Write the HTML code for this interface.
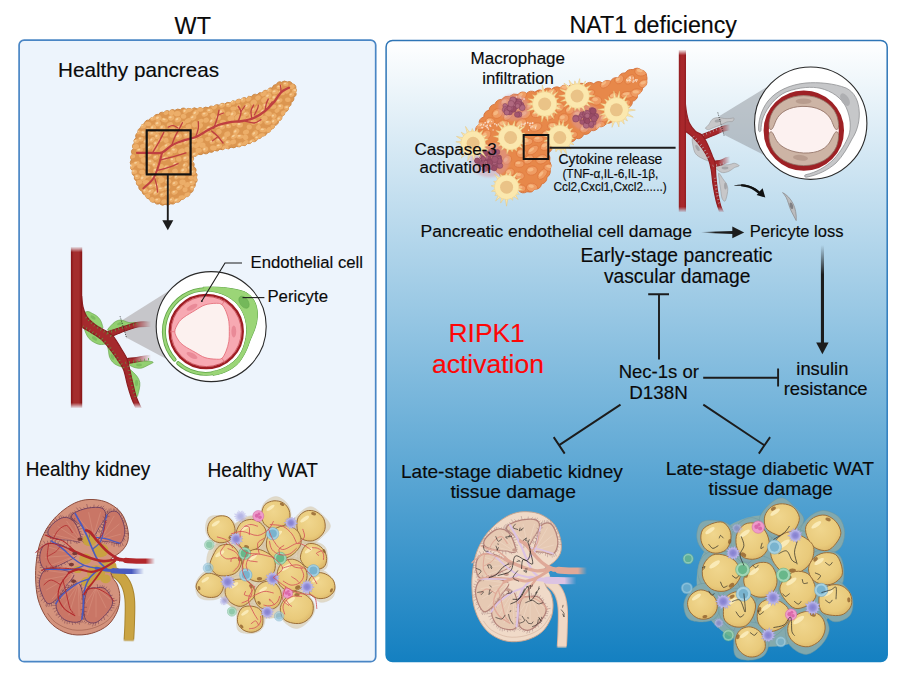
<!DOCTYPE html>
<html><head><meta charset="utf-8"><title>Graphical abstract</title>
<style>
html,body{margin:0;padding:0;background:#fff;}
svg{display:block}
text{font-family:"Liberation Sans",sans-serif;}
</style></head><body>
<svg width="909" height="675" viewBox="0 0 909 675">
<defs>
<linearGradient id="gAh" x1="0" y1="0" x2="1" y2="0"><stop offset="0" stop-color="#1c1c1c" stop-opacity="0"/><stop offset="0.45" stop-color="#1c1c1c"/></linearGradient>
<linearGradient id="gAv" x1="0" y1="0" x2="0" y2="1"><stop offset="0" stop-color="#1c1c1c" stop-opacity="0"/><stop offset="0.3" stop-color="#1c1c1c"/></linearGradient>
<linearGradient id="gR" x1="0" y1="0" x2="0" y2="1"><stop offset="0" stop-color="#ffffff"/><stop offset="1" stop-color="#1480c1"/></linearGradient>
<linearGradient id="gRs" x1="0" y1="0" x2="0" y2="1"><stop offset="0" stop-color="#2e75b6"/><stop offset="0.8" stop-color="#2e7fc0"/><stop offset="1" stop-color="#1480c1"/></linearGradient>
<linearGradient id="vT" x1="0" y1="0" x2="1" y2="0"><stop offset="0" stop-color="#851214"/><stop offset="0.25" stop-color="#a42d2d"/><stop offset="0.7" stop-color="#a42d2d"/><stop offset="1" stop-color="#851214"/></linearGradient>
<linearGradient id="fadeV" x1="0" y1="0" x2="0" y2="1"><stop offset="0" stop-color="#fff" stop-opacity="0"/><stop offset="0.035" stop-color="#fff" stop-opacity="1"/><stop offset="0.965" stop-color="#fff" stop-opacity="1"/><stop offset="1" stop-color="#fff" stop-opacity="0"/></linearGradient>
<mask id="mVL" maskUnits="userSpaceOnUse" x="60" y="240" width="120" height="180"><rect x="60" y="246.5" width="120" height="162" fill="url(#fadeV)"/></mask>
<linearGradient id="fadeH" x1="0" y1="0" x2="1" y2="0"><stop offset="0" stop-color="#fff"/><stop offset="0.8" stop-color="#fff"/><stop offset="1" stop-color="#fff" stop-opacity="0"/></linearGradient>
<mask id="mVLb" maskUnits="userSpaceOnUse" x="60" y="240" width="120" height="180"><rect x="60" y="240" width="91" height="180" fill="url(#fadeH)"/></mask>
<filter id="bl05" x="-5%" y="-5%" width="110%" height="110%"><feGaussianBlur stdDeviation="0.5"/></filter>
<filter id="bl1" x="-5%" y="-5%" width="110%" height="110%"><feGaussianBlur stdDeviation="0.9"/></filter>
<linearGradient id="vT2" x1="0" y1="0" x2="1" y2="0"><stop offset="0" stop-color="#8f1c20"/><stop offset="0.3" stop-color="#a8272b"/><stop offset="0.7" stop-color="#a8272b"/><stop offset="1" stop-color="#8f1c20"/></linearGradient>
<mask id="mVR" maskUnits="userSpaceOnUse" x="670" y="40" width="80" height="180"><rect x="670" y="49.5" width="80" height="163" fill="url(#fadeV)"/></mask>
<mask id="mVRb" maskUnits="userSpaceOnUse" x="670" y="40" width="80" height="180"><rect x="670" y="40" width="60" height="180" fill="url(#fadeH)"/></mask>

<linearGradient id="fadeKU" x1="0" y1="0" x2="0" y2="1"><stop offset="0" stop-color="#fff"/><stop offset="0.96" stop-color="#fff"/><stop offset="1" stop-color="#fff" stop-opacity="0"/></linearGradient>
<mask id="mKU" maskUnits="userSpaceOnUse" x="90" y="560" width="60" height="90"><rect x="90" y="560" width="60" height="82" fill="url(#fadeKU)"/></mask>
<linearGradient id="fadeKV" x1="0" y1="0" x2="1" y2="0"><stop offset="0" stop-color="#fff"/><stop offset="0.93" stop-color="#fff"/><stop offset="1" stop-color="#fff" stop-opacity="0"/></linearGradient>
<linearGradient id="fadeKV2" x1="0" y1="0" x2="1" y2="0"><stop offset="0" stop-color="#fff"/><stop offset="0.9" stop-color="#fff"/><stop offset="1" stop-color="#fff" stop-opacity="0"/></linearGradient>
<mask id="mKV2" maskUnits="userSpaceOnUse" x="20" y="490" width="140" height="160"><rect x="20" y="490" width="124" height="160" fill="url(#fadeKV2)"/></mask>
<mask id="mKV" maskUnits="userSpaceOnUse" x="20" y="490" width="140" height="160"><rect x="20" y="490" width="135" height="160" fill="url(#fadeKV)"/></mask>

<radialGradient id="adi" cx="0.42" cy="0.38" r="0.75"><stop offset="0" stop-color="#f0d68e"/><stop offset="0.65" stop-color="#e9ca7b"/><stop offset="1" stop-color="#d6ae62"/></radialGradient>
<radialGradient id="cPu" cx="0.5" cy="0.5" r="0.5"><stop offset="0" stop-color="#8480cf"/><stop offset="0.5" stop-color="#918cd6"/><stop offset="0.8" stop-color="#aaa6e2"/><stop offset="1" stop-color="#bcb8ea"/></radialGradient>
<radialGradient id="cTe" cx="0.5" cy="0.5" r="0.5"><stop offset="0" stop-color="#a8d6e2"/><stop offset="0.6" stop-color="#7fbdd2"/><stop offset="1" stop-color="#5fa3c0"/></radialGradient>
<radialGradient id="cGr" cx="0.5" cy="0.5" r="0.5"><stop offset="0" stop-color="#a6dcb8"/><stop offset="0.6" stop-color="#73c395"/><stop offset="1" stop-color="#55a87b"/></radialGradient>
<radialGradient id="cPk" cx="0.5" cy="0.5" r="0.5"><stop offset="0" stop-color="#f0a6d2"/><stop offset="0.7" stop-color="#e683bf"/><stop offset="1" stop-color="#d66aae"/></radialGradient>

</defs>
<rect width="909" height="675" fill="#fff"/>

<rect x="19.1" y="40.1" width="356.6" height="621.6" rx="5" fill="#edf4fc" stroke="#4a86c5" stroke-width="1.7"/>
<rect x="386.1" y="40.4" width="501.1" height="621.1" rx="6.5" fill="url(#gR)" stroke="url(#gRs)" stroke-width="1.5"/>

<g id="pancL">
<clipPath id="cpL"><path d="M295.8 88.3A3.9 3.9 0 0 0 292.4 83.9A3.6 3.6 0 0 0 287.2 82.0A4.4 4.4 0 0 0 281.6 82.3A3.4 3.4 0 0 0 276.5 84.4A4.2 4.2 0 0 0 272.3 88.1A3.9 3.9 0 0 0 267.5 90.8A3.4 3.4 0 0 0 262.3 93.0A4.2 4.2 0 0 0 257.0 94.9A3.4 3.4 0 0 0 251.7 96.7A4.0 4.0 0 0 0 246.4 98.4A3.4 3.4 0 0 0 241.0 99.9A3.5 3.5 0 0 0 235.6 101.4A4.0 4.0 0 0 0 230.2 102.8A4.7 4.7 0 0 0 224.7 104.1A3.5 3.5 0 0 0 219.3 105.4A3.7 3.7 0 0 0 213.8 106.6A4.4 4.4 0 0 0 208.3 107.7A4.9 4.9 0 0 0 202.8 108.5A4.3 4.3 0 0 0 197.2 109.0A4.0 4.0 0 0 0 191.6 109.2A5.0 5.0 0 0 0 186.0 109.4A3.4 3.4 0 0 0 180.4 109.7A4.8 4.8 0 0 0 174.9 110.4A3.8 3.8 0 0 0 169.3 111.4A3.5 3.5 0 0 0 163.9 112.7A3.5 3.5 0 0 0 158.7 114.6A3.8 3.8 0 0 0 153.7 117.2A4.7 4.7 0 0 0 149.0 120.2A3.6 3.6 0 0 0 144.5 123.6A4.3 4.3 0 0 0 140.7 127.7A4.4 4.4 0 0 0 138.0 132.6A3.9 3.9 0 0 0 136.0 137.8A4.2 4.2 0 0 0 134.4 143.2A3.4 3.4 0 0 0 133.4 148.7A3.4 3.4 0 0 0 132.4 154.2A3.7 3.7 0 0 0 131.4 159.7A4.5 4.5 0 0 0 131.3 165.3A4.0 4.0 0 0 0 132.5 170.7A3.8 3.8 0 0 0 134.4 176.0A4.3 4.3 0 0 0 136.6 181.2A4.1 4.1 0 0 0 138.9 186.2A3.8 3.8 0 0 0 141.9 191.0A4.7 4.7 0 0 0 145.4 195.3A4.5 4.5 0 0 0 149.5 199.2A3.7 3.7 0 0 0 154.2 202.1A4.3 4.3 0 0 0 159.6 203.7A4.2 4.2 0 0 0 165.1 204.4A4.8 4.8 0 0 0 170.7 203.8A4.5 4.5 0 0 0 176.0 202.0A3.8 3.8 0 0 0 181.1 199.6A5.0 5.0 0 0 0 185.8 196.7A3.5 3.5 0 0 0 190.0 193.0A4.0 4.0 0 0 0 193.2 188.4A4.6 4.6 0 0 0 195.2 183.2A3.6 3.6 0 0 0 196.3 177.7A4.1 4.1 0 0 0 195.4 172.2A3.4 3.4 0 0 0 193.7 166.9A4.4 4.4 0 0 0 192.4 161.4A4.6 4.6 0 0 0 193.0 156.1A4.3 4.3 0 0 0 198.1 154.2A4.8 4.8 0 0 0 203.6 153.2A3.8 3.8 0 0 0 209.1 151.9A4.5 4.5 0 0 0 214.5 150.5A4.3 4.3 0 0 0 219.9 149.2A4.3 4.3 0 0 0 225.4 148.0A4.1 4.1 0 0 0 231.0 147.2A4.7 4.7 0 0 0 236.5 146.5A4.9 4.9 0 0 0 242.0 145.3A4.1 4.1 0 0 0 247.3 143.6A4.4 4.4 0 0 0 252.5 141.4A3.4 3.4 0 0 0 257.4 138.8A4.5 4.5 0 0 0 262.3 136.1A4.4 4.4 0 0 0 267.0 133.0A5.0 5.0 0 0 0 271.3 129.4A4.7 4.7 0 0 0 275.0 125.3A3.8 3.8 0 0 0 278.5 120.9A4.0 4.0 0 0 0 281.9 116.4A4.4 4.4 0 0 0 285.1 111.8A3.3 3.3 0 0 0 288.1 107.1A4.1 4.1 0 0 0 291.0 102.3A3.6 3.6 0 0 0 293.6 97.3A3.5 3.5 0 0 0 295.7 92.2A3.4 3.4 0 0 0 295.8 88.3z"/></clipPath>
<path d="M295.8 88.3A3.9 3.9 0 0 0 292.4 83.9A3.6 3.6 0 0 0 287.2 82.0A4.4 4.4 0 0 0 281.6 82.3A3.4 3.4 0 0 0 276.5 84.4A4.2 4.2 0 0 0 272.3 88.1A3.9 3.9 0 0 0 267.5 90.8A3.4 3.4 0 0 0 262.3 93.0A4.2 4.2 0 0 0 257.0 94.9A3.4 3.4 0 0 0 251.7 96.7A4.0 4.0 0 0 0 246.4 98.4A3.4 3.4 0 0 0 241.0 99.9A3.5 3.5 0 0 0 235.6 101.4A4.0 4.0 0 0 0 230.2 102.8A4.7 4.7 0 0 0 224.7 104.1A3.5 3.5 0 0 0 219.3 105.4A3.7 3.7 0 0 0 213.8 106.6A4.4 4.4 0 0 0 208.3 107.7A4.9 4.9 0 0 0 202.8 108.5A4.3 4.3 0 0 0 197.2 109.0A4.0 4.0 0 0 0 191.6 109.2A5.0 5.0 0 0 0 186.0 109.4A3.4 3.4 0 0 0 180.4 109.7A4.8 4.8 0 0 0 174.9 110.4A3.8 3.8 0 0 0 169.3 111.4A3.5 3.5 0 0 0 163.9 112.7A3.5 3.5 0 0 0 158.7 114.6A3.8 3.8 0 0 0 153.7 117.2A4.7 4.7 0 0 0 149.0 120.2A3.6 3.6 0 0 0 144.5 123.6A4.3 4.3 0 0 0 140.7 127.7A4.4 4.4 0 0 0 138.0 132.6A3.9 3.9 0 0 0 136.0 137.8A4.2 4.2 0 0 0 134.4 143.2A3.4 3.4 0 0 0 133.4 148.7A3.4 3.4 0 0 0 132.4 154.2A3.7 3.7 0 0 0 131.4 159.7A4.5 4.5 0 0 0 131.3 165.3A4.0 4.0 0 0 0 132.5 170.7A3.8 3.8 0 0 0 134.4 176.0A4.3 4.3 0 0 0 136.6 181.2A4.1 4.1 0 0 0 138.9 186.2A3.8 3.8 0 0 0 141.9 191.0A4.7 4.7 0 0 0 145.4 195.3A4.5 4.5 0 0 0 149.5 199.2A3.7 3.7 0 0 0 154.2 202.1A4.3 4.3 0 0 0 159.6 203.7A4.2 4.2 0 0 0 165.1 204.4A4.8 4.8 0 0 0 170.7 203.8A4.5 4.5 0 0 0 176.0 202.0A3.8 3.8 0 0 0 181.1 199.6A5.0 5.0 0 0 0 185.8 196.7A3.5 3.5 0 0 0 190.0 193.0A4.0 4.0 0 0 0 193.2 188.4A4.6 4.6 0 0 0 195.2 183.2A3.6 3.6 0 0 0 196.3 177.7A4.1 4.1 0 0 0 195.4 172.2A3.4 3.4 0 0 0 193.7 166.9A4.4 4.4 0 0 0 192.4 161.4A4.6 4.6 0 0 0 193.0 156.1A4.3 4.3 0 0 0 198.1 154.2A4.8 4.8 0 0 0 203.6 153.2A3.8 3.8 0 0 0 209.1 151.9A4.5 4.5 0 0 0 214.5 150.5A4.3 4.3 0 0 0 219.9 149.2A4.3 4.3 0 0 0 225.4 148.0A4.1 4.1 0 0 0 231.0 147.2A4.7 4.7 0 0 0 236.5 146.5A4.9 4.9 0 0 0 242.0 145.3A4.1 4.1 0 0 0 247.3 143.6A4.4 4.4 0 0 0 252.5 141.4A3.4 3.4 0 0 0 257.4 138.8A4.5 4.5 0 0 0 262.3 136.1A4.4 4.4 0 0 0 267.0 133.0A5.0 5.0 0 0 0 271.3 129.4A4.7 4.7 0 0 0 275.0 125.3A3.8 3.8 0 0 0 278.5 120.9A4.0 4.0 0 0 0 281.9 116.4A4.4 4.4 0 0 0 285.1 111.8A3.3 3.3 0 0 0 288.1 107.1A4.1 4.1 0 0 0 291.0 102.3A3.6 3.6 0 0 0 293.6 97.3A3.5 3.5 0 0 0 295.7 92.2A3.4 3.4 0 0 0 295.8 88.3z" fill="#dc9650" stroke="#c98643" stroke-width="0.9"/>
<g clip-path="url(#cpL)">
<g fill="#ecae69" filter="url(#bl05)"><ellipse cx="258.0" cy="97.8" rx="2.8" ry="2.3" transform="rotate(-32 258.0 97.8)"/><ellipse cx="172.0" cy="129.8" rx="3.4" ry="2.6" transform="rotate(-25 172.0 129.8)"/><ellipse cx="275.0" cy="91.8" rx="3.3" ry="2.5" transform="rotate(-16 275.0 91.8)"/><ellipse cx="205.3" cy="149.2" rx="2.9" ry="2.7" transform="rotate(-46 205.3 149.2)"/><ellipse cx="273.8" cy="116.0" rx="2.7" ry="2.5" transform="rotate(-27 273.8 116.0)"/><ellipse cx="199.7" cy="125.9" rx="3.4" ry="2.6" transform="rotate(-27 199.7 125.9)"/><ellipse cx="262.9" cy="130.0" rx="3.5" ry="2.3" transform="rotate(-1 262.9 130.0)"/><ellipse cx="157.9" cy="123.6" rx="3.1" ry="2.8" transform="rotate(-22 157.9 123.6)"/><ellipse cx="188.5" cy="126.5" rx="3.0" ry="2.4" transform="rotate(-14 188.5 126.5)"/><ellipse cx="151.4" cy="185.9" rx="3.3" ry="2.1" transform="rotate(-24 151.4 185.9)"/><ellipse cx="148.0" cy="123.9" rx="3.4" ry="2.1" transform="rotate(9 148.0 123.9)"/><ellipse cx="174.9" cy="183.4" rx="3.0" ry="2.3" transform="rotate(-26 174.9 183.4)"/><ellipse cx="155.3" cy="148.4" rx="3.5" ry="2.4" transform="rotate(-49 155.3 148.4)"/><ellipse cx="135.6" cy="146.6" rx="3.5" ry="2.4" transform="rotate(-11 135.6 146.6)"/><ellipse cx="246.1" cy="113.9" rx="3.0" ry="2.2" transform="rotate(-21 246.1 113.9)"/><ellipse cx="259.8" cy="122.3" rx="2.9" ry="2.2" transform="rotate(-35 259.8 122.3)"/><ellipse cx="168.0" cy="181.3" rx="3.3" ry="2.6" transform="rotate(0 168.0 181.3)"/><ellipse cx="253.3" cy="109.7" rx="2.8" ry="2.2" transform="rotate(3 253.3 109.7)"/><ellipse cx="216.6" cy="125.5" rx="2.8" ry="2.7" transform="rotate(-20 216.6 125.5)"/><ellipse cx="177.3" cy="113.7" rx="3.5" ry="2.7" transform="rotate(-12 177.3 113.7)"/><ellipse cx="164.9" cy="158.3" rx="3.4" ry="2.3" transform="rotate(-36 164.9 158.3)"/><ellipse cx="196.5" cy="131.1" rx="3.5" ry="2.2" transform="rotate(-18 196.5 131.1)"/><ellipse cx="156.1" cy="192.7" rx="3.3" ry="2.2" transform="rotate(-38 156.1 192.7)"/><ellipse cx="264.3" cy="99.8" rx="3.4" ry="2.5" transform="rotate(-40 264.3 99.8)"/><ellipse cx="239.7" cy="124.8" rx="3.3" ry="2.8" transform="rotate(-4 239.7 124.8)"/><ellipse cx="166.0" cy="112.8" rx="2.6" ry="2.1" transform="rotate(-16 166.0 112.8)"/><ellipse cx="228.0" cy="113.7" rx="2.6" ry="2.1" transform="rotate(-26 228.0 113.7)"/><ellipse cx="219.0" cy="146.0" rx="3.1" ry="2.4" transform="rotate(-10 219.0 146.0)"/><ellipse cx="223.0" cy="121.8" rx="2.9" ry="2.0" transform="rotate(-0 223.0 121.8)"/><ellipse cx="176.9" cy="176.5" rx="3.2" ry="2.3" transform="rotate(-47 176.9 176.5)"/><ellipse cx="245.5" cy="137.3" rx="2.7" ry="2.8" transform="rotate(-26 245.5 137.3)"/><ellipse cx="219.2" cy="140.5" rx="3.5" ry="2.2" transform="rotate(4 219.2 140.5)"/><ellipse cx="174.0" cy="150.4" rx="3.4" ry="2.7" transform="rotate(8 174.0 150.4)"/><ellipse cx="279.3" cy="100.8" rx="3.4" ry="2.1" transform="rotate(-31 279.3 100.8)"/><ellipse cx="202.4" cy="145.1" rx="3.2" ry="2.7" transform="rotate(-1 202.4 145.1)"/><ellipse cx="183.7" cy="170.4" rx="3.6" ry="2.7" transform="rotate(-32 183.7 170.4)"/><ellipse cx="185.9" cy="158.3" rx="3.4" ry="2.5" transform="rotate(-29 185.9 158.3)"/><ellipse cx="291.6" cy="94.7" rx="2.6" ry="2.1" transform="rotate(-27 291.6 94.7)"/><ellipse cx="259.8" cy="115.0" rx="3.5" ry="2.3" transform="rotate(-17 259.8 115.0)"/><ellipse cx="152.5" cy="133.6" rx="3.5" ry="2.0" transform="rotate(-3 152.5 133.6)"/><ellipse cx="140.6" cy="166.2" rx="3.5" ry="2.4" transform="rotate(9 140.6 166.2)"/><ellipse cx="187.1" cy="149.6" rx="2.7" ry="2.7" transform="rotate(-33 187.1 149.6)"/><ellipse cx="164.5" cy="120.1" rx="3.5" ry="2.2" transform="rotate(9 164.5 120.1)"/><ellipse cx="179.0" cy="143.2" rx="3.5" ry="2.1" transform="rotate(-8 179.0 143.2)"/><ellipse cx="133.7" cy="171.7" rx="3.3" ry="2.2" transform="rotate(-1 133.7 171.7)"/><ellipse cx="222.1" cy="105.1" rx="3.1" ry="2.5" transform="rotate(-26 222.1 105.1)"/><ellipse cx="269.0" cy="130.1" rx="3.0" ry="2.6" transform="rotate(-47 269.0 130.1)"/><ellipse cx="236.2" cy="131.5" rx="3.4" ry="2.6" transform="rotate(-41 236.2 131.5)"/><ellipse cx="171.1" cy="117.8" rx="3.2" ry="2.7" transform="rotate(-13 171.1 117.8)"/><ellipse cx="204.8" cy="114.2" rx="3.3" ry="2.3" transform="rotate(-13 204.8 114.2)"/><ellipse cx="221.5" cy="111.9" rx="3.3" ry="2.8" transform="rotate(-37 221.5 111.9)"/><ellipse cx="194.2" cy="140.0" rx="3.6" ry="2.3" transform="rotate(-6 194.2 140.0)"/><ellipse cx="214.2" cy="106.5" rx="3.0" ry="2.6" transform="rotate(-42 214.2 106.5)"/><ellipse cx="169.6" cy="153.6" rx="3.2" ry="2.2" transform="rotate(-12 169.6 153.6)"/><ellipse cx="155.8" cy="170.6" rx="2.9" ry="2.7" transform="rotate(3 155.8 170.6)"/><ellipse cx="142.0" cy="172.1" rx="2.9" ry="2.3" transform="rotate(6 142.0 172.1)"/><ellipse cx="175.0" cy="171.2" rx="2.9" ry="2.6" transform="rotate(-10 175.0 171.2)"/><ellipse cx="165.0" cy="172.5" rx="3.3" ry="2.5" transform="rotate(-39 165.0 172.5)"/><ellipse cx="181.4" cy="151.4" rx="3.5" ry="2.7" transform="rotate(-38 181.4 151.4)"/><ellipse cx="175.5" cy="164.2" rx="2.7" ry="2.1" transform="rotate(-11 175.5 164.2)"/><ellipse cx="207.9" cy="139.0" rx="2.9" ry="2.1" transform="rotate(-16 207.9 139.0)"/><ellipse cx="150.7" cy="191.4" rx="3.4" ry="2.0" transform="rotate(-28 150.7 191.4)"/><ellipse cx="164.0" cy="201.7" rx="2.8" ry="2.2" transform="rotate(-19 164.0 201.7)"/><ellipse cx="285.7" cy="84.1" rx="2.7" ry="2.0" transform="rotate(-4 285.7 84.1)"/><ellipse cx="287.3" cy="107.7" rx="3.4" ry="2.4" transform="rotate(-5 287.3 107.7)"/><ellipse cx="187.9" cy="120.6" rx="3.2" ry="2.2" transform="rotate(-27 187.9 120.6)"/><ellipse cx="179.0" cy="127.5" rx="2.7" ry="2.0" transform="rotate(-33 179.0 127.5)"/><ellipse cx="228.4" cy="126.1" rx="2.7" ry="2.2" transform="rotate(-1 228.4 126.1)"/><ellipse cx="162.5" cy="127.6" rx="2.9" ry="2.7" transform="rotate(-19 162.5 127.6)"/><ellipse cx="237.6" cy="117.0" rx="3.5" ry="2.3" transform="rotate(-36 237.6 117.0)"/><ellipse cx="152.2" cy="139.7" rx="3.1" ry="2.1" transform="rotate(-45 152.2 139.7)"/><ellipse cx="167.5" cy="192.9" rx="2.8" ry="2.1" transform="rotate(-28 167.5 192.9)"/><ellipse cx="177.0" cy="200.4" rx="3.6" ry="2.3" transform="rotate(-27 177.0 200.4)"/><ellipse cx="257.4" cy="137.9" rx="2.9" ry="2.5" transform="rotate(-12 257.4 137.9)"/><ellipse cx="172.7" cy="159.8" rx="2.6" ry="2.6" transform="rotate(-16 172.7 159.8)"/><ellipse cx="142.8" cy="146.1" rx="2.8" ry="2.2" transform="rotate(-14 142.8 146.1)"/><ellipse cx="209.6" cy="110.7" rx="3.1" ry="2.3" transform="rotate(-4 209.6 110.7)"/><ellipse cx="171.9" cy="199.6" rx="2.7" ry="2.1" transform="rotate(-39 171.9 199.6)"/><ellipse cx="247.5" cy="119.6" rx="3.0" ry="2.0" transform="rotate(-23 247.5 119.6)"/><ellipse cx="182.6" cy="182.3" rx="3.2" ry="2.8" transform="rotate(-6 182.6 182.3)"/><ellipse cx="287.8" cy="99.8" rx="2.8" ry="2.2" transform="rotate(-6 287.8 99.8)"/><ellipse cx="136.4" cy="163.3" rx="3.3" ry="2.1" transform="rotate(-20 136.4 163.3)"/><ellipse cx="151.6" cy="200.0" rx="3.0" ry="2.7" transform="rotate(-40 151.6 200.0)"/><ellipse cx="209.3" cy="127.6" rx="3.2" ry="2.1" transform="rotate(-20 209.3 127.6)"/><ellipse cx="233.0" cy="114.0" rx="3.3" ry="2.7" transform="rotate(-44 233.0 114.0)"/><ellipse cx="161.3" cy="180.2" rx="3.4" ry="2.8" transform="rotate(-41 161.3 180.2)"/><ellipse cx="190.9" cy="177.7" rx="2.7" ry="2.0" transform="rotate(10 190.9 177.7)"/><ellipse cx="192.7" cy="172.3" rx="3.0" ry="2.7" transform="rotate(-11 192.7 172.3)"/><ellipse cx="185.0" cy="130.4" rx="2.9" ry="2.4" transform="rotate(10 185.0 130.4)"/><ellipse cx="192.6" cy="188.0" rx="2.8" ry="2.5" transform="rotate(3 192.6 188.0)"/><ellipse cx="148.6" cy="154.9" rx="3.0" ry="2.1" transform="rotate(-15 148.6 154.9)"/><ellipse cx="233.5" cy="108.6" rx="3.2" ry="2.0" transform="rotate(-7 233.5 108.6)"/><ellipse cx="185.2" cy="165.0" rx="2.9" ry="2.1" transform="rotate(-43 185.2 165.0)"/><ellipse cx="147.9" cy="130.3" rx="2.9" ry="2.3" transform="rotate(-11 147.9 130.3)"/><ellipse cx="246.0" cy="132.1" rx="3.1" ry="2.3" transform="rotate(-21 246.0 132.1)"/><ellipse cx="177.9" cy="119.6" rx="3.3" ry="2.6" transform="rotate(-24 177.9 119.6)"/><ellipse cx="281.4" cy="92.8" rx="3.6" ry="2.4" transform="rotate(10 281.4 92.8)"/><ellipse cx="197.1" cy="145.3" rx="3.6" ry="2.1" transform="rotate(-41 197.1 145.3)"/><ellipse cx="279.3" cy="86.9" rx="2.9" ry="2.0" transform="rotate(-20 279.3 86.9)"/><ellipse cx="227.3" cy="134.1" rx="3.1" ry="2.7" transform="rotate(-28 227.3 134.1)"/><ellipse cx="239.9" cy="136.6" rx="3.5" ry="2.1" transform="rotate(-2 239.9 136.6)"/><ellipse cx="233.3" cy="141.9" rx="2.9" ry="2.4" transform="rotate(-25 233.3 141.9)"/><ellipse cx="170.0" cy="175.4" rx="3.3" ry="2.2" transform="rotate(-32 170.0 175.4)"/><ellipse cx="160.8" cy="139.9" rx="3.3" ry="2.0" transform="rotate(-26 160.8 139.9)"/><ellipse cx="265.7" cy="105.6" rx="3.3" ry="2.7" transform="rotate(-3 265.7 105.6)"/><ellipse cx="139.1" cy="182.3" rx="3.3" ry="2.3" transform="rotate(-14 139.1 182.3)"/><ellipse cx="155.8" cy="157.4" rx="2.9" ry="2.2" transform="rotate(-19 155.8 157.4)"/><ellipse cx="190.1" cy="109.4" rx="3.5" ry="2.1" transform="rotate(-32 190.1 109.4)"/><ellipse cx="218.9" cy="131.6" rx="2.6" ry="2.8" transform="rotate(-35 218.9 131.6)"/><ellipse cx="185.1" cy="189.7" rx="2.6" ry="2.5" transform="rotate(2 185.1 189.7)"/><ellipse cx="185.4" cy="111.2" rx="2.7" ry="2.6" transform="rotate(-24 185.4 111.2)"/><ellipse cx="147.3" cy="174.7" rx="3.6" ry="2.7" transform="rotate(-35 147.3 174.7)"/><ellipse cx="249.3" cy="127.0" rx="2.6" ry="2.5" transform="rotate(-16 249.3 127.0)"/><ellipse cx="199.3" cy="135.4" rx="2.7" ry="2.2" transform="rotate(-12 199.3 135.4)"/><ellipse cx="166.9" cy="187.5" rx="3.5" ry="2.5" transform="rotate(-26 166.9 187.5)"/><ellipse cx="146.1" cy="182.3" rx="3.3" ry="2.3" transform="rotate(0 146.1 182.3)"/><ellipse cx="212.2" cy="142.1" rx="2.7" ry="2.0" transform="rotate(-9 212.2 142.1)"/><ellipse cx="268.5" cy="113.8" rx="3.4" ry="2.6" transform="rotate(3 268.5 113.8)"/><ellipse cx="166.6" cy="167.6" rx="2.9" ry="2.7" transform="rotate(-37 166.6 167.6)"/><ellipse cx="145.4" cy="190.7" rx="2.7" ry="2.4" transform="rotate(-28 145.4 190.7)"/><ellipse cx="174.6" cy="192.3" rx="3.2" ry="2.2" transform="rotate(-18 174.6 192.3)"/><ellipse cx="277.1" cy="110.5" rx="2.7" ry="2.1" transform="rotate(-29 277.1 110.5)"/><ellipse cx="253.7" cy="102.7" rx="3.3" ry="2.8" transform="rotate(-41 253.7 102.7)"/><ellipse cx="270.5" cy="100.8" rx="2.9" ry="2.1" transform="rotate(-8 270.5 100.8)"/><ellipse cx="254.8" cy="133.5" rx="3.5" ry="2.5" transform="rotate(-41 254.8 133.5)"/><ellipse cx="206.1" cy="120.2" rx="2.9" ry="2.5" transform="rotate(-22 206.1 120.2)"/><ellipse cx="292.1" cy="86.6" rx="2.8" ry="2.3" transform="rotate(-35 292.1 86.6)"/><ellipse cx="210.3" cy="134.4" rx="2.7" ry="2.1" transform="rotate(-6 210.3 134.4)"/><ellipse cx="140.8" cy="139.1" rx="2.7" ry="2.4" transform="rotate(-3 140.8 139.1)"/><ellipse cx="213.4" cy="148.0" rx="3.4" ry="2.4" transform="rotate(8 213.4 148.0)"/><ellipse cx="143.6" cy="159.9" rx="2.8" ry="2.8" transform="rotate(-27 143.6 159.9)"/><ellipse cx="234.4" cy="123.4" rx="2.9" ry="2.2" transform="rotate(-44 234.4 123.4)"/><ellipse cx="273.4" cy="126.8" rx="2.9" ry="2.2" transform="rotate(-1 273.4 126.8)"/><ellipse cx="258.4" cy="107.7" rx="3.6" ry="2.7" transform="rotate(-35 258.4 107.7)"/><ellipse cx="162.5" cy="194.8" rx="3.0" ry="2.2" transform="rotate(-25 162.5 194.8)"/><ellipse cx="137.2" cy="176.8" rx="2.8" ry="2.5" transform="rotate(1 137.2 176.8)"/><ellipse cx="192.0" cy="182.7" rx="3.0" ry="2.3" transform="rotate(-14 192.0 182.7)"/><ellipse cx="200.8" cy="120.9" rx="2.8" ry="2.0" transform="rotate(-12 200.8 120.9)"/><ellipse cx="195.1" cy="154.4" rx="3.2" ry="2.3" transform="rotate(-21 195.1 154.4)"/><ellipse cx="274.7" cy="97.7" rx="2.9" ry="2.6" transform="rotate(-23 274.7 97.7)"/><ellipse cx="242.9" cy="99.7" rx="2.7" ry="2.6" transform="rotate(-33 242.9 99.7)"/><ellipse cx="267.8" cy="122.6" rx="3.5" ry="2.2" transform="rotate(-4 267.8 122.6)"/><ellipse cx="228.5" cy="105.1" rx="2.8" ry="2.1" transform="rotate(-7 228.5 105.1)"/><ellipse cx="139.6" cy="150.2" rx="3.3" ry="2.3" transform="rotate(-13 139.6 150.2)"/><ellipse cx="141.7" cy="155.2" rx="3.0" ry="2.2" transform="rotate(-26 141.7 155.2)"/><ellipse cx="157.5" cy="200.2" rx="3.1" ry="2.3" transform="rotate(-10 157.5 200.2)"/><ellipse cx="154.8" cy="164.9" rx="2.7" ry="2.7" transform="rotate(-21 154.8 164.9)"/><ellipse cx="212.2" cy="120.9" rx="3.2" ry="2.0" transform="rotate(-46 212.2 120.9)"/><ellipse cx="166.0" cy="140.4" rx="2.6" ry="2.5" transform="rotate(-17 166.0 140.4)"/><ellipse cx="213.0" cy="115.5" rx="2.7" ry="2.6" transform="rotate(-25 213.0 115.5)"/><ellipse cx="274.1" cy="121.2" rx="2.8" ry="2.7" transform="rotate(-46 274.1 121.2)"/><ellipse cx="147.1" cy="167.5" rx="3.2" ry="2.1" transform="rotate(7 147.1 167.5)"/><ellipse cx="186.5" cy="135.3" rx="3.2" ry="2.5" transform="rotate(-3 186.5 135.3)"/><ellipse cx="172.5" cy="145.6" rx="2.7" ry="2.3" transform="rotate(-49 172.5 145.6)"/><ellipse cx="152.8" cy="117.9" rx="2.9" ry="2.7" transform="rotate(-26 152.8 117.9)"/><ellipse cx="238.5" cy="106.6" rx="2.7" ry="2.1" transform="rotate(-44 238.5 106.6)"/><ellipse cx="227.9" cy="142.9" rx="3.1" ry="2.8" transform="rotate(-4 227.9 142.9)"/><ellipse cx="164.9" cy="134.1" rx="3.1" ry="2.3" transform="rotate(2 164.9 134.1)"/><ellipse cx="138.1" cy="132.3" rx="3.4" ry="2.0" transform="rotate(-1 138.1 132.3)"/><ellipse cx="150.1" cy="147.3" rx="3.4" ry="2.0" transform="rotate(-39 150.1 147.3)"/><ellipse cx="173.2" cy="135.2" rx="3.5" ry="2.3" transform="rotate(-22 173.2 135.2)"/><ellipse cx="241.8" cy="111.0" rx="3.3" ry="2.1" transform="rotate(-19 241.8 111.0)"/><ellipse cx="268.4" cy="95.9" rx="3.3" ry="2.7" transform="rotate(-36 268.4 95.9)"/><ellipse cx="162.5" cy="148.4" rx="3.4" ry="2.0" transform="rotate(-42 162.5 148.4)"/><ellipse cx="253.7" cy="121.9" rx="3.3" ry="2.8" transform="rotate(-22 253.7 121.9)"/><ellipse cx="222.1" cy="127.1" rx="2.9" ry="2.3" transform="rotate(-6 222.1 127.1)"/><ellipse cx="240.4" cy="144.9" rx="3.1" ry="2.7" transform="rotate(-23 240.4 144.9)"/><ellipse cx="158.3" cy="118.1" rx="3.3" ry="2.8" transform="rotate(-23 158.3 118.1)"/><ellipse cx="153.7" cy="177.0" rx="2.7" ry="2.3" transform="rotate(-13 153.7 177.0)"/><ellipse cx="156.1" cy="143.4" rx="2.8" ry="2.8" transform="rotate(-28 156.1 143.4)"/><ellipse cx="157.3" cy="185.4" rx="3.3" ry="2.8" transform="rotate(-26 157.3 185.4)"/><ellipse cx="169.9" cy="124.7" rx="3.2" ry="2.3" transform="rotate(-25 169.9 124.7)"/><ellipse cx="187.4" cy="194.7" rx="3.0" ry="2.2" transform="rotate(-22 187.4 194.7)"/><ellipse cx="182.2" cy="176.5" rx="3.4" ry="2.1" transform="rotate(-1 182.2 176.5)"/><ellipse cx="185.9" cy="141.4" rx="3.1" ry="2.7" transform="rotate(-46 185.9 141.4)"/><ellipse cx="251.9" cy="115.3" rx="3.4" ry="2.3" transform="rotate(-26 251.9 115.3)"/><ellipse cx="132.0" cy="156.4" rx="3.2" ry="2.1" transform="rotate(-5 132.0 156.4)"/><ellipse cx="284.1" cy="113.1" rx="3.3" ry="2.7" transform="rotate(-16 284.1 113.1)"/><ellipse cx="191.7" cy="145.7" rx="3.2" ry="2.2" transform="rotate(-11 191.7 145.7)"/><ellipse cx="273.0" cy="106.6" rx="3.5" ry="2.2" transform="rotate(-2 273.0 106.6)"/><ellipse cx="242.6" cy="118.0" rx="3.5" ry="2.2" transform="rotate(-29 242.6 118.0)"/><ellipse cx="218.1" cy="117.5" rx="2.8" ry="2.7" transform="rotate(-29 218.1 117.5)"/><ellipse cx="146.5" cy="141.3" rx="3.4" ry="2.8" transform="rotate(-45 146.5 141.3)"/><ellipse cx="234.2" cy="136.3" rx="3.6" ry="2.1" transform="rotate(-29 234.2 136.3)"/><ellipse cx="182.2" cy="197.5" rx="3.6" ry="2.3" transform="rotate(-1 182.2 197.5)"/><ellipse cx="178.8" cy="159.1" rx="2.8" ry="2.7" transform="rotate(-9 178.8 159.1)"/><ellipse cx="190.5" cy="167.6" rx="2.7" ry="2.7" transform="rotate(-44 190.5 167.6)"/><ellipse cx="247.3" cy="106.0" rx="3.2" ry="2.7" transform="rotate(-42 247.3 106.0)"/><ellipse cx="195.9" cy="178.4" rx="2.7" ry="2.7" transform="rotate(-43 195.9 178.4)"/><ellipse cx="146.8" cy="196.1" rx="3.4" ry="2.7" transform="rotate(-24 146.8 196.1)"/><ellipse cx="191.5" cy="160.5" rx="2.7" ry="2.7" transform="rotate(1 191.5 160.5)"/><ellipse cx="142.3" cy="126.1" rx="3.6" ry="2.4" transform="rotate(3 142.3 126.1)"/><ellipse cx="248.7" cy="98.8" rx="3.0" ry="2.2" transform="rotate(-46 248.7 98.8)"/><ellipse cx="205.8" cy="132.0" rx="2.8" ry="2.8" transform="rotate(-33 205.8 132.0)"/><ellipse cx="161.1" cy="166.7" rx="2.8" ry="2.5" transform="rotate(-23 161.1 166.7)"/><ellipse cx="200.1" cy="140.6" rx="3.4" ry="2.5" transform="rotate(-26 200.1 140.6)"/><ellipse cx="263.6" cy="93.5" rx="3.4" ry="2.4" transform="rotate(-33 263.6 93.5)"/><ellipse cx="258.3" cy="127.4" rx="2.7" ry="2.3" transform="rotate(-45 258.3 127.4)"/><ellipse cx="280.4" cy="106.7" rx="3.1" ry="2.7" transform="rotate(6 280.4 106.7)"/><ellipse cx="195.7" cy="112.9" rx="3.3" ry="2.6" transform="rotate(-42 195.7 112.9)"/><ellipse cx="231.0" cy="118.7" rx="3.5" ry="2.6" transform="rotate(7 231.0 118.7)"/><ellipse cx="193.1" cy="117.5" rx="3.4" ry="2.5" transform="rotate(-31 193.1 117.5)"/><ellipse cx="190.7" cy="131.1" rx="2.7" ry="2.2" transform="rotate(-5 190.7 131.1)"/><ellipse cx="179.4" cy="187.6" rx="3.5" ry="2.2" transform="rotate(-30 179.4 187.6)"/><ellipse cx="225.3" cy="147.8" rx="3.4" ry="2.5" transform="rotate(-18 225.3 147.8)"/><ellipse cx="263.3" cy="111.1" rx="3.4" ry="2.2" transform="rotate(-38 263.3 111.1)"/><ellipse cx="194.8" cy="124.3" rx="3.3" ry="2.8" transform="rotate(-42 194.8 124.3)"/><ellipse cx="178.7" cy="136.5" rx="3.3" ry="2.6" transform="rotate(-28 178.7 136.5)"/><ellipse cx="150.5" cy="161.9" rx="3.3" ry="2.6" transform="rotate(0 150.5 161.9)"/><ellipse cx="160.8" cy="189.0" rx="3.5" ry="2.4" transform="rotate(-1 160.8 189.0)"/><ellipse cx="158.3" cy="131.2" rx="3.0" ry="2.1" transform="rotate(-30 158.3 131.2)"/><ellipse cx="252.0" cy="141.5" rx="3.1" ry="2.1" transform="rotate(-30 252.0 141.5)"/><ellipse cx="198.7" cy="150.4" rx="3.2" ry="2.6" transform="rotate(-5 198.7 150.4)"/><ellipse cx="200.4" cy="109.3" rx="3.1" ry="2.5" transform="rotate(5 200.4 109.3)"/><ellipse cx="143.4" cy="133.2" rx="3.1" ry="2.8" transform="rotate(6 143.4 133.2)"/><ellipse cx="166.9" cy="145.7" rx="3.5" ry="2.3" transform="rotate(-34 166.9 145.7)"/><ellipse cx="224.4" cy="138.2" rx="2.7" ry="2.5" transform="rotate(-44 224.4 138.2)"/><ellipse cx="183.5" cy="116.3" rx="2.8" ry="2.4" transform="rotate(-7 183.5 116.3)"/><ellipse cx="245.6" cy="142.8" rx="3.2" ry="2.1" transform="rotate(-38 245.6 142.8)"/><ellipse cx="183.1" cy="123.5" rx="3.0" ry="2.3" transform="rotate(-29 183.1 123.5)"/><ellipse cx="153.1" cy="127.6" rx="3.0" ry="2.7" transform="rotate(-37 153.1 127.6)"/><ellipse cx="279.6" cy="118.7" rx="3.1" ry="2.6" transform="rotate(-39 279.6 118.7)"/><ellipse cx="171.5" cy="112.6" rx="2.8" ry="2.6" transform="rotate(-1 171.5 112.6)"/><ellipse cx="264.4" cy="118.5" rx="3.3" ry="2.8" transform="rotate(-31 264.4 118.5)"/><ellipse cx="161.8" cy="154.0" rx="2.9" ry="2.0" transform="rotate(-39 161.8 154.0)"/><ellipse cx="268.8" cy="90.5" rx="3.0" ry="2.1" transform="rotate(-7 268.8 90.5)"/><ellipse cx="136.2" cy="141.3" rx="2.9" ry="2.2" transform="rotate(-20 136.2 141.3)"/><ellipse cx="287.4" cy="91.1" rx="3.0" ry="2.1" transform="rotate(-45 287.4 91.1)"/><ellipse cx="261.9" cy="135.5" rx="3.5" ry="2.2" transform="rotate(-12 261.9 135.5)"/><ellipse cx="237.7" cy="100.8" rx="2.6" ry="2.7" transform="rotate(-30 237.7 100.8)"/><ellipse cx="187.1" cy="184.9" rx="2.9" ry="2.6" transform="rotate(-34 187.1 184.9)"/><ellipse cx="215.2" cy="136.0" rx="2.8" ry="2.2" transform="rotate(-31 215.2 136.0)"/><ellipse cx="143.1" cy="177.8" rx="3.2" ry="2.8" transform="rotate(-49 143.1 177.8)"/><ellipse cx="131.8" cy="166.2" rx="3.3" ry="2.3" transform="rotate(-43 131.8 166.2)"/><ellipse cx="159.8" cy="175.4" rx="2.9" ry="2.5" transform="rotate(3 159.8 175.4)"/><ellipse cx="295.5" cy="90.9" rx="3.5" ry="2.4" transform="rotate(5 295.5 90.9)"/><ellipse cx="232.6" cy="102.2" rx="2.9" ry="2.6" transform="rotate(-10 232.6 102.2)"/><ellipse cx="157.2" cy="136.3" rx="2.7" ry="2.7" transform="rotate(-20 157.2 136.3)"/></g>
<g fill="#f8d5a2" opacity="0.85" filter="url(#bl05)"><ellipse cx="274.4" cy="91.1" rx="1.5" ry="0.9" transform="rotate(-16 275.0 91.8)"/><ellipse cx="204.7" cy="148.5" rx="1.3" ry="1.0" transform="rotate(-46 205.3 149.2)"/><ellipse cx="273.2" cy="115.3" rx="1.2" ry="0.9" transform="rotate(-27 273.8 116.0)"/><ellipse cx="262.3" cy="129.3" rx="1.6" ry="0.9" transform="rotate(-1 262.9 130.0)"/><ellipse cx="157.3" cy="122.9" rx="1.4" ry="1.1" transform="rotate(-22 157.9 123.6)"/><ellipse cx="150.8" cy="185.2" rx="1.5" ry="0.8" transform="rotate(-24 151.4 185.9)"/><ellipse cx="174.3" cy="182.7" rx="1.3" ry="0.9" transform="rotate(-26 174.9 183.4)"/><ellipse cx="245.5" cy="113.2" rx="1.4" ry="0.8" transform="rotate(-21 246.1 113.9)"/><ellipse cx="259.2" cy="121.6" rx="1.3" ry="0.8" transform="rotate(-35 259.8 122.3)"/><ellipse cx="167.4" cy="180.6" rx="1.5" ry="1.0" transform="rotate(0 168.0 181.3)"/><ellipse cx="252.7" cy="109.0" rx="1.3" ry="0.8" transform="rotate(3 253.3 109.7)"/><ellipse cx="216.0" cy="124.8" rx="1.2" ry="1.0" transform="rotate(-20 216.6 125.5)"/><ellipse cx="164.3" cy="157.6" rx="1.5" ry="0.9" transform="rotate(-36 164.9 158.3)"/><ellipse cx="155.5" cy="192.0" rx="1.5" ry="0.8" transform="rotate(-38 156.1 192.7)"/><ellipse cx="239.1" cy="124.1" rx="1.5" ry="1.1" transform="rotate(-4 239.7 124.8)"/><ellipse cx="218.4" cy="145.3" rx="1.4" ry="0.9" transform="rotate(-10 219.0 146.0)"/><ellipse cx="176.3" cy="175.8" rx="1.4" ry="0.9" transform="rotate(-47 176.9 176.5)"/><ellipse cx="218.6" cy="139.8" rx="1.6" ry="0.8" transform="rotate(4 219.2 140.5)"/><ellipse cx="173.4" cy="149.7" rx="1.5" ry="1.0" transform="rotate(8 174.0 150.4)"/><ellipse cx="278.7" cy="100.1" rx="1.5" ry="0.8" transform="rotate(-31 279.3 100.8)"/><ellipse cx="183.1" cy="169.7" rx="1.6" ry="1.0" transform="rotate(-32 183.7 170.4)"/><ellipse cx="185.3" cy="157.6" rx="1.5" ry="1.0" transform="rotate(-29 185.9 158.3)"/><ellipse cx="291.0" cy="94.0" rx="1.2" ry="0.8" transform="rotate(-27 291.6 94.7)"/><ellipse cx="151.9" cy="132.9" rx="1.6" ry="0.8" transform="rotate(-3 152.5 133.6)"/><ellipse cx="163.9" cy="119.4" rx="1.6" ry="0.9" transform="rotate(9 164.5 120.1)"/><ellipse cx="178.4" cy="142.5" rx="1.6" ry="0.8" transform="rotate(-8 179.0 143.2)"/><ellipse cx="133.1" cy="171.0" rx="1.5" ry="0.8" transform="rotate(-1 133.7 171.7)"/><ellipse cx="221.5" cy="104.4" rx="1.4" ry="0.9" transform="rotate(-26 222.1 105.1)"/><ellipse cx="235.6" cy="130.8" rx="1.5" ry="1.0" transform="rotate(-41 236.2 131.5)"/><ellipse cx="170.5" cy="117.1" rx="1.4" ry="1.0" transform="rotate(-13 171.1 117.8)"/><ellipse cx="204.2" cy="113.5" rx="1.5" ry="0.9" transform="rotate(-13 204.8 114.2)"/><ellipse cx="220.9" cy="111.2" rx="1.5" ry="1.1" transform="rotate(-37 221.5 111.9)"/><ellipse cx="193.6" cy="139.3" rx="1.6" ry="0.9" transform="rotate(-6 194.2 140.0)"/><ellipse cx="169.0" cy="152.9" rx="1.4" ry="0.8" transform="rotate(-12 169.6 153.6)"/><ellipse cx="155.2" cy="169.9" rx="1.3" ry="1.0" transform="rotate(3 155.8 170.6)"/><ellipse cx="174.9" cy="163.5" rx="1.2" ry="0.8" transform="rotate(-11 175.5 164.2)"/><ellipse cx="150.1" cy="190.7" rx="1.5" ry="0.8" transform="rotate(-28 150.7 191.4)"/><ellipse cx="285.1" cy="83.4" rx="1.2" ry="0.8" transform="rotate(-4 285.7 84.1)"/><ellipse cx="286.7" cy="107.0" rx="1.5" ry="0.9" transform="rotate(-5 287.3 107.7)"/><ellipse cx="178.4" cy="126.8" rx="1.2" ry="0.8" transform="rotate(-33 179.0 127.5)"/><ellipse cx="227.8" cy="125.4" rx="1.2" ry="0.8" transform="rotate(-1 228.4 126.1)"/><ellipse cx="161.9" cy="126.9" rx="1.3" ry="1.0" transform="rotate(-19 162.5 127.6)"/><ellipse cx="151.6" cy="139.0" rx="1.4" ry="0.8" transform="rotate(-45 152.2 139.7)"/><ellipse cx="176.4" cy="199.7" rx="1.6" ry="0.9" transform="rotate(-27 177.0 200.4)"/><ellipse cx="256.8" cy="137.2" rx="1.3" ry="0.9" transform="rotate(-12 257.4 137.9)"/><ellipse cx="172.1" cy="159.1" rx="1.2" ry="1.0" transform="rotate(-16 172.7 159.8)"/><ellipse cx="209.0" cy="110.0" rx="1.4" ry="0.9" transform="rotate(-4 209.6 110.7)"/><ellipse cx="171.3" cy="198.9" rx="1.2" ry="0.8" transform="rotate(-39 171.9 199.6)"/><ellipse cx="135.8" cy="162.6" rx="1.5" ry="0.8" transform="rotate(-20 136.4 163.3)"/><ellipse cx="208.7" cy="126.9" rx="1.4" ry="0.8" transform="rotate(-20 209.3 127.6)"/><ellipse cx="232.4" cy="113.3" rx="1.5" ry="1.0" transform="rotate(-44 233.0 114.0)"/><ellipse cx="192.1" cy="171.6" rx="1.4" ry="1.0" transform="rotate(-11 192.7 172.3)"/><ellipse cx="192.0" cy="187.3" rx="1.3" ry="1.0" transform="rotate(3 192.6 188.0)"/><ellipse cx="184.6" cy="164.3" rx="1.3" ry="0.8" transform="rotate(-43 185.2 165.0)"/><ellipse cx="147.3" cy="129.6" rx="1.3" ry="0.9" transform="rotate(-11 147.9 130.3)"/><ellipse cx="177.3" cy="118.9" rx="1.5" ry="1.0" transform="rotate(-24 177.9 119.6)"/><ellipse cx="280.8" cy="92.1" rx="1.6" ry="0.9" transform="rotate(10 281.4 92.8)"/><ellipse cx="278.7" cy="86.2" rx="1.3" ry="0.8" transform="rotate(-20 279.3 86.9)"/><ellipse cx="239.3" cy="135.9" rx="1.6" ry="0.8" transform="rotate(-2 239.9 136.6)"/><ellipse cx="160.2" cy="139.2" rx="1.5" ry="0.8" transform="rotate(-26 160.8 139.9)"/><ellipse cx="265.1" cy="104.9" rx="1.5" ry="1.0" transform="rotate(-3 265.7 105.6)"/><ellipse cx="155.2" cy="156.7" rx="1.3" ry="0.8" transform="rotate(-19 155.8 157.4)"/><ellipse cx="184.8" cy="110.5" rx="1.2" ry="1.0" transform="rotate(-24 185.4 111.2)"/><ellipse cx="146.7" cy="174.0" rx="1.6" ry="1.0" transform="rotate(-35 147.3 174.7)"/><ellipse cx="198.7" cy="134.7" rx="1.2" ry="0.8" transform="rotate(-12 199.3 135.4)"/><ellipse cx="166.3" cy="186.8" rx="1.6" ry="0.9" transform="rotate(-26 166.9 187.5)"/><ellipse cx="211.6" cy="141.4" rx="1.2" ry="0.8" transform="rotate(-9 212.2 142.1)"/><ellipse cx="166.0" cy="166.9" rx="1.3" ry="1.0" transform="rotate(-37 166.6 167.6)"/><ellipse cx="144.8" cy="190.0" rx="1.2" ry="0.9" transform="rotate(-28 145.4 190.7)"/><ellipse cx="174.0" cy="191.6" rx="1.4" ry="0.8" transform="rotate(-18 174.6 192.3)"/><ellipse cx="254.2" cy="132.8" rx="1.6" ry="1.0" transform="rotate(-41 254.8 133.5)"/><ellipse cx="209.7" cy="133.7" rx="1.2" ry="0.8" transform="rotate(-6 210.3 134.4)"/><ellipse cx="140.2" cy="138.4" rx="1.2" ry="0.9" transform="rotate(-3 140.8 139.1)"/><ellipse cx="161.9" cy="194.1" rx="1.3" ry="0.8" transform="rotate(-25 162.5 194.8)"/><ellipse cx="136.6" cy="176.1" rx="1.3" ry="0.9" transform="rotate(1 137.2 176.8)"/><ellipse cx="191.4" cy="182.0" rx="1.3" ry="0.9" transform="rotate(-14 192.0 182.7)"/><ellipse cx="194.5" cy="153.7" rx="1.4" ry="0.9" transform="rotate(-21 195.1 154.4)"/><ellipse cx="274.1" cy="97.0" rx="1.3" ry="1.0" transform="rotate(-23 274.7 97.7)"/><ellipse cx="242.3" cy="99.0" rx="1.2" ry="1.0" transform="rotate(-33 242.9 99.7)"/><ellipse cx="267.2" cy="121.9" rx="1.6" ry="0.9" transform="rotate(-4 267.8 122.6)"/><ellipse cx="227.9" cy="104.4" rx="1.3" ry="0.8" transform="rotate(-7 228.5 105.1)"/><ellipse cx="139.0" cy="149.5" rx="1.5" ry="0.9" transform="rotate(-13 139.6 150.2)"/><ellipse cx="156.9" cy="199.5" rx="1.4" ry="0.9" transform="rotate(-10 157.5 200.2)"/><ellipse cx="154.2" cy="164.2" rx="1.2" ry="1.0" transform="rotate(-21 154.8 164.9)"/><ellipse cx="211.6" cy="120.2" rx="1.5" ry="0.8" transform="rotate(-46 212.2 120.9)"/><ellipse cx="273.5" cy="120.5" rx="1.3" ry="1.0" transform="rotate(-46 274.1 121.2)"/><ellipse cx="185.9" cy="134.6" rx="1.4" ry="1.0" transform="rotate(-3 186.5 135.3)"/><ellipse cx="152.2" cy="117.2" rx="1.3" ry="1.0" transform="rotate(-26 152.8 117.9)"/><ellipse cx="227.3" cy="142.2" rx="1.4" ry="1.1" transform="rotate(-4 227.9 142.9)"/><ellipse cx="137.5" cy="131.6" rx="1.5" ry="0.8" transform="rotate(-1 138.1 132.3)"/><ellipse cx="149.5" cy="146.6" rx="1.5" ry="0.8" transform="rotate(-39 150.1 147.3)"/><ellipse cx="241.2" cy="110.3" rx="1.5" ry="0.8" transform="rotate(-19 241.8 111.0)"/><ellipse cx="267.8" cy="95.2" rx="1.5" ry="1.0" transform="rotate(-36 268.4 95.9)"/><ellipse cx="221.5" cy="126.4" rx="1.3" ry="0.9" transform="rotate(-6 222.1 127.1)"/><ellipse cx="239.8" cy="144.2" rx="1.4" ry="1.0" transform="rotate(-23 240.4 144.9)"/><ellipse cx="157.7" cy="117.4" rx="1.5" ry="1.1" transform="rotate(-23 158.3 118.1)"/><ellipse cx="153.1" cy="176.3" rx="1.2" ry="0.9" transform="rotate(-13 153.7 177.0)"/><ellipse cx="155.5" cy="142.7" rx="1.2" ry="1.0" transform="rotate(-28 156.1 143.4)"/><ellipse cx="156.7" cy="184.7" rx="1.5" ry="1.1" transform="rotate(-26 157.3 185.4)"/><ellipse cx="185.3" cy="140.7" rx="1.4" ry="1.0" transform="rotate(-46 185.9 141.4)"/><ellipse cx="191.1" cy="145.0" rx="1.4" ry="0.8" transform="rotate(-11 191.7 145.7)"/><ellipse cx="217.5" cy="116.8" rx="1.3" ry="1.0" transform="rotate(-29 218.1 117.5)"/><ellipse cx="145.9" cy="140.6" rx="1.5" ry="1.1" transform="rotate(-45 146.5 141.3)"/><ellipse cx="233.6" cy="135.6" rx="1.6" ry="0.8" transform="rotate(-29 234.2 136.3)"/><ellipse cx="189.9" cy="166.9" rx="1.2" ry="1.0" transform="rotate(-44 190.5 167.6)"/><ellipse cx="246.7" cy="105.3" rx="1.4" ry="1.0" transform="rotate(-42 247.3 106.0)"/><ellipse cx="141.7" cy="125.4" rx="1.6" ry="0.9" transform="rotate(3 142.3 126.1)"/><ellipse cx="205.2" cy="131.3" rx="1.3" ry="1.1" transform="rotate(-33 205.8 132.0)"/><ellipse cx="279.8" cy="106.0" rx="1.4" ry="1.0" transform="rotate(6 280.4 106.7)"/><ellipse cx="195.1" cy="112.2" rx="1.5" ry="1.0" transform="rotate(-42 195.7 112.9)"/><ellipse cx="192.5" cy="116.8" rx="1.5" ry="0.9" transform="rotate(-31 193.1 117.5)"/><ellipse cx="178.8" cy="186.9" rx="1.6" ry="0.8" transform="rotate(-30 179.4 187.6)"/><ellipse cx="262.7" cy="110.4" rx="1.5" ry="0.8" transform="rotate(-38 263.3 111.1)"/><ellipse cx="178.1" cy="135.8" rx="1.5" ry="1.0" transform="rotate(-28 178.7 136.5)"/><ellipse cx="149.9" cy="161.2" rx="1.5" ry="1.0" transform="rotate(0 150.5 161.9)"/><ellipse cx="160.2" cy="188.3" rx="1.6" ry="0.9" transform="rotate(-1 160.8 189.0)"/><ellipse cx="157.7" cy="130.5" rx="1.4" ry="0.8" transform="rotate(-30 158.3 131.2)"/><ellipse cx="251.4" cy="140.8" rx="1.4" ry="0.8" transform="rotate(-30 252.0 141.5)"/><ellipse cx="142.8" cy="132.5" rx="1.4" ry="1.1" transform="rotate(6 143.4 133.2)"/><ellipse cx="166.3" cy="145.0" rx="1.6" ry="0.9" transform="rotate(-34 166.9 145.7)"/><ellipse cx="223.8" cy="137.5" rx="1.2" ry="1.0" transform="rotate(-44 224.4 138.2)"/><ellipse cx="182.5" cy="122.8" rx="1.3" ry="0.9" transform="rotate(-29 183.1 123.5)"/><ellipse cx="152.5" cy="126.9" rx="1.3" ry="1.0" transform="rotate(-37 153.1 127.6)"/><ellipse cx="279.0" cy="118.0" rx="1.4" ry="1.0" transform="rotate(-39 279.6 118.7)"/><ellipse cx="268.2" cy="89.8" rx="1.4" ry="0.8" transform="rotate(-7 268.8 90.5)"/><ellipse cx="135.6" cy="140.6" rx="1.3" ry="0.8" transform="rotate(-20 136.2 141.3)"/><ellipse cx="142.5" cy="177.1" rx="1.5" ry="1.1" transform="rotate(-49 143.1 177.8)"/><ellipse cx="131.2" cy="165.5" rx="1.5" ry="0.9" transform="rotate(-43 131.8 166.2)"/><ellipse cx="159.2" cy="174.7" rx="1.3" ry="0.9" transform="rotate(3 159.8 175.4)"/><ellipse cx="294.9" cy="90.2" rx="1.6" ry="0.9" transform="rotate(5 295.5 90.9)"/><ellipse cx="232.0" cy="101.5" rx="1.3" ry="1.0" transform="rotate(-10 232.6 102.2)"/><ellipse cx="156.6" cy="135.6" rx="1.2" ry="1.0" transform="rotate(-20 157.2 136.3)"/></g>
</g>
<g fill="none" stroke="#bf3f41" stroke-linecap="round" stroke-linejoin="round"><path d="M137.1 152.9C139.2 152.9 145.4 153.0 149.6 152.9C153.8 152.8 158.3 153.9 162.0 152.6C165.7 151.3 168.2 147.2 171.8 145.2C175.4 143.2 179.3 142.0 183.3 140.6C187.3 139.2 191.6 138.7 195.7 137.0C199.8 135.3 203.9 132.3 207.7 130.3C211.5 128.3 214.8 126.3 218.3 125.0C221.9 123.7 225.0 123.0 229.0 122.3C233.0 121.6 238.1 121.8 242.3 121.0C246.5 120.2 250.5 119.4 254.3 117.7C258.1 116.0 261.7 113.7 265.0 111.0C268.3 108.3 271.6 104.8 274.3 101.7C277.0 98.6 278.6 94.6 281.0 92.3C283.4 90.0 287.7 88.5 289.0 87.7" stroke-width="2.3"/><path d="M162.0 152.9C161.4 155.1 159.9 161.9 158.4 166.2C156.9 170.5 155.6 175.0 153.1 178.7C150.6 182.4 144.9 186.8 143.3 188.4" stroke-width="2.0"/><path d="M160.4 159.8C162.7 159.2 170.1 157.6 174.4 156.4C178.7 155.2 184.1 153.5 186.0 152.9" stroke-width="1.4"/><path d="M157.4 170.4C159.7 169.8 167.5 167.7 170.9 166.6C174.3 165.5 176.8 164.1 178.0 163.6" stroke-width="1.4"/><path d="M154.9 178.7C155.2 179.9 156.4 183.8 156.8 186.0C157.2 188.2 157.5 191.0 157.6 192.0" stroke-width="1.3"/><path d="M153.1 152.0C154.1 150.2 157.5 144.6 159.3 141.3C161.1 138.0 163.1 133.9 163.8 132.4" stroke-width="1.4"/><path d="M171.8 144.9C172.4 143.4 174.0 138.7 175.3 136.0C176.6 133.3 178.3 130.7 179.5 128.5C180.7 126.3 181.9 123.7 182.4 122.7" stroke-width="1.4"/><path d="M168.2 127.1C169.0 126.8 171.4 125.3 173.0 125.5C174.6 125.7 177.2 127.6 178.0 128.0" stroke-width="1.2"/><path d="M195.7 137.0C196.1 135.6 197.9 130.9 198.3 128.3C198.7 125.8 198.3 122.8 198.3 121.7" stroke-width="1.3"/><path d="M213.7 128.3C214.2 126.8 216.1 122.0 217.0 119.0C217.9 116.0 218.7 111.8 219.0 110.3" stroke-width="1.4"/><path d="M218.2 115.0C219.1 114.7 222.8 113.3 223.7 113.0" stroke-width="1.1"/><path d="M211.7 131.0C212.7 131.9 215.8 134.3 217.7 136.3C219.6 138.3 222.1 141.9 223.0 143.0" stroke-width="1.4"/><path d="M217.7 136.8C216.8 137.5 213.2 140.3 212.3 141.0" stroke-width="1.1"/><path d="M238.3 121.0C238.8 119.5 241.0 114.8 241.0 112.3C241.0 109.8 238.8 107.3 238.3 106.3" stroke-width="1.4"/><path d="M241.0 111.5C241.7 110.5 244.3 106.7 245.0 105.7" stroke-width="1.1"/><path d="M251.7 118.3C251.6 117.1 250.7 113.2 251.0 111.0C251.3 108.8 253.2 106.0 253.7 105.0" stroke-width="1.3"/><path d="M254.3 115.0C254.9 113.9 257.0 110.0 257.7 108.3C258.4 106.6 258.2 105.5 258.3 105.0" stroke-width="1.2"/><path d="M265.0 111.0C265.2 109.8 265.8 105.7 266.3 103.7C266.9 101.7 268.0 99.8 268.3 99.0" stroke-width="1.3"/><path d="M268.3 107.0C269.0 106.1 271.6 102.6 272.3 101.7" stroke-width="1.1"/><path d="M245.0 121.0C246.6 121.3 251.6 123.2 254.3 123.0C257.0 122.8 259.9 120.2 261.0 119.7" stroke-width="1.3"/><path d="M281.0 92.3C281.0 91.6 280.9 89.2 280.8 88.0C280.7 86.8 280.4 85.5 280.3 85.0" stroke-width="1.2"/></g>
</g>
<g id="pancR">
<clipPath id="cpR"><path d="M646.7 76.2A6.6 6.6 0 0 0 641.3 69.9A6.9 6.9 0 0 0 633.0 69.6A7.8 7.8 0 0 0 625.2 72.9A6.7 6.7 0 0 0 618.4 78.0A6.8 6.8 0 0 0 610.6 81.2A7.0 7.0 0 0 0 602.3 83.0A6.0 6.0 0 0 0 593.8 83.8A6.8 6.8 0 0 0 585.3 84.4A7.1 7.1 0 0 0 576.9 85.3A7.5 7.5 0 0 0 568.4 86.4A5.7 5.7 0 0 0 560.0 87.8A6.3 6.3 0 0 0 551.7 89.3A5.7 5.7 0 0 0 543.3 90.7A7.5 7.5 0 0 0 534.9 92.1A7.2 7.2 0 0 0 526.5 93.4A5.6 5.6 0 0 0 518.1 94.5A8.0 8.0 0 0 0 509.8 96.3A7.9 7.9 0 0 0 501.9 99.4A7.1 7.1 0 0 0 494.9 104.2A7.0 7.0 0 0 0 489.0 110.3A5.9 5.9 0 0 0 483.9 117.1A5.5 5.5 0 0 0 479.4 124.3A6.8 6.8 0 0 0 475.9 132.0A5.6 5.6 0 0 0 475.1 140.2A6.0 6.0 0 0 0 481.1 146.1A6.1 6.1 0 0 0 487.6 151.5A5.6 5.6 0 0 0 491.8 158.9A6.7 6.7 0 0 0 495.2 166.6A6.6 6.6 0 0 0 499.7 173.8A7.6 7.6 0 0 0 505.1 180.4A6.8 6.8 0 0 0 511.4 186.1A7.1 7.1 0 0 0 518.6 190.5A6.7 6.7 0 0 0 526.9 191.8A7.2 7.2 0 0 0 534.9 189.2A6.6 6.6 0 0 0 541.6 184.0A6.2 6.2 0 0 0 546.9 177.4A8.0 8.0 0 0 0 550.2 169.6A8.0 8.0 0 0 0 549.7 161.3A7.6 7.6 0 0 0 547.5 153.3A7.3 7.3 0 0 0 552.2 146.6A6.3 6.3 0 0 0 560.2 143.8A6.1 6.1 0 0 0 568.4 141.6A6.2 6.2 0 0 0 576.2 138.3A5.7 5.7 0 0 0 583.7 134.3A7.4 7.4 0 0 0 591.3 130.5A6.5 6.5 0 0 0 598.9 126.7A7.6 7.6 0 0 0 606.6 123.1A6.5 6.5 0 0 0 613.9 118.8A7.9 7.9 0 0 0 620.6 113.5A7.6 7.6 0 0 0 626.8 107.7A5.5 5.5 0 0 0 632.3 101.3A6.0 6.0 0 0 0 637.6 94.6A7.8 7.8 0 0 0 642.7 87.8A6.7 6.7 0 0 0 646.8 80.4A8.0 8.0 0 0 0 646.7 76.2z"/></clipPath>
<path d="M646.7 76.2A6.6 6.6 0 0 0 641.3 69.9A6.9 6.9 0 0 0 633.0 69.6A7.8 7.8 0 0 0 625.2 72.9A6.7 6.7 0 0 0 618.4 78.0A6.8 6.8 0 0 0 610.6 81.2A7.0 7.0 0 0 0 602.3 83.0A6.0 6.0 0 0 0 593.8 83.8A6.8 6.8 0 0 0 585.3 84.4A7.1 7.1 0 0 0 576.9 85.3A7.5 7.5 0 0 0 568.4 86.4A5.7 5.7 0 0 0 560.0 87.8A6.3 6.3 0 0 0 551.7 89.3A5.7 5.7 0 0 0 543.3 90.7A7.5 7.5 0 0 0 534.9 92.1A7.2 7.2 0 0 0 526.5 93.4A5.6 5.6 0 0 0 518.1 94.5A8.0 8.0 0 0 0 509.8 96.3A7.9 7.9 0 0 0 501.9 99.4A7.1 7.1 0 0 0 494.9 104.2A7.0 7.0 0 0 0 489.0 110.3A5.9 5.9 0 0 0 483.9 117.1A5.5 5.5 0 0 0 479.4 124.3A6.8 6.8 0 0 0 475.9 132.0A5.6 5.6 0 0 0 475.1 140.2A6.0 6.0 0 0 0 481.1 146.1A6.1 6.1 0 0 0 487.6 151.5A5.6 5.6 0 0 0 491.8 158.9A6.7 6.7 0 0 0 495.2 166.6A6.6 6.6 0 0 0 499.7 173.8A7.6 7.6 0 0 0 505.1 180.4A6.8 6.8 0 0 0 511.4 186.1A7.1 7.1 0 0 0 518.6 190.5A6.7 6.7 0 0 0 526.9 191.8A7.2 7.2 0 0 0 534.9 189.2A6.6 6.6 0 0 0 541.6 184.0A6.2 6.2 0 0 0 546.9 177.4A8.0 8.0 0 0 0 550.2 169.6A8.0 8.0 0 0 0 549.7 161.3A7.6 7.6 0 0 0 547.5 153.3A7.3 7.3 0 0 0 552.2 146.6A6.3 6.3 0 0 0 560.2 143.8A6.1 6.1 0 0 0 568.4 141.6A6.2 6.2 0 0 0 576.2 138.3A5.7 5.7 0 0 0 583.7 134.3A7.4 7.4 0 0 0 591.3 130.5A6.5 6.5 0 0 0 598.9 126.7A7.6 7.6 0 0 0 606.6 123.1A6.5 6.5 0 0 0 613.9 118.8A7.9 7.9 0 0 0 620.6 113.5A7.6 7.6 0 0 0 626.8 107.7A5.5 5.5 0 0 0 632.3 101.3A6.0 6.0 0 0 0 637.6 94.6A7.8 7.8 0 0 0 642.7 87.8A6.7 6.7 0 0 0 646.8 80.4A8.0 8.0 0 0 0 646.7 76.2z" fill="#e7884a" stroke="#d4703a" stroke-width="0.9"/>
<g clip-path="url(#cpR)">
<g fill="#f0a067" stroke="#dc733a" stroke-width="0.7" opacity="0.85" filter="url(#bl05)"><ellipse cx="532.0" cy="187.5" rx="5.6" ry="4.2" transform="rotate(7 532.0 187.5)"/><ellipse cx="605.4" cy="83.5" rx="5.9" ry="3.5" transform="rotate(-38 605.4 83.5)"/><ellipse cx="505.2" cy="137.7" rx="5.5" ry="3.6" transform="rotate(-17 505.2 137.7)"/><ellipse cx="551.8" cy="92.4" rx="4.7" ry="4.2" transform="rotate(-25 551.8 92.4)"/><ellipse cx="521.1" cy="188.3" rx="4.6" ry="3.4" transform="rotate(6 521.1 188.3)"/><ellipse cx="613.3" cy="106.4" rx="6.2" ry="4.4" transform="rotate(-27 613.3 106.4)"/><ellipse cx="627.3" cy="94.9" rx="6.5" ry="3.4" transform="rotate(-6 627.3 94.9)"/><ellipse cx="542.6" cy="174.0" rx="6.4" ry="3.5" transform="rotate(-50 542.6 174.0)"/><ellipse cx="519.2" cy="164.0" rx="4.8" ry="3.3" transform="rotate(-2 519.2 164.0)"/><ellipse cx="531.4" cy="105.4" rx="5.7" ry="3.9" transform="rotate(-43 531.4 105.4)"/><ellipse cx="575.2" cy="98.8" rx="5.8" ry="3.4" transform="rotate(-42 575.2 98.8)"/><ellipse cx="578.4" cy="114.7" rx="5.7" ry="4.1" transform="rotate(-2 578.4 114.7)"/><ellipse cx="558.1" cy="139.6" rx="6.2" ry="3.4" transform="rotate(-32 558.1 139.6)"/><ellipse cx="507.3" cy="159.9" rx="4.8" ry="3.9" transform="rotate(-48 507.3 159.9)"/><ellipse cx="636.9" cy="93.1" rx="6.2" ry="4.2" transform="rotate(-1 636.9 93.1)"/><ellipse cx="596.2" cy="100.6" rx="5.5" ry="4.5" transform="rotate(0 596.2 100.6)"/><ellipse cx="521.0" cy="123.8" rx="6.2" ry="4.3" transform="rotate(-37 521.0 123.8)"/><ellipse cx="538.2" cy="139.3" rx="5.2" ry="3.3" transform="rotate(-4 538.2 139.3)"/><ellipse cx="497.3" cy="113.5" rx="5.4" ry="4.6" transform="rotate(-33 497.3 113.5)"/><ellipse cx="575.5" cy="86.2" rx="5.4" ry="4.4" transform="rotate(8 575.5 86.2)"/><ellipse cx="640.8" cy="71.6" rx="6.0" ry="4.4" transform="rotate(5 640.8 71.6)"/><ellipse cx="584.4" cy="128.3" rx="5.0" ry="4.1" transform="rotate(-46 584.4 128.3)"/><ellipse cx="541.6" cy="159.3" rx="5.9" ry="4.5" transform="rotate(-20 541.6 159.3)"/><ellipse cx="619.3" cy="79.3" rx="4.8" ry="4.0" transform="rotate(-46 619.3 79.3)"/><ellipse cx="589.5" cy="93.4" rx="5.4" ry="3.3" transform="rotate(-25 589.5 93.4)"/><ellipse cx="503.8" cy="124.4" rx="6.1" ry="4.2" transform="rotate(1 503.8 124.4)"/><ellipse cx="522.1" cy="95.3" rx="5.4" ry="3.8" transform="rotate(-47 522.1 95.3)"/><ellipse cx="546.0" cy="145.9" rx="6.1" ry="4.0" transform="rotate(-26 546.0 145.9)"/><ellipse cx="559.8" cy="107.7" rx="4.8" ry="3.8" transform="rotate(-46 559.8 107.7)"/><ellipse cx="482.7" cy="146.3" rx="4.7" ry="3.3" transform="rotate(-25 482.7 146.3)"/><ellipse cx="505.5" cy="102.5" rx="4.8" ry="4.4" transform="rotate(-13 505.5 102.5)"/><ellipse cx="605.1" cy="117.3" rx="6.2" ry="4.0" transform="rotate(-40 605.1 117.3)"/><ellipse cx="563.7" cy="118.2" rx="5.1" ry="4.4" transform="rotate(-15 563.7 118.2)"/><ellipse cx="485.9" cy="135.2" rx="5.8" ry="4.1" transform="rotate(-47 485.9 135.2)"/><ellipse cx="496.9" cy="164.8" rx="4.9" ry="3.8" transform="rotate(1 496.9 164.8)"/><ellipse cx="550.0" cy="115.2" rx="6.4" ry="4.0" transform="rotate(-34 550.0 115.2)"/><ellipse cx="509.8" cy="172.3" rx="4.6" ry="4.0" transform="rotate(-25 509.8 172.3)"/><ellipse cx="532.9" cy="150.1" rx="6.4" ry="3.5" transform="rotate(-38 532.9 150.1)"/><ellipse cx="572.9" cy="134.5" rx="4.5" ry="3.2" transform="rotate(-2 572.9 134.5)"/><ellipse cx="508.3" cy="115.2" rx="6.2" ry="3.4" transform="rotate(-49 508.3 115.2)"/><ellipse cx="547.2" cy="133.7" rx="5.7" ry="3.5" transform="rotate(-13 547.2 133.7)"/><ellipse cx="516.6" cy="133.3" rx="6.3" ry="4.2" transform="rotate(-33 516.6 133.3)"/><ellipse cx="494.4" cy="145.7" rx="5.7" ry="3.6" transform="rotate(-4 494.4 145.7)"/><ellipse cx="521.4" cy="153.2" rx="5.0" ry="4.4" transform="rotate(-9 521.4 153.2)"/><ellipse cx="550.2" cy="167.7" rx="6.3" ry="3.7" transform="rotate(7 550.2 167.7)"/><ellipse cx="537.0" cy="113.9" rx="5.7" ry="3.6" transform="rotate(-11 537.0 113.9)"/><ellipse cx="541.5" cy="92.9" rx="5.1" ry="3.4" transform="rotate(-48 541.5 92.9)"/><ellipse cx="629.8" cy="79.4" rx="5.7" ry="3.5" transform="rotate(-44 629.8 79.4)"/><ellipse cx="547.9" cy="104.9" rx="6.1" ry="3.4" transform="rotate(-5 547.9 104.9)"/><ellipse cx="519.4" cy="175.8" rx="5.0" ry="3.7" transform="rotate(6 519.4 175.8)"/><ellipse cx="565.3" cy="88.3" rx="6.2" ry="4.4" transform="rotate(9 565.3 88.3)"/><ellipse cx="531.8" cy="170.6" rx="5.7" ry="4.5" transform="rotate(-13 531.8 170.6)"/><ellipse cx="616.3" cy="116.4" rx="5.7" ry="3.7" transform="rotate(-27 616.3 116.4)"/><ellipse cx="527.2" cy="141.9" rx="5.6" ry="3.5" transform="rotate(-11 527.2 141.9)"/><ellipse cx="515.9" cy="106.6" rx="6.2" ry="4.2" transform="rotate(-36 515.9 106.6)"/><ellipse cx="613.6" cy="96.2" rx="4.6" ry="3.7" transform="rotate(-24 613.6 96.2)"/><ellipse cx="535.7" cy="127.1" rx="6.2" ry="4.0" transform="rotate(-19 535.7 127.1)"/><ellipse cx="480.4" cy="125.7" rx="5.7" ry="4.0" transform="rotate(-9 480.4 125.7)"/><ellipse cx="563.8" cy="131.1" rx="5.6" ry="4.0" transform="rotate(-36 563.8 131.1)"/><ellipse cx="490.1" cy="121.5" rx="4.7" ry="3.8" transform="rotate(3 490.1 121.5)"/><ellipse cx="514.3" cy="142.8" rx="6.4" ry="3.6" transform="rotate(-16 514.3 142.8)"/><ellipse cx="528.6" cy="159.5" rx="5.5" ry="3.8" transform="rotate(-39 528.6 159.5)"/><ellipse cx="625.2" cy="104.2" rx="6.1" ry="3.3" transform="rotate(-36 625.2 104.2)"/><ellipse cx="593.6" cy="116.7" rx="5.1" ry="3.5" transform="rotate(-38 593.6 116.7)"/><ellipse cx="569.8" cy="109.9" rx="4.7" ry="3.9" transform="rotate(-40 569.8 109.9)"/><ellipse cx="644.4" cy="83.7" rx="5.8" ry="4.0" transform="rotate(-13 644.4 83.7)"/><ellipse cx="525.5" cy="114.2" rx="5.5" ry="4.1" transform="rotate(-32 525.5 114.2)"/><ellipse cx="600.2" cy="126.0" rx="5.4" ry="4.2" transform="rotate(-37 600.2 126.0)"/><ellipse cx="553.4" cy="126.5" rx="6.0" ry="4.0" transform="rotate(8 553.4 126.5)"/><ellipse cx="475.2" cy="137.1" rx="5.7" ry="4.0" transform="rotate(-4 475.2 137.1)"/></g>
<g fill="#f8c08a" opacity="0.8" filter="url(#bl05)"><ellipse cx="531.0" cy="186.3" rx="2.8" ry="1.7" transform="rotate(7 532.0 187.5)"/><ellipse cx="604.4" cy="82.3" rx="2.9" ry="1.4" transform="rotate(-38 605.4 83.5)"/><ellipse cx="504.2" cy="136.5" rx="2.7" ry="1.4" transform="rotate(-17 505.2 137.7)"/><ellipse cx="550.8" cy="91.2" rx="2.3" ry="1.7" transform="rotate(-25 551.8 92.4)"/><ellipse cx="520.1" cy="187.1" rx="2.3" ry="1.3" transform="rotate(6 521.1 188.3)"/><ellipse cx="612.3" cy="105.2" rx="3.1" ry="1.8" transform="rotate(-27 613.3 106.4)"/><ellipse cx="626.3" cy="93.7" rx="3.2" ry="1.4" transform="rotate(-6 627.3 94.9)"/><ellipse cx="541.6" cy="172.8" rx="3.2" ry="1.4" transform="rotate(-50 542.6 174.0)"/><ellipse cx="518.2" cy="162.8" rx="2.4" ry="1.3" transform="rotate(-2 519.2 164.0)"/><ellipse cx="530.4" cy="104.2" rx="2.9" ry="1.5" transform="rotate(-43 531.4 105.4)"/><ellipse cx="574.2" cy="97.6" rx="2.9" ry="1.4" transform="rotate(-42 575.2 98.8)"/><ellipse cx="577.4" cy="113.5" rx="2.8" ry="1.6" transform="rotate(-2 578.4 114.7)"/><ellipse cx="557.1" cy="138.4" rx="3.1" ry="1.4" transform="rotate(-32 558.1 139.6)"/><ellipse cx="506.3" cy="158.7" rx="2.4" ry="1.6" transform="rotate(-48 507.3 159.9)"/><ellipse cx="635.9" cy="91.9" rx="3.1" ry="1.7" transform="rotate(-1 636.9 93.1)"/><ellipse cx="595.2" cy="99.4" rx="2.7" ry="1.8" transform="rotate(0 596.2 100.6)"/><ellipse cx="520.0" cy="122.6" rx="3.1" ry="1.7" transform="rotate(-37 521.0 123.8)"/><ellipse cx="537.2" cy="138.1" rx="2.6" ry="1.3" transform="rotate(-4 538.2 139.3)"/><ellipse cx="496.3" cy="112.3" rx="2.7" ry="1.8" transform="rotate(-33 497.3 113.5)"/><ellipse cx="574.5" cy="85.0" rx="2.7" ry="1.8" transform="rotate(8 575.5 86.2)"/><ellipse cx="639.8" cy="70.4" rx="3.0" ry="1.8" transform="rotate(5 640.8 71.6)"/><ellipse cx="583.4" cy="127.1" rx="2.5" ry="1.6" transform="rotate(-46 584.4 128.3)"/><ellipse cx="540.6" cy="158.1" rx="2.9" ry="1.8" transform="rotate(-20 541.6 159.3)"/><ellipse cx="618.3" cy="78.1" rx="2.4" ry="1.6" transform="rotate(-46 619.3 79.3)"/><ellipse cx="588.5" cy="92.2" rx="2.7" ry="1.3" transform="rotate(-25 589.5 93.4)"/><ellipse cx="502.8" cy="123.2" rx="3.1" ry="1.7" transform="rotate(1 503.8 124.4)"/><ellipse cx="521.1" cy="94.1" rx="2.7" ry="1.5" transform="rotate(-47 522.1 95.3)"/><ellipse cx="545.0" cy="144.7" rx="3.0" ry="1.6" transform="rotate(-26 546.0 145.9)"/><ellipse cx="558.8" cy="106.5" rx="2.4" ry="1.5" transform="rotate(-46 559.8 107.7)"/><ellipse cx="481.7" cy="145.1" rx="2.4" ry="1.3" transform="rotate(-25 482.7 146.3)"/><ellipse cx="504.5" cy="101.3" rx="2.4" ry="1.7" transform="rotate(-13 505.5 102.5)"/><ellipse cx="604.1" cy="116.1" rx="3.1" ry="1.6" transform="rotate(-40 605.1 117.3)"/><ellipse cx="562.7" cy="117.0" rx="2.5" ry="1.8" transform="rotate(-15 563.7 118.2)"/><ellipse cx="484.9" cy="134.0" rx="2.9" ry="1.6" transform="rotate(-47 485.9 135.2)"/><ellipse cx="495.9" cy="163.6" rx="2.4" ry="1.5" transform="rotate(1 496.9 164.8)"/><ellipse cx="549.0" cy="114.0" rx="3.2" ry="1.6" transform="rotate(-34 550.0 115.2)"/><ellipse cx="508.8" cy="171.1" rx="2.3" ry="1.6" transform="rotate(-25 509.8 172.3)"/><ellipse cx="531.9" cy="148.9" rx="3.2" ry="1.4" transform="rotate(-38 532.9 150.1)"/><ellipse cx="571.9" cy="133.3" rx="2.3" ry="1.3" transform="rotate(-2 572.9 134.5)"/><ellipse cx="507.3" cy="114.0" rx="3.1" ry="1.4" transform="rotate(-49 508.3 115.2)"/><ellipse cx="546.2" cy="132.5" rx="2.8" ry="1.4" transform="rotate(-13 547.2 133.7)"/><ellipse cx="515.6" cy="132.1" rx="3.2" ry="1.7" transform="rotate(-33 516.6 133.3)"/><ellipse cx="493.4" cy="144.5" rx="2.9" ry="1.4" transform="rotate(-4 494.4 145.7)"/><ellipse cx="520.4" cy="152.0" rx="2.5" ry="1.8" transform="rotate(-9 521.4 153.2)"/><ellipse cx="549.2" cy="166.5" rx="3.1" ry="1.5" transform="rotate(7 550.2 167.7)"/><ellipse cx="536.0" cy="112.7" rx="2.8" ry="1.4" transform="rotate(-11 537.0 113.9)"/><ellipse cx="540.5" cy="91.7" rx="2.6" ry="1.3" transform="rotate(-48 541.5 92.9)"/><ellipse cx="628.8" cy="78.2" rx="2.9" ry="1.4" transform="rotate(-44 629.8 79.4)"/><ellipse cx="546.9" cy="103.7" rx="3.0" ry="1.4" transform="rotate(-5 547.9 104.9)"/><ellipse cx="518.4" cy="174.6" rx="2.5" ry="1.5" transform="rotate(6 519.4 175.8)"/><ellipse cx="564.3" cy="87.1" rx="3.1" ry="1.7" transform="rotate(9 565.3 88.3)"/><ellipse cx="530.8" cy="169.4" rx="2.9" ry="1.8" transform="rotate(-13 531.8 170.6)"/><ellipse cx="615.3" cy="115.2" rx="2.8" ry="1.5" transform="rotate(-27 616.3 116.4)"/><ellipse cx="526.2" cy="140.7" rx="2.8" ry="1.4" transform="rotate(-11 527.2 141.9)"/><ellipse cx="514.9" cy="105.4" rx="3.1" ry="1.7" transform="rotate(-36 515.9 106.6)"/><ellipse cx="612.6" cy="95.0" rx="2.3" ry="1.5" transform="rotate(-24 613.6 96.2)"/><ellipse cx="534.7" cy="125.9" rx="3.1" ry="1.6" transform="rotate(-19 535.7 127.1)"/><ellipse cx="479.4" cy="124.5" rx="2.9" ry="1.6" transform="rotate(-9 480.4 125.7)"/><ellipse cx="562.8" cy="129.9" rx="2.8" ry="1.6" transform="rotate(-36 563.8 131.1)"/><ellipse cx="489.1" cy="120.3" rx="2.4" ry="1.5" transform="rotate(3 490.1 121.5)"/><ellipse cx="513.3" cy="141.6" rx="3.2" ry="1.4" transform="rotate(-16 514.3 142.8)"/><ellipse cx="527.6" cy="158.3" rx="2.8" ry="1.5" transform="rotate(-39 528.6 159.5)"/><ellipse cx="624.2" cy="103.0" rx="3.0" ry="1.3" transform="rotate(-36 625.2 104.2)"/><ellipse cx="592.6" cy="115.5" rx="2.5" ry="1.4" transform="rotate(-38 593.6 116.7)"/><ellipse cx="568.8" cy="108.7" rx="2.3" ry="1.6" transform="rotate(-40 569.8 109.9)"/><ellipse cx="643.4" cy="82.5" rx="2.9" ry="1.6" transform="rotate(-13 644.4 83.7)"/><ellipse cx="524.5" cy="113.0" rx="2.7" ry="1.6" transform="rotate(-32 525.5 114.2)"/><ellipse cx="599.2" cy="124.8" rx="2.7" ry="1.7" transform="rotate(-37 600.2 126.0)"/><ellipse cx="552.4" cy="125.3" rx="3.0" ry="1.6" transform="rotate(8 553.4 126.5)"/><ellipse cx="474.2" cy="135.9" rx="2.9" ry="1.6" transform="rotate(-4 475.2 137.1)"/></g>
<g fill="#fbe6d8" opacity="0.85"><circle cx="488.4" cy="129.1" r="0.8"/><circle cx="489.0" cy="121.1" r="0.7"/><circle cx="498.3" cy="124.2" r="0.8"/><circle cx="496.9" cy="125.7" r="0.8"/><circle cx="490.7" cy="126.2" r="0.8"/><circle cx="488.3" cy="121.5" r="0.9"/><circle cx="482.5" cy="127.7" r="0.8"/><circle cx="485.2" cy="122.7" r="0.9"/><circle cx="487.2" cy="125.2" r="0.9"/><circle cx="488.0" cy="122.3" r="1.0"/><circle cx="486.0" cy="126.1" r="0.8"/><circle cx="487.4" cy="127.6" r="1.0"/><circle cx="493.1" cy="130.0" r="0.7"/><circle cx="480.7" cy="125.2" r="0.6"/><circle cx="490.1" cy="125.5" r="1.0"/><circle cx="494.8" cy="123.8" r="0.9"/><circle cx="486.1" cy="126.4" r="0.7"/><circle cx="481.8" cy="127.7" r="0.6"/><circle cx="483.6" cy="124.9" r="0.8"/><circle cx="491.6" cy="121.6" r="0.7"/><circle cx="496.5" cy="124.6" r="0.7"/><circle cx="481.6" cy="124.3" r="0.6"/><circle cx="525.6" cy="123.1" r="0.7"/><circle cx="530.9" cy="127.7" r="0.8"/><circle cx="523.6" cy="127.6" r="0.7"/><circle cx="525.0" cy="123.5" r="0.9"/><circle cx="530.2" cy="123.6" r="1.0"/><circle cx="524.6" cy="125.0" r="0.7"/><circle cx="527.7" cy="122.7" r="0.9"/><circle cx="528.6" cy="130.2" r="0.7"/><circle cx="532.4" cy="123.5" r="0.8"/><circle cx="523.9" cy="124.2" r="0.8"/><circle cx="521.8" cy="124.1" r="0.9"/><circle cx="535.4" cy="128.4" r="0.6"/><circle cx="535.6" cy="127.2" r="0.7"/><circle cx="532.1" cy="126.2" r="0.8"/><circle cx="529.5" cy="125.2" r="0.7"/><circle cx="530.7" cy="125.9" r="0.7"/><circle cx="521.2" cy="126.1" r="0.9"/><circle cx="532.6" cy="122.9" r="1.0"/><circle cx="630.5" cy="78.3" r="0.7"/><circle cx="629.9" cy="80.2" r="1.0"/><circle cx="629.1" cy="80.2" r="0.8"/><circle cx="633.2" cy="78.0" r="0.8"/><circle cx="634.7" cy="81.1" r="0.7"/><circle cx="626.6" cy="79.9" r="0.7"/><circle cx="630.1" cy="77.2" r="0.9"/><circle cx="635.8" cy="79.9" r="1.0"/><circle cx="627.5" cy="80.8" r="0.7"/><circle cx="636.5" cy="81.6" r="0.6"/><circle cx="633.8" cy="80.3" r="0.8"/><circle cx="633.1" cy="81.9" r="0.9"/><circle cx="629.6" cy="80.5" r="0.9"/><circle cx="637.1" cy="79.9" r="0.8"/><circle cx="514.7" cy="99.2" r="0.9"/><circle cx="520.7" cy="98.1" r="0.9"/><circle cx="521.9" cy="100.9" r="0.8"/><circle cx="521.9" cy="102.7" r="0.7"/><circle cx="524.0" cy="99.1" r="0.9"/><circle cx="524.1" cy="99.1" r="0.9"/><circle cx="515.9" cy="100.1" r="0.6"/><circle cx="516.6" cy="96.8" r="0.9"/><circle cx="518.1" cy="102.6" r="0.7"/><circle cx="515.6" cy="102.2" r="0.6"/></g>
</g>
<ellipse cx="513.9" cy="107.4" rx="15.6" ry="13.1" fill="#d99aa6" opacity="0.45" filter="url(#bl1)"/><circle cx="513.0" cy="100.8" r="2.7" fill="#aa5f78" stroke="#803c55" stroke-width="0.45"/><circle cx="520.8" cy="105.2" r="3.2" fill="#a2556f" stroke="#803c55" stroke-width="0.45"/><circle cx="522.2" cy="107.7" r="3.0" fill="#b0687f" stroke="#803c55" stroke-width="0.45"/><circle cx="508.1" cy="108.0" r="3.0" fill="#994b65" stroke="#803c55" stroke-width="0.45"/><circle cx="509.9" cy="112.3" r="2.6" fill="#a2556f" stroke="#803c55" stroke-width="0.45"/><circle cx="506.6" cy="112.3" r="2.5" fill="#a2556f" stroke="#803c55" stroke-width="0.45"/><circle cx="505.1" cy="105.7" r="2.3" fill="#b0687f" stroke="#803c55" stroke-width="0.45"/><circle cx="516.4" cy="100.9" r="2.3" fill="#994b65" stroke="#803c55" stroke-width="0.45"/><circle cx="505.3" cy="109.6" r="3.0" fill="#b0687f" stroke="#803c55" stroke-width="0.45"/><circle cx="506.7" cy="110.1" r="2.3" fill="#aa5f78" stroke="#803c55" stroke-width="0.45"/><circle cx="513.4" cy="100.7" r="3.2" fill="#994b65" stroke="#803c55" stroke-width="0.45"/><circle cx="512.9" cy="100.0" r="3.2" fill="#b0687f" stroke="#803c55" stroke-width="0.45"/><circle cx="506.9" cy="112.4" r="2.7" fill="#b0687f" stroke="#803c55" stroke-width="0.45"/><circle cx="519.0" cy="114.4" r="2.9" fill="#aa5f78" stroke="#803c55" stroke-width="0.45"/><circle cx="518.9" cy="102.8" r="2.9" fill="#a2556f" stroke="#803c55" stroke-width="0.45"/><circle cx="515.6" cy="106.2" r="3.0" fill="#b0687f" stroke="#803c55" stroke-width="0.45"/><circle cx="513.3" cy="109.2" r="3.1" fill="#994b65" stroke="#803c55" stroke-width="0.45"/><circle cx="517.1" cy="114.6" r="2.7" fill="#a2556f" stroke="#803c55" stroke-width="0.45"/><circle cx="519.1" cy="101.4" r="2.6" fill="#aa5f78" stroke="#803c55" stroke-width="0.45"/><circle cx="510.3" cy="107.9" r="3.1" fill="#aa5f78" stroke="#803c55" stroke-width="0.45"/><circle cx="509.6" cy="108.3" r="2.5" fill="#aa5f78" stroke="#803c55" stroke-width="0.45"/><circle cx="518.2" cy="103.9" r="3.1" fill="#a2556f" stroke="#803c55" stroke-width="0.45"/><circle cx="511.1" cy="103.7" r="3.2" fill="#b0687f" stroke="#803c55" stroke-width="0.45"/><circle cx="517.6" cy="106.0" r="2.3" fill="#b0687f" stroke="#803c55" stroke-width="0.45"/><ellipse cx="586.7" cy="117.8" rx="15.6" ry="13.1" fill="#d99aa6" opacity="0.45" filter="url(#bl1)"/><circle cx="595.7" cy="116.2" r="3.0" fill="#a2556f" stroke="#803c55" stroke-width="0.45"/><circle cx="586.0" cy="120.2" r="2.9" fill="#a2556f" stroke="#803c55" stroke-width="0.45"/><circle cx="593.7" cy="122.7" r="2.4" fill="#aa5f78" stroke="#803c55" stroke-width="0.45"/><circle cx="584.7" cy="116.0" r="2.6" fill="#a2556f" stroke="#803c55" stroke-width="0.45"/><circle cx="582.0" cy="114.0" r="2.3" fill="#aa5f78" stroke="#803c55" stroke-width="0.45"/><circle cx="586.2" cy="125.2" r="3.1" fill="#b0687f" stroke="#803c55" stroke-width="0.45"/><circle cx="585.2" cy="114.1" r="3.0" fill="#a2556f" stroke="#803c55" stroke-width="0.45"/><circle cx="592.0" cy="110.7" r="3.2" fill="#a2556f" stroke="#803c55" stroke-width="0.45"/><circle cx="586.2" cy="112.6" r="2.4" fill="#b0687f" stroke="#803c55" stroke-width="0.45"/><circle cx="586.4" cy="120.1" r="3.1" fill="#994b65" stroke="#803c55" stroke-width="0.45"/><circle cx="593.6" cy="114.3" r="2.3" fill="#b0687f" stroke="#803c55" stroke-width="0.45"/><circle cx="575.8" cy="117.7" r="2.7" fill="#b0687f" stroke="#803c55" stroke-width="0.45"/><circle cx="591.4" cy="125.4" r="2.5" fill="#b0687f" stroke="#803c55" stroke-width="0.45"/><circle cx="592.0" cy="116.2" r="3.1" fill="#994b65" stroke="#803c55" stroke-width="0.45"/><circle cx="587.5" cy="113.2" r="2.7" fill="#aa5f78" stroke="#803c55" stroke-width="0.45"/><circle cx="591.1" cy="123.9" r="2.6" fill="#aa5f78" stroke="#803c55" stroke-width="0.45"/><circle cx="593.2" cy="111.1" r="3.1" fill="#994b65" stroke="#803c55" stroke-width="0.45"/><circle cx="580.8" cy="116.3" r="2.3" fill="#aa5f78" stroke="#803c55" stroke-width="0.45"/><circle cx="587.3" cy="115.7" r="2.5" fill="#b0687f" stroke="#803c55" stroke-width="0.45"/><circle cx="594.2" cy="118.7" r="3.1" fill="#a2556f" stroke="#803c55" stroke-width="0.45"/><circle cx="582.1" cy="122.1" r="2.4" fill="#a2556f" stroke="#803c55" stroke-width="0.45"/><circle cx="579.4" cy="118.2" r="2.3" fill="#aa5f78" stroke="#803c55" stroke-width="0.45"/><circle cx="587.4" cy="121.1" r="2.7" fill="#994b65" stroke="#803c55" stroke-width="0.45"/><circle cx="575.8" cy="118.9" r="3.2" fill="#aa5f78" stroke="#803c55" stroke-width="0.45"/><ellipse cx="489.7" cy="160.5" rx="20.0" ry="16.8" fill="#d99aa6" opacity="0.45" filter="url(#bl1)"/><circle cx="484.1" cy="157.1" r="2.9" fill="#aa5f78" stroke="#803c55" stroke-width="0.45"/><circle cx="499.0" cy="157.6" r="2.6" fill="#994b65" stroke="#803c55" stroke-width="0.45"/><circle cx="491.9" cy="154.2" r="2.5" fill="#aa5f78" stroke="#803c55" stroke-width="0.45"/><circle cx="493.8" cy="163.8" r="2.3" fill="#b0687f" stroke="#803c55" stroke-width="0.45"/><circle cx="490.4" cy="152.6" r="3.0" fill="#b0687f" stroke="#803c55" stroke-width="0.45"/><circle cx="485.4" cy="165.7" r="2.3" fill="#a2556f" stroke="#803c55" stroke-width="0.45"/><circle cx="483.8" cy="164.7" r="2.8" fill="#b0687f" stroke="#803c55" stroke-width="0.45"/><circle cx="498.3" cy="159.7" r="3.0" fill="#b0687f" stroke="#803c55" stroke-width="0.45"/><circle cx="497.4" cy="152.0" r="2.5" fill="#a2556f" stroke="#803c55" stroke-width="0.45"/><circle cx="488.4" cy="159.1" r="3.1" fill="#994b65" stroke="#803c55" stroke-width="0.45"/><circle cx="498.8" cy="165.3" r="2.8" fill="#a2556f" stroke="#803c55" stroke-width="0.45"/><circle cx="484.0" cy="161.5" r="2.8" fill="#994b65" stroke="#803c55" stroke-width="0.45"/><circle cx="500.1" cy="165.7" r="2.7" fill="#aa5f78" stroke="#803c55" stroke-width="0.45"/><circle cx="482.7" cy="154.4" r="2.4" fill="#aa5f78" stroke="#803c55" stroke-width="0.45"/><circle cx="482.1" cy="157.0" r="2.6" fill="#a2556f" stroke="#803c55" stroke-width="0.45"/><circle cx="485.8" cy="162.7" r="2.3" fill="#b0687f" stroke="#803c55" stroke-width="0.45"/><circle cx="495.5" cy="158.1" r="2.8" fill="#aa5f78" stroke="#803c55" stroke-width="0.45"/><circle cx="483.0" cy="164.3" r="2.3" fill="#994b65" stroke="#803c55" stroke-width="0.45"/><circle cx="499.4" cy="161.1" r="2.9" fill="#a2556f" stroke="#803c55" stroke-width="0.45"/><circle cx="482.3" cy="163.5" r="3.1" fill="#b0687f" stroke="#803c55" stroke-width="0.45"/><circle cx="492.8" cy="167.5" r="2.2" fill="#994b65" stroke="#803c55" stroke-width="0.45"/><circle cx="494.4" cy="162.2" r="2.7" fill="#aa5f78" stroke="#803c55" stroke-width="0.45"/><circle cx="477.3" cy="160.9" r="2.6" fill="#a2556f" stroke="#803c55" stroke-width="0.45"/><circle cx="478.9" cy="161.5" r="2.3" fill="#b0687f" stroke="#803c55" stroke-width="0.45"/><circle cx="486.9" cy="168.8" r="2.3" fill="#b0687f" stroke="#803c55" stroke-width="0.45"/><circle cx="491.3" cy="167.4" r="2.3" fill="#b0687f" stroke="#803c55" stroke-width="0.45"/><circle cx="494.3" cy="168.2" r="2.7" fill="#994b65" stroke="#803c55" stroke-width="0.45"/><circle cx="486.3" cy="157.3" r="2.4" fill="#aa5f78" stroke="#803c55" stroke-width="0.45"/><circle cx="489.9" cy="162.3" r="2.9" fill="#994b65" stroke="#803c55" stroke-width="0.45"/><circle cx="494.2" cy="151.1" r="2.4" fill="#994b65" stroke="#803c55" stroke-width="0.45"/><circle cx="485.3" cy="153.1" r="2.7" fill="#994b65" stroke="#803c55" stroke-width="0.45"/><circle cx="483.3" cy="158.8" r="2.4" fill="#a2556f" stroke="#803c55" stroke-width="0.45"/><circle cx="489.5" cy="166.3" r="2.7" fill="#aa5f78" stroke="#803c55" stroke-width="0.45"/><circle cx="494.9" cy="159.4" r="3.2" fill="#a2556f" stroke="#803c55" stroke-width="0.45"/><circle cx="481.5" cy="163.8" r="2.4" fill="#a2556f" stroke="#803c55" stroke-width="0.45"/><circle cx="494.8" cy="154.1" r="2.2" fill="#b0687f" stroke="#803c55" stroke-width="0.45"/><circle cx="484.6" cy="169.0" r="2.7" fill="#aa5f78" stroke="#803c55" stroke-width="0.45"/><circle cx="477.1" cy="160.5" r="2.6" fill="#994b65" stroke="#803c55" stroke-width="0.45"/>
<path d="M556.2 102.7L561.5 104.0L556.2 105.2zM556.1 106.3L561.8 109.4L555.3 108.7zM554.5 110.2L557.4 114.0L553.0 112.1zM551.8 113.1L553.8 118.7L549.7 114.5zM548.0 115.1L547.9 121.4L545.6 115.6zM544.0 115.6L541.7 122.0L541.6 115.2zM540.0 114.6L537.3 116.6L537.8 113.3zM536.7 112.4L532.9 113.9L535.1 110.5zM534.4 109.4L526.9 111.0L533.5 107.0zM533.2 105.3L526.7 104.0L533.2 102.8zM533.3 101.7L528.1 98.7L534.1 99.3zM534.8 98.0L532.6 94.7L536.3 96.0zM537.4 95.0L537.1 92.0L539.5 93.6zM542.0 92.7L542.3 85.0L544.5 92.4zM545.3 92.4L546.9 90.0L547.8 92.8zM549.7 93.5L553.9 89.0L551.8 94.8zM552.3 95.2L557.9 91.6L554.0 97.0zM554.8 98.3L558.8 98.0L555.8 100.7z" fill="#fbe8ae" stroke="#e6c57c" stroke-width="0.5" stroke-linejoin="round"/><circle cx="544.7" cy="104.0" r="12.2" fill="#fbe8ae" stroke="#ecd08e" stroke-width="0.5"/><circle cx="544.7" cy="104.0" r="6.5" fill="#eac387"/><path d="M588.2 99.4L593.8 103.1L587.2 101.7zM586.8 102.3L590.1 106.6L585.2 104.3zM583.4 105.7L584.9 111.4L581.2 106.9zM580.1 107.2L579.4 110.9L577.6 107.6zM576.7 107.6L574.9 110.9L574.2 107.2zM572.2 106.5L568.1 110.7L570.0 105.2zM568.9 104.2L563.6 107.0L567.4 102.3zM566.5 100.8L560.5 101.5L565.8 98.4zM565.6 97.1L558.6 95.8L565.6 94.6zM565.9 93.0L559.7 89.2L566.8 90.6zM568.0 88.8L563.9 83.1L569.8 87.0zM570.8 86.3L569.1 80.2L573.0 85.2zM574.2 84.8L574.8 80.8L576.6 84.4zM577.6 84.4L579.7 78.6L580.0 84.8zM581.7 85.3L585.6 80.9L583.9 86.6zM585.4 87.8L590.6 85.2L586.9 89.8zM587.6 91.0L591.6 90.9L588.4 93.4zM588.6 94.7L594.9 96.0L588.6 97.2z" fill="#fbe8ae" stroke="#e6c57c" stroke-width="0.5" stroke-linejoin="round"/><circle cx="577.1" cy="96.0" r="12.2" fill="#fbe8ae" stroke="#ecd08e" stroke-width="0.5"/><circle cx="577.1" cy="96.0" r="6.5" fill="#eac387"/><path d="M625.4 117.1L627.5 121.0L623.7 118.8zM623.1 119.3L624.3 124.2L620.9 120.5zM619.3 121.0L618.9 127.0L616.8 121.4zM614.8 121.3L612.0 127.4L612.4 120.7zM610.9 120.0L606.2 124.6L608.8 118.6zM607.6 117.3L602.8 119.1L606.2 115.3zM605.8 114.5L599.7 115.2L605.0 112.2zM604.8 110.8L597.9 109.4L604.9 108.3zM605.2 106.7L600.6 103.5L606.2 104.3zM607.1 102.9L604.6 99.0L608.7 101.1zM609.4 100.6L608.4 96.5L611.5 99.3zM613.6 98.5L613.8 90.9L616.1 98.2zM617.1 98.2L619.6 91.2L619.6 98.7zM622.1 99.7L627.0 95.0L624.1 101.2zM624.6 101.6L627.4 100.9L626.1 103.5zM627.2 105.6L630.4 106.1L627.9 108.0zM628.0 108.8L635.4 110.1L627.9 111.3zM627.5 113.3L633.3 117.2L626.5 115.6z" fill="#fbe8ae" stroke="#e6c57c" stroke-width="0.5" stroke-linejoin="round"/><circle cx="616.4" cy="109.8" r="12.2" fill="#fbe8ae" stroke="#ecd08e" stroke-width="0.5"/><circle cx="616.4" cy="109.8" r="6.5" fill="#eac387"/><path d="M516.5 147.5L516.7 151.2L514.2 148.5zM513.1 148.8L512.2 152.0L510.6 149.1zM509.3 149.0L506.9 153.8L506.8 148.5zM504.9 147.6L501.5 150.2L502.8 146.1zM501.9 145.2L498.5 146.1L500.5 143.1zM500.0 142.3L496.9 142.0L499.2 139.9zM499.0 137.9L493.5 136.3L499.2 135.4zM499.6 133.7L495.8 130.6L500.7 131.5zM501.8 130.0L498.3 124.5L503.6 128.3zM504.4 127.7L502.4 120.7L506.7 126.6zM507.6 126.3L508.3 122.1L510.1 125.9zM512.2 126.0L514.8 120.8L514.6 126.6zM516.5 127.5L521.2 123.3L518.5 129.0zM518.7 129.2L525.3 125.4L520.3 131.1zM521.3 133.0L525.1 133.2L522.0 135.4zM522.2 137.3L527.9 139.1L522.0 139.8zM521.5 141.4L525.9 145.0L520.4 143.7zM520.0 144.3L522.9 148.6L518.3 146.1z" fill="#fbe8ae" stroke="#e6c57c" stroke-width="0.5" stroke-linejoin="round"/><circle cx="510.6" cy="137.5" r="12.2" fill="#fbe8ae" stroke="#ecd08e" stroke-width="0.5"/><circle cx="510.6" cy="137.5" r="6.5" fill="#eac387"/><path d="M562.1 148.9L561.3 153.4L559.6 149.1zM558.0 149.0L555.9 151.8L555.5 148.3zM554.6 147.8L551.8 149.8L552.5 146.5zM551.5 145.7L546.6 148.0L550.0 143.7zM548.9 141.4L544.0 141.3L548.3 139.0zM548.2 137.2L542.7 135.2L548.5 134.7zM548.9 133.6L545.8 130.7L550.0 131.3zM551.1 129.8L549.1 125.8L552.9 128.1zM554.2 127.4L553.8 123.3L556.5 126.4zM558.1 126.0L559.2 119.8L560.6 125.9zM561.1 126.0L563.7 120.0L563.5 126.5zM564.9 127.1L568.4 123.9L567.0 128.4zM568.4 129.7L572.6 128.2L569.9 131.7zM570.5 133.1L574.1 133.3L571.2 135.5zM571.4 137.1L574.3 138.5L571.2 139.6zM570.7 141.6L574.0 144.7L569.5 143.8zM568.7 145.0L571.1 149.3L566.9 146.7zM565.3 147.7L566.8 154.9L562.9 148.7z" fill="#fbe8ae" stroke="#e6c57c" stroke-width="0.5" stroke-linejoin="round"/><circle cx="559.8" cy="137.5" r="12.2" fill="#fbe8ae" stroke="#ecd08e" stroke-width="0.5"/><circle cx="559.8" cy="137.5" r="6.5" fill="#eac387"/><path d="M470.8 154.7L467.6 161.0L468.5 153.9zM466.8 153.1L461.2 158.1L464.9 151.5zM464.3 150.9L458.9 153.1L462.9 148.8zM462.4 147.9L457.8 148.0L461.7 145.5zM461.5 143.6L455.8 141.8L461.7 141.1zM462.0 140.0L456.4 136.4L462.9 137.7zM463.8 136.3L461.2 132.2L465.5 134.5zM467.2 133.3L465.5 126.4L469.5 132.3zM471.2 131.9L472.3 128.5L473.7 131.7zM475.3 131.9L477.6 128.7L477.7 132.6zM479.0 133.3L482.8 130.3L481.0 134.8zM482.4 136.3L487.2 134.9L483.6 138.5zM483.9 139.0L488.2 139.1L484.5 141.4zM484.7 143.9L488.8 145.8L484.3 146.4zM484.1 146.9L488.5 150.2L483.1 149.2zM481.9 150.9L486.0 157.3L480.0 152.6zM479.4 153.0L480.3 157.4L477.2 154.2zM474.8 154.8L473.8 160.0L472.3 154.9z" fill="#fbe8ae" stroke="#e6c57c" stroke-width="0.5" stroke-linejoin="round"/><circle cx="473.1" cy="143.3" r="12.2" fill="#fbe8ae" stroke="#ecd08e" stroke-width="0.5"/><circle cx="473.1" cy="143.3" r="6.5" fill="#eac387"/><path d="M500.4 197.0L495.6 201.0L498.4 195.4zM498.0 194.9L494.9 195.6L496.5 192.9zM495.8 191.4L491.5 191.3L495.1 189.0zM495.0 187.4L491.1 185.8L495.2 184.9zM495.6 183.5L493.7 181.3L496.6 181.3zM497.9 179.6L494.4 173.9L499.7 177.9zM500.6 177.3L500.4 174.0L502.8 176.2zM505.1 175.7L506.3 172.7L507.6 175.6zM508.3 175.7L510.8 171.1L510.7 176.4zM512.3 177.1L517.3 172.4L514.4 178.6zM515.6 179.9L520.8 178.1L517.0 182.0zM517.5 183.3L520.4 183.8L518.1 185.7zM518.2 187.8L522.5 189.8L517.8 190.3zM517.3 191.8L519.3 194.4L516.0 194.0zM515.4 194.7L518.2 199.5L513.6 196.5zM512.6 197.1L512.8 200.3L510.4 198.2zM507.8 198.7L506.5 206.2L505.3 198.7zM503.7 198.4L500.6 203.1L501.4 197.6z" fill="#fbe8ae" stroke="#e6c57c" stroke-width="0.5" stroke-linejoin="round"/><circle cx="506.6" cy="187.2" r="12.2" fill="#fbe8ae" stroke="#ecd08e" stroke-width="0.5"/><circle cx="506.6" cy="187.2" r="6.5" fill="#eac387"/>
</g>
<g id="vesselL">
<path d="M121.3 320.8L171 289.5L173 362.5L126.2 337.6z" fill="#c6c6ca"/>
<g mask="url(#mVL)"><g fill="#93d071" stroke="#5f9f44" stroke-width="0.6" stroke-linejoin="round"><path d="M83.7 313.1C84.0 312.2 86.5 311.4 88.0 311.5C89.5 311.6 91.1 312.8 92.5 313.5C93.9 314.2 95.2 314.8 96.5 315.8C97.8 316.8 99.1 318.1 100.0 319.5C100.9 320.9 101.6 322.5 102.0 324.0C102.4 325.5 103.4 328.1 102.6 328.4C101.8 328.6 98.9 326.6 97.0 325.5C95.1 324.4 92.8 322.9 91.0 321.5C89.2 320.1 87.2 318.4 86.0 317.0C84.8 315.6 83.4 314.0 83.7 313.1z"/><path d="M84.6 328.2C85.3 327.9 87.9 330.2 90.0 331.5C92.1 332.8 94.8 334.5 97.0 336.0C99.2 337.5 101.5 339.2 103.0 340.5C104.5 341.8 106.5 342.9 106.0 343.6C105.5 344.3 102.0 344.7 100.0 344.5C98.0 344.3 95.8 343.3 94.0 342.3C92.2 341.3 90.3 340.0 89.0 338.5C87.7 337.0 86.7 335.2 86.0 333.5C85.3 331.8 83.9 328.5 84.6 328.2z"/><path d="M107.7 330.2C107.2 329.5 109.7 326.9 111.0 325.5C112.3 324.1 114.0 322.4 115.5 321.5C117.0 320.6 118.5 320.1 120.0 320.0C121.5 319.9 123.0 320.6 124.5 321.0C126.0 321.4 127.2 322.3 129.0 322.6C130.8 322.9 135.3 322.2 135.5 322.6C135.7 323.0 132.2 324.4 130.0 325.2C127.8 326.0 124.7 326.8 122.0 327.6C119.3 328.4 116.4 329.4 114.0 329.8C111.6 330.2 108.2 330.9 107.7 330.2z"/><path d="M107.7 345.1C107.1 345.4 108.2 349.0 108.5 351.0C108.8 353.0 108.8 355.2 109.5 357.0C110.2 358.8 111.2 360.6 112.5 362.0C113.8 363.4 115.6 364.7 117.5 365.5C119.4 366.3 123.1 367.6 123.7 366.8C124.3 366.1 122.2 363.1 121.0 361.0C119.8 358.9 118.0 356.5 116.5 354.5C115.0 352.5 113.5 350.6 112.0 349.0C110.5 347.4 108.3 344.8 107.7 345.1z"/><path d="M126.4 362.2C126.6 361.6 129.7 362.5 132.0 362.4C134.3 362.3 137.5 361.7 140.0 361.5C142.5 361.3 144.8 360.9 147.0 361.0C149.2 361.1 153.0 361.6 153.2 362.3C153.4 363.0 149.9 364.2 148.0 365.2C146.1 366.1 143.9 367.5 142.0 368.0C140.1 368.5 138.3 368.3 136.5 368.0C134.7 367.7 132.7 367.0 131.0 366.0C129.3 365.0 126.2 362.8 126.4 362.2z"/><path d="M129.9 370.0C130.3 369.2 132.2 371.3 133.5 372.5C134.8 373.7 136.4 375.3 137.5 377.0C138.6 378.7 139.5 380.5 139.8 382.5C140.1 384.5 139.8 386.6 139.3 389.0C138.8 391.4 137.8 396.3 137.0 396.8C136.2 397.3 135.3 394.1 134.6 392.0C133.9 389.9 133.4 386.5 132.8 384.0C132.2 381.5 131.5 379.3 131.0 377.0C130.5 374.7 129.5 370.8 129.9 370.0z"/></g><g fill="#74b55a" opacity="0.7"><ellipse cx="93" cy="317.5" rx="3" ry="1.6" transform="rotate(35 93 317.5)"/><ellipse cx="94.5" cy="338.5" rx="3" ry="1.6" transform="rotate(35 94.5 338.5)"/><ellipse cx="120" cy="323.6" rx="3" ry="1.5" transform="rotate(-15 120 323.6)"/><ellipse cx="112.5" cy="357" rx="1.6" ry="3" transform="rotate(-25 112.5 357)"/><ellipse cx="139" cy="365" rx="3" ry="1.4"/><ellipse cx="136.5" cy="383" rx="1.5" ry="3.2"/></g><g mask="url(#mVLb)"><path d="M104.0 332.5L104.3 332.5L104.7 332.4L105.2 332.4L105.8 332.3L106.6 332.1L107.7 331.8L109.1 331.4L110.8 330.8L112.6 330.2L114.6 329.5L116.5 328.8L118.4 328.2L120.2 327.6L121.9 327.0L123.7 326.4L125.5 325.8L127.2 325.2L129.0 324.7L130.8 324.2L132.5 323.6L134.3 323.1L136.1 322.7L137.9 322.3L139.7 322.0L141.7 321.8L143.8 321.8L146.0 321.8L148.0 321.9L149.8 322.0L151.0 322.0L151.0 326.5L149.8 326.5L148.0 326.5L146.0 326.5L143.8 326.5L141.7 326.6L139.7 326.8L137.9 327.1L136.1 327.5L134.3 327.9L132.5 328.4L130.8 328.9L129.0 329.5L127.2 330.1L125.4 330.8L123.5 331.5L121.7 332.2L120.0 332.9L118.4 333.6L116.9 334.2L115.4 334.9L114.0 335.5L112.7 336.1L111.5 336.6L110.4 337.1L109.4 337.5L108.5 337.8L107.7 338.0L107.0 338.2L106.4 338.4L106.0 338.5z" fill="#a52a2d"/><path d="M104.0 332.5C104.6 332.4 105.3 332.5 107.7 331.8C110.1 331.1 114.9 329.4 118.4 328.2C122.0 327.0 125.5 325.7 129.0 324.7C132.6 323.7 136.0 322.4 139.7 322.0C143.4 321.6 149.1 322.0 151.0 322.0" fill="none" stroke="#8a1d20" stroke-width="1.1"/><path d="M106.0 338.5C106.7 338.3 108.3 337.9 110.4 337.1C112.5 336.3 115.3 334.9 118.4 333.6C121.5 332.3 125.5 330.6 129.0 329.5C132.6 328.4 136.0 327.3 139.7 326.8C143.4 326.3 149.1 326.6 151.0 326.5" fill="none" stroke="#8a1d20" stroke-width="1.1"/><path d="M122.0 359.5L122.5 359.4L123.2 359.2L124.1 359.1L125.1 358.9L126.1 358.7L127.3 358.5L128.6 358.4L130.1 358.2L131.6 358.1L133.2 357.9L134.8 357.8L136.2 357.6L137.5 357.4L138.7 357.1L139.8 356.9L141.0 356.6L142.1 356.4L143.3 356.2L144.6 356.0L146.1 355.9L147.6 355.7L149.0 355.6L150.2 355.5L151.0 355.4L151.0 359.8L150.2 359.9L149.0 360.1L147.6 360.2L146.1 360.4L144.6 360.6L143.3 360.8L142.1 361.0L141.0 361.2L139.9 361.4L138.8 361.5L137.6 361.8L136.2 362.0L134.6 362.3L132.7 362.6L130.7 362.9L128.7 363.3L127.0 363.6L125.5 363.8L124.3 364.0L123.4 364.1L122.6 364.3L121.9 364.4L121.4 364.4L121.0 364.5z" fill="#a52a2d"/><path d="M122.0 359.5C122.9 359.3 124.9 358.8 127.3 358.5C129.7 358.2 133.5 358.0 136.2 357.6C138.9 357.2 140.8 356.6 143.3 356.2C145.8 355.8 149.7 355.5 151.0 355.4" fill="none" stroke="#8a1d20" stroke-width="1.1"/><path d="M121.0 364.5C121.8 364.4 123.0 364.2 125.5 363.8C128.0 363.4 133.2 362.5 136.2 362.0C139.2 361.5 140.8 361.2 143.3 360.8C145.8 360.4 149.7 360.0 151.0 359.8" fill="none" stroke="#8a1d20" stroke-width="1.1"/></g><path d="M80.5 284.0L80.6 285.3L80.8 287.1L81.0 289.3L81.2 291.6L81.4 293.9L81.6 296.0L81.8 297.9L82.0 299.8L82.1 301.7L82.4 303.5L82.6 305.3L83.0 307.0L83.4 308.7L83.9 310.3L84.3 311.9L84.9 313.4L85.7 314.9L86.6 316.4L87.7 317.9L89.1 319.3L90.5 320.8L92.1 322.2L93.6 323.5L95.2 324.7L96.8 325.8L98.4 326.9L100.1 327.8L101.8 328.7L103.5 329.7L105.0 330.6L106.4 331.5L107.8 332.3L109.2 333.1L110.5 334.0L111.7 335.0L113.0 336.2L114.2 337.7L115.5 339.4L116.7 341.2L117.8 343.1L119.0 345.1L120.1 346.9L121.2 348.7L122.4 350.5L123.5 352.4L124.6 354.2L125.6 355.9L126.4 357.6L127.0 359.1L127.5 360.4L127.9 361.7L128.2 363.1L128.6 364.6L129.0 366.5L129.5 368.8L130.1 371.4L130.7 374.2L131.4 377.0L132.0 379.9L132.6 382.5L133.2 385.0L133.7 387.4L134.3 389.8L134.9 392.2L135.5 394.5L136.2 396.7L137.0 399.0L138.0 401.4L139.1 403.7L140.1 405.9L140.9 407.7L141.5 409.0L136.4 409.0L135.9 407.9L135.2 406.4L134.3 404.6L133.4 402.7L132.5 400.6L131.7 398.5L130.9 396.3L130.2 394.0L129.4 391.6L128.7 389.2L128.0 386.7L127.3 384.3L126.7 381.9L126.1 379.3L125.6 376.8L125.0 374.4L124.4 372.1L123.7 370.0L123.0 368.2L122.2 366.8L121.4 365.4L120.5 364.1L119.5 362.7L118.4 361.1L117.1 359.2L115.7 357.1L114.2 355.0L112.6 352.8L111.0 350.7L109.5 348.7L108.0 346.9L106.6 345.1L105.2 343.5L103.7 341.9L102.2 340.3L100.6 338.9L98.9 337.5L97.1 336.2L95.2 335.0L93.3 333.9L91.5 332.8L89.9 331.8L88.4 330.9L87.1 330.1L85.8 329.4L84.5 328.7L83.4 328.0L82.3 327.4L81.2 326.7L80.2 326.1L79.2 325.4L78.3 324.8L77.5 324.4L77.0 324.0z" fill="#a52a2d"/><path d="M81.6 296.0C81.8 297.8 82.2 303.6 83.0 307.0C83.8 310.4 84.6 313.4 86.6 316.4C88.6 319.3 92.1 322.3 95.2 324.7C98.3 327.1 102.0 328.7 105.0 330.6C108.0 332.5 110.5 333.5 113.0 336.2C115.5 338.9 117.9 343.3 120.1 346.9C122.3 350.5 124.9 354.3 126.4 357.6C127.9 360.9 128.0 362.4 129.0 366.5C130.0 370.6 131.4 377.5 132.6 382.5C133.8 387.5 134.7 392.3 136.2 396.7C137.7 401.1 140.6 406.9 141.5 409.0" fill="none" stroke="#8a1d20" stroke-width="1.2"/><path d="M82.3 327.4C83.6 328.1 86.9 329.9 89.9 331.8C93.0 333.7 97.3 336.1 100.6 338.9C103.9 341.7 106.5 345.0 109.5 348.7C112.5 352.4 116.0 357.6 118.4 361.1C120.8 364.7 122.2 366.1 123.7 370.0C125.2 373.9 126.0 379.6 127.3 384.3C128.6 389.1 130.2 394.4 131.7 398.5C133.2 402.6 135.6 407.2 136.4 409.0" fill="none" stroke="#8a1d20" stroke-width="1.2"/><rect x="70.9" y="245" width="11.3" height="165" fill="url(#vT)"/><path d="M86.6 316.4C88.0 317.8 92.1 322.3 95.2 324.7C98.3 327.1 102.0 328.7 105.0 330.6C108.0 332.5 111.7 335.3 113.0 336.2" transform="translate(-0.6 0.9)" fill="none" stroke="#5f9f44" stroke-width="2.3" stroke-dasharray="0.7 3.1"/><path d="M82.3 327.4C83.6 328.1 86.9 329.9 89.9 331.8C93.0 333.7 97.3 336.1 100.6 338.9C103.9 341.7 108.0 347.1 109.5 348.7" transform="translate(0.6 -0.9)" fill="none" stroke="#5f9f44" stroke-width="2.3" stroke-dasharray="0.7 3.1"/><path d="M107.7 331.8C109.5 331.2 114.9 329.4 118.4 328.2C122.0 327.0 125.5 325.7 129.0 324.7C132.6 323.7 137.9 322.4 139.7 322.0" transform="translate(0 1.0)" fill="none" stroke="#5f9f44" stroke-width="2.3" stroke-dasharray="0.7 3.1"/><path d="M109.5 348.7C111.0 350.8 116.0 357.6 118.4 361.1C120.8 364.7 122.8 368.5 123.7 370.0" transform="translate(0.8 -0.6)" fill="none" stroke="#5f9f44" stroke-width="2.3" stroke-dasharray="0.7 3.1"/><path d="M125.5 363.8C127.3 363.5 133.2 362.5 136.2 362.0C139.2 361.5 140.8 361.2 143.3 360.8C145.8 360.4 149.7 360.0 151.0 359.8" transform="translate(0 -0.9)" fill="none" stroke="#5f9f44" stroke-width="2.3" stroke-dasharray="0.7 3.1"/><path d="M129.0 366.5C129.6 369.2 131.4 377.5 132.6 382.5C133.8 387.5 135.6 394.3 136.2 396.7" transform="translate(-1.0 0)" fill="none" stroke="#5f9f44" stroke-width="2.3" stroke-dasharray="0.7 3.1"/></g>
<path d="M120.1 316.3L126.7 338.4" stroke="#222" stroke-width="0.8" stroke-dasharray="1 1.3" fill="none"/>

<g id="vesselL">
<circle cx="211.2" cy="326.6" r="55" fill="#fff" stroke="#2a2a2a" stroke-width="1.1"/>
<g>
 <path d="M203 287.3C215 286.6 232 287.5 244 291.6C252 295 257.3 303 257.4 314C257.5 326 252.5 334 249.6 341.5C247.5 348 245.5 353 240.5 360.5C236 367 226 373.5 213 375.3L212 371.6C224 370 236.5 362 241.8 351C246 342 247 332 246.6 328C246 306 228 291.3 206.2 291z" fill="#5ea446" stroke="#5ea446" stroke-width="1.0" stroke-linejoin="round"/>
 <path d="M174.6 359.6A42.3 42.3 0 0 1 206.2 289.2" fill="none" stroke="#5ea446" stroke-width="4.0" stroke-linecap="round"/>
 <path d="M178.2 363.2A42.3 42.3 0 0 0 214 373.1" fill="none" stroke="#5ea446" stroke-width="4.0" stroke-linecap="round"/>
 <path d="M203 287.3C215 286.6 232 287.5 244 291.6C252 295 257.3 303 257.4 314C257.5 326 252.5 334 249.6 341.5C247.5 348 245.5 353 240.5 360.5C236 367 226 373.5 213 375.3L212 371.6C224 370 236.5 362 241.8 351C246 342 247 332 246.6 328C246 306 228 291.3 206.2 291z" fill="#9bd577"/>
 <path d="M174.6 359.6A42.3 42.3 0 0 1 206.2 289.2" fill="none" stroke="#9bd577" stroke-width="2.4" stroke-linecap="round"/>
 <path d="M178.2 363.2A42.3 42.3 0 0 0 214 373.1" fill="none" stroke="#9bd577" stroke-width="2.4" stroke-linecap="round"/>
 <ellipse cx="244" cy="302.2" rx="4.2" ry="6.8" transform="rotate(-35 244 302.2)" fill="#74b85a" stroke="#62a74a" stroke-width="0.5"/>
</g>
<circle cx="206.2" cy="331.5" r="36.6" fill="#f7a9b2" stroke="#9d1d23" stroke-width="2.3"/>
<circle cx="206.2" cy="331.5" r="35.1" fill="none" stroke="#c44650" stroke-width="0.8"/>
<path d="M174.8 331.7C174.8 328.9 176.8 325.4 178.3 323.0C179.8 320.6 181.1 319.4 183.9 317.3C186.7 315.2 191.7 312.4 195.2 310.3C198.7 308.2 201.5 306.1 205.0 304.9C208.5 303.7 213.5 303.3 216.3 303.3C219.1 303.3 220.4 303.4 222.0 304.8C223.6 306.2 224.9 308.9 226.1 311.7C227.2 314.5 228.4 318.3 228.9 321.6C229.4 324.9 229.3 328.1 229.3 331.4C229.3 334.7 229.4 338.0 228.9 341.3C228.4 344.6 227.2 348.3 226.1 351.1C224.9 353.9 223.6 356.9 222.0 358.2C220.4 359.5 219.1 359.3 216.3 359.2C213.5 359.1 208.5 358.8 205.0 357.6C201.5 356.5 198.7 354.3 195.2 352.3C191.7 350.3 186.7 347.8 183.9 345.7C181.1 343.6 179.8 342.3 178.3 340.0C176.8 337.7 174.8 334.5 174.8 331.7z" fill="#fcf1ef" stroke="#e5707c" stroke-width="0.9" stroke-linejoin="round"/>
<g stroke="#e5707c" stroke-width="0.8" fill="none"><path d="M174.8 331.7H170.4M222 304.8L224.6 300.4M222 358.2L224.6 362.6"/></g>
<circle cx="201.8" cy="301.2" r="0.9" fill="#222"/>
<g fill="#e98a97">
 <ellipse cx="192" cy="307.3" rx="6" ry="2.4" transform="rotate(-27 192 307.3)"/>
 <ellipse cx="233.8" cy="331.5" rx="2.4" ry="6"/>
 <ellipse cx="192" cy="355.5" rx="6" ry="2.4" transform="rotate(27 192 355.5)"/>
</g>
</g>

<g id="vesselRb">
<path d="M719.5 116L766 87.5L769 157.5L723.6 134.6z" fill="#8f9499" opacity="0.5"/>
<g mask="url(#mVR)"><g fill="#c7c7c9" stroke="#98989b" stroke-width="0.6" stroke-linejoin="round"><path d="M705.4 128.1C705.4 127.4 707.4 126.5 708.5 125.0C709.7 123.5 710.7 120.7 712.2 119.4C713.8 118.2 715.8 117.7 717.8 117.6C719.8 117.4 722.3 118.4 724.3 118.5C726.3 118.7 728.2 118.6 729.8 118.5C731.4 118.5 733.4 117.7 733.9 118.1C734.4 118.6 733.7 120.7 732.6 121.3C731.5 121.9 729.0 121.2 727.0 121.9C725.0 122.5 722.9 124.0 720.6 125.0C718.2 126.0 715.2 127.0 713.1 127.8C711.1 128.5 709.8 129.6 708.5 129.6C707.2 129.7 705.4 128.9 705.4 128.1z"/><path d="M692.4 138.5C691.7 139.3 692.6 143.8 693.1 146.3C693.7 148.8 694.1 151.7 695.6 153.7C697.0 155.7 699.8 157.2 702.0 158.3C704.3 159.5 708.2 161.4 709.1 160.7C709.9 160.1 708.2 156.7 707.2 154.6C706.2 152.5 704.6 150.3 703.0 148.1C701.3 146.0 699.2 143.3 697.4 141.7C695.6 140.1 693.1 137.7 692.4 138.5z"/><path d="M711.3 165.2C711.6 164.4 715.9 164.9 718.7 164.8C721.5 164.8 725.3 165.1 728.0 164.8C730.6 164.6 732.6 163.2 734.4 163.3C736.3 163.5 739.1 165.0 739.1 165.7C739.1 166.5 736.1 166.7 734.4 167.6C732.7 168.5 730.9 170.5 728.9 171.3C726.9 172.1 724.4 172.9 722.4 172.6C720.4 172.3 718.7 170.7 716.9 169.4C715.0 168.2 711.0 166.0 711.3 165.2z"/><path d="M718.7 173.1C719.3 172.8 721.4 176.7 722.8 178.7C724.2 180.7 726.2 183.0 727.0 185.2C727.8 187.3 727.9 189.0 727.6 191.7C727.3 194.3 726.1 199.8 725.2 200.9C724.3 202.0 722.8 200.2 722.0 198.1C721.3 196.1 721.0 191.8 720.6 188.9C720.1 186.0 719.6 183.2 719.3 180.6C719.0 177.9 718.1 173.5 718.7 173.1z"/></g><g fill="#a5a5a8"><ellipse cx="718" cy="120.8" rx="3.4" ry="1.5" transform="rotate(-12 718 120.8)"/><ellipse cx="697.5" cy="148" rx="1.5" ry="3.4" transform="rotate(-30 697.5 148)"/><ellipse cx="725" cy="168" rx="3.4" ry="1.4"/><ellipse cx="725.5" cy="186" rx="1.4" ry="3.4"/></g><g mask="url(#mVRb)"><path d="M699.0 135.5L699.4 135.4L699.8 135.3L700.4 135.2L701.1 135.0L701.9 134.7L703.0 134.3L704.3 133.8L705.9 133.1L707.7 132.4L709.6 131.6L711.4 130.9L713.1 130.2L714.7 129.5L716.3 128.9L717.9 128.2L719.4 127.6L720.9 127.0L722.4 126.5L723.9 126.1L725.5 125.7L727.0 125.4L728.4 125.2L729.6 125.0L730.5 124.8L730.5 129.4L729.6 129.6L728.4 129.9L727.0 130.2L725.5 130.6L723.9 131.0L722.4 131.5L720.9 132.1L719.4 132.7L717.8 133.5L716.2 134.2L714.6 134.9L713.1 135.6L711.6 136.2L710.1 136.8L708.6 137.4L707.2 138.0L705.9 138.5L704.8 138.9L703.9 139.3L703.1 139.6L702.4 139.8L701.8 140.0L701.4 140.2L701.0 140.3z" fill="#a8272b"/><path d="M699.0 135.5C699.7 135.3 700.6 135.2 703.0 134.3C705.4 133.4 709.9 131.5 713.1 130.2C716.3 128.9 719.5 127.4 722.4 126.5C725.3 125.6 729.1 125.1 730.5 124.8" fill="none" stroke="#8f1c20" stroke-width="1.1"/><path d="M701.0 140.3C701.6 140.1 702.8 139.7 704.8 138.9C706.8 138.1 710.2 136.8 713.1 135.6C716.0 134.4 719.5 132.5 722.4 131.5C725.3 130.5 729.1 129.8 730.5 129.4" fill="none" stroke="#8f1c20" stroke-width="1.1"/><path d="M712.5 161.3L712.5 161.3L712.5 161.3L712.6 161.3L712.7 161.2L713.0 161.2L713.5 161.1L714.3 161.0L715.5 160.9L716.8 160.8L718.1 160.6L719.4 160.4L720.6 160.2L721.6 159.9L722.6 159.5L723.5 159.0L724.4 158.6L725.3 158.1L726.1 157.8L726.9 157.5L727.8 157.3L728.6 157.1L729.4 156.9L730.0 156.8L730.5 156.7L730.5 161.7L730.0 161.8L729.4 162.0L728.6 162.2L727.8 162.5L726.9 162.7L726.1 163.0L725.3 163.3L724.4 163.7L723.6 164.1L722.6 164.5L721.7 164.9L720.6 165.2L719.3 165.5L717.9 165.8L716.4 166.1L714.9 166.3L713.7 166.5L712.8 166.7L712.3 166.8L712.1 166.9L712.2 166.9L712.3 166.9L712.4 166.9L712.5 166.9z" fill="#a8272b"/><path d="M712.5 161.3C712.7 161.3 712.1 161.3 713.5 161.1C714.9 160.9 718.5 160.8 720.6 160.2C722.7 159.6 724.5 158.4 726.1 157.8C727.8 157.2 729.8 156.9 730.5 156.7" fill="none" stroke="#8f1c20" stroke-width="1.1"/><path d="M712.5 166.9C712.5 166.9 711.4 167.0 712.8 166.7C714.1 166.4 718.4 165.8 720.6 165.2C722.8 164.6 724.5 163.6 726.1 163.0C727.8 162.4 729.8 161.9 730.5 161.7" fill="none" stroke="#8f1c20" stroke-width="1.1"/></g><path d="M684.0 90.0L684.1 91.3L684.3 93.1L684.5 95.3L684.7 97.6L685.0 99.9L685.2 102.0L685.4 103.9L685.6 105.8L685.8 107.6L686.0 109.4L686.3 111.2L686.6 113.0L687.0 114.8L687.4 116.7L687.8 118.5L688.3 120.3L688.9 122.0L689.6 123.6L690.4 125.1L691.4 126.6L692.4 128.0L693.5 129.3L694.5 130.5L695.6 131.5L696.7 132.3L697.7 132.8L698.8 133.3L699.9 133.7L701.0 134.3L702.0 135.2L703.0 136.4L704.0 137.8L704.9 139.3L705.8 141.0L706.7 142.7L707.6 144.4L708.4 146.2L709.3 148.1L710.1 150.1L710.8 152.1L711.5 153.9L712.2 155.6L712.8 157.0L713.3 158.1L713.8 159.1L714.3 160.1L714.7 161.4L715.0 163.0L715.3 165.0L715.4 167.4L715.6 169.9L715.7 172.6L715.8 175.2L716.0 177.8L716.2 180.3L716.5 182.8L716.8 185.3L717.1 187.8L717.4 190.2L717.8 192.6L718.2 194.9L718.7 197.3L719.1 199.6L719.6 201.8L720.1 203.8L720.6 205.6L721.1 207.2L721.7 208.6L722.3 209.9L722.8 210.9L723.3 211.8L723.6 212.5L719.8 212.5L719.4 211.2L718.8 209.3L718.1 207.2L717.3 204.8L716.6 202.4L716.0 200.0L715.5 197.7L714.9 195.2L714.4 192.7L714.0 190.2L713.5 187.7L713.1 185.2L712.7 182.7L712.5 180.1L712.2 177.6L711.9 175.1L711.6 172.7L711.3 170.4L710.9 168.3L710.6 166.4L710.2 164.6L709.7 162.9L709.2 161.1L708.5 159.3L707.7 157.4L706.7 155.5L705.6 153.6L704.5 151.8L703.3 149.9L702.0 148.0L700.6 146.1L699.0 144.1L697.4 142.1L695.8 140.2L694.2 138.5L692.8 137.0L691.5 135.7L690.3 134.7L689.1 133.8L688.0 133.0L686.9 132.2L685.9 131.5L684.9 130.8L683.9 130.1L683.0 129.4L682.2 128.8L681.5 128.4L681.0 128.0z" fill="#a8272b"/><path d="M685.2 102.0C685.4 103.8 685.9 109.4 686.6 113.0C687.3 116.6 688.1 120.5 689.6 123.6C691.1 126.7 693.5 129.6 695.6 131.5C697.7 133.4 700.0 133.0 702.0 135.2C704.0 137.3 705.9 141.0 707.6 144.4C709.3 147.8 711.0 152.5 712.2 155.6C713.4 158.7 714.4 159.3 715.0 163.0C715.6 166.7 715.5 172.9 716.0 177.8C716.5 182.7 717.0 188.0 717.8 192.6C718.6 197.2 719.6 202.3 720.6 205.6C721.6 208.9 723.1 211.3 723.6 212.5" fill="none" stroke="#8f1c20" stroke-width="1.2"/><path d="M685.9 131.5C687.0 132.4 690.1 134.2 692.8 137.0C695.5 139.8 699.4 144.3 702.0 148.0C704.6 151.7 707.0 155.6 708.5 159.3C710.0 163.0 710.5 166.1 711.3 170.4C712.1 174.7 712.3 180.3 713.1 185.2C713.9 190.1 714.9 195.4 716.0 200.0C717.1 204.6 719.2 210.4 719.8 212.5" fill="none" stroke="#8f1c20" stroke-width="1.2"/><rect x="678.8" y="45" width="7.2" height="172" fill="url(#vT2)"/><path d="M703.0 134.3C704.7 133.6 709.9 131.5 713.1 130.2C716.3 128.9 720.9 127.1 722.4 126.5" transform="translate(0 0.8)" fill="none" stroke="#b9b9bc" stroke-width="2.2" stroke-dasharray="0.6 3.0"/><path d="M692.8 137.0C694.3 138.8 699.4 144.3 702.0 148.0C704.6 151.7 707.4 157.4 708.5 159.3" transform="translate(0.7 -0.6)" fill="none" stroke="#b9b9bc" stroke-width="2.2" stroke-dasharray="0.6 3.0"/><path d="M712.8 166.7C714.1 166.4 718.4 165.8 720.6 165.2C722.8 164.6 725.2 163.4 726.1 163.0" transform="translate(0 -0.8)" fill="none" stroke="#b9b9bc" stroke-width="2.2" stroke-dasharray="0.6 3.0"/><path d="M716.0 177.8C716.3 180.3 717.0 188.0 717.8 192.6C718.6 197.2 720.1 203.4 720.6 205.6" transform="translate(-0.9 0)" fill="none" stroke="#b9b9bc" stroke-width="2.2" stroke-dasharray="0.6 3.0"/></g>
<path d="M717.8 112.5L724 135.5" stroke="#222" stroke-width="0.8" stroke-dasharray="1 1.3" fill="none"/>
</g>

<g id="vesselR">
<circle cx="810.7" cy="123.2" r="56.2" fill="#fff" stroke="#2a2a2a" stroke-width="1.1"/>
<path d="M758.6 130.2C758 122 761 110 768 101C776 91 790 84.5 806 83C818 82 834 83.3 846 88C854.5 92 859 101 859.3 113C859.5 124 856 133 852 139C848.5 146 843 156 836 163C828 170 818 175 806.5 177.2C804.5 177.4 803.8 175.2 805.8 174.7C816 172.5 826 167 834 159C840 152.5 846 143 849 135C851 128 851 118 846 107C841.5 98 832 91 820 88.2C812 86.6 800 86.8 786 92C776 96.5 767.5 107 763.3 117C761.5 122 761 127 761 130C760.8 132.2 758.8 132.2 758.6 130.2z" fill="#c6c7c9" stroke="#8f9093" stroke-width="0.8" stroke-linejoin="round"/>
<ellipse cx="845" cy="99.6" rx="3.8" ry="7" transform="rotate(-32 845 99.6)" fill="#aeafb2"/>
<circle cx="803.8" cy="130.6" r="37.6" fill="#fcf1f0" stroke="#9e2125" stroke-width="5.2"/>
<g fill="#cdb4a5" stroke="#8d6c5f" stroke-width="0.8" stroke-linejoin="round">
 <path d="M770.2 129.3C768.4 128 768.6 122 771 115C776 103 789 95.6 803.8 95.6C818.6 95.6 831.6 103 836.6 115C839 122 839.2 128 837.4 129.3C835 130.5 834 126.5 831.5 120.5C827 111 816 106 802 106.4C790 106.8 780 111.5 776 120.5C773.5 126.5 772.6 130.5 770.2 129.3z"/>
 <path d="M770.2 132C768.4 133.3 768.6 139.3 771 146.3C776 158.3 789 165.6 803.8 165.6C818.6 165.6 831.6 158.3 836.6 146.3C839 139.3 839.2 133.3 837.4 132C835 130.8 834 134.5 831 140C827 148.5 818 153.6 803.5 153C792 152.3 781 148 776.5 140.5C773.5 135 772.6 130.8 770.2 132z"/>
</g>
<ellipse cx="803.6" cy="101.2" rx="8" ry="2.8" fill="#b89c8e"/>
<ellipse cx="800.5" cy="157.8" rx="7.5" ry="2.8" transform="rotate(7 800.5 157.8)" fill="#b89c8e"/>
<path d="M742 185.3C747 185.6 751.5 187.2 755 189.7C757.5 191.4 759.5 193 761 194.5" fill="none" stroke="#111" stroke-width="2.3" stroke-linecap="round"/>
<path d="M734.4 185.6C742 183.2 752 184.5 759.5 191.5L762.6 188.3L765.3 197.6L756.6 195L759 192.6C752 186.8 743 185 734.4 186z" fill="#111"/>
<path d="M782.6 192.6C786.5 194.5 790.5 198.5 793 203.5C795.5 208.5 796.6 214.5 796.2 220.6C794.6 217.5 793 214.5 791.2 211C789 206.5 788.2 201.5 786.2 197.5C785.2 195.5 783.8 194 782.6 192.6z" fill="#bbbcbe" stroke="#8e8f92" stroke-width="0.8" stroke-linejoin="round"/>
<ellipse cx="791.4" cy="205.8" rx="1.6" ry="3.4" transform="rotate(-14 791.4 205.8)" fill="#808084"/>
</g>

<g id="kidH"><g transform=""><path d="M106.8 568.2C108.5 569.2 114.3 571.6 117.4 574.1C120.6 576.7 123.7 579.5 125.7 583.6C127.8 587.7 129.1 592.5 129.7 599.0C130.4 605.5 129.9 615.6 129.7 622.7C129.6 629.8 128.9 638.5 128.8 641.7" fill="none" stroke="#a98630" stroke-width="10.6" mask="url(#mKU)"/><path d="M106.8 568.2C108.5 569.2 114.3 571.6 117.4 574.1C120.6 576.7 123.7 579.5 125.7 583.6C127.8 587.7 129.1 592.5 129.7 599.0C130.4 605.5 129.9 615.6 129.7 622.7C129.6 629.8 128.9 638.5 128.8 641.7" fill="none" stroke="#caa443" stroke-width="8.6" mask="url(#mKU)"/><path d="M89.0 499.5C94.1 499.3 100.4 499.9 105.6 501.8C110.7 503.8 116.2 507.4 119.8 511.3C123.3 515.3 125.5 520.8 126.9 525.5C128.3 530.3 128.7 535.8 128.1 539.8C127.5 543.7 125.3 546.7 123.3 549.2C121.4 551.8 118.3 553.5 116.2 555.2C114.1 556.8 111.8 557.0 110.8 559.2C109.7 561.4 109.5 565.1 109.8 568.2C110.2 571.3 111.4 574.9 112.7 577.7C113.9 580.4 116.2 581.6 117.4 584.8C118.6 587.9 119.8 592.3 119.8 596.6C119.8 601.0 119.4 606.1 117.4 610.9C115.4 615.6 112.3 621.3 107.9 625.1C103.6 628.8 97.3 631.8 91.4 633.4C85.4 634.9 78.3 635.5 72.4 634.5C66.5 633.6 60.3 630.6 55.8 627.4C51.3 624.3 48.1 620.3 45.1 615.6C42.2 610.9 39.6 604.9 38.0 599.0C36.5 593.1 35.9 586.4 35.7 580.0C35.4 573.7 35.6 567.4 36.4 561.1C37.2 554.8 38.3 548.1 40.4 542.1C42.5 536.2 45.3 530.5 48.7 525.5C52.1 520.6 56.2 516.3 60.5 512.5C64.9 508.8 70.0 505.2 74.8 503.0C79.5 500.9 83.8 499.7 89.0 499.5z" fill="#d4937d" stroke="#8c4c3d" stroke-width="1"/><path d="M47.5 613.2C48.9 614.8 51.7 619.9 55.8 622.7C60.0 625.5 66.5 628.8 72.4 629.8C78.3 630.8 85.4 630.2 91.4 628.6C97.3 627.0 103.5 624.1 107.9 620.3C112.4 616.6 116.2 608.5 117.9 606.1" fill="none" stroke="#8c4c3d" stroke-width="0.7" opacity="0.7"/><ellipse cx="89.5" cy="540.2" rx="7.1" ry="6.0" fill="#c9a242"/><ellipse cx="100.4" cy="550.4" rx="8.1" ry="6.8" fill="#c9a242"/><ellipse cx="85.4" cy="558.7" rx="6.2" ry="5.2" fill="#c9a242"/><ellipse cx="96.1" cy="572.9" rx="9.0" ry="7.7" fill="#c9a242"/><ellipse cx="108.4" cy="566.3" rx="8.1" ry="6.8" fill="#c9a242"/><ellipse cx="87.1" cy="581.9" rx="6.2" ry="5.2" fill="#c9a242"/><ellipse cx="77.6" cy="569.4" rx="4.3" ry="3.6" fill="#c9a242"/><ellipse cx="105.6" cy="578.9" rx="5.2" ry="4.4" fill="#c9a242"/><path d="M74.3 512.9C77.0 511.3 83.1 508.9 87.7 508.1C92.3 507.3 98.9 506.8 101.9 508.1C104.9 509.4 106.0 513.1 105.6 516.1C105.3 519.2 101.7 523.0 99.7 526.3C97.7 529.6 95.7 535.0 93.6 535.7C91.4 536.3 89.6 532.5 86.9 530.3C84.1 528.1 79.5 524.4 77.0 522.3C74.4 520.2 72.1 519.3 71.6 517.7C71.2 516.2 71.6 514.5 74.3 512.9z" fill="#c97666" stroke="#5d3560" stroke-width="0.8"/><path d="M93.6 535.7L77.2 516.3M93.6 535.7L88.6 512.2M93.6 535.7L100.6 512.2M93.6 535.7L103.8 519.1M93.6 535.7L79.5 524.3M93.6 535.7L74.9 520.4" stroke="#e0a08c" stroke-width="0.7" opacity="0.55" fill="none"/><path d="M107.8 513.8C110.0 511.2 114.1 510.5 116.6 511.7C119.1 512.9 121.4 517.5 122.8 521.1C124.1 524.6 125.1 529.4 124.7 533.1C124.2 536.8 122.6 541.9 120.1 543.3C117.7 544.7 113.2 542.3 109.9 541.7C106.7 541.1 101.7 542.1 100.6 539.8C99.4 537.5 102.0 532.1 103.2 527.8C104.4 523.4 105.6 516.5 107.8 513.8z" fill="#c97666" stroke="#5d3560" stroke-width="0.8"/><path d="M100.6 539.8L106.7 517.7M100.6 539.8L114.2 515.9M100.6 539.8L119.4 523.9M100.6 539.8L121.0 534.1M100.6 539.8L117.2 542.8M100.6 539.8L102.8 529.6" stroke="#e0a08c" stroke-width="0.7" opacity="0.55" fill="none"/><path d="M63.9 517.4C67.3 516.9 70.8 518.5 73.3 520.8C75.8 523.2 77.9 528.1 79.2 531.6C80.4 535.0 82.2 540.0 80.8 541.5C79.4 542.9 75.0 540.9 70.6 540.4C66.2 539.9 58.3 539.5 54.6 538.3C50.8 537.0 48.1 535.4 47.9 532.9C47.6 530.4 50.5 526.1 53.2 523.5C55.9 520.9 60.6 517.8 63.9 517.4z" fill="#c97666" stroke="#5d3560" stroke-width="0.8"/><path d="M80.8 541.5L66.5 521.0M80.8 541.5L74.4 523.9M80.8 541.5L58.5 538.7M80.8 541.5L52.8 534.2M80.8 541.5L57.4 526.2" stroke="#e0a08c" stroke-width="0.7" opacity="0.55" fill="none"/><path d="M43.7 545.7C46.4 543.3 51.8 543.1 55.8 543.5C59.8 544.0 64.4 546.4 67.8 548.4C71.3 550.3 76.9 552.8 76.7 555.1C76.5 557.3 70.4 559.7 66.5 561.7C62.6 563.8 56.9 566.5 53.1 567.6C49.3 568.8 46.0 570.1 43.7 568.4C41.5 566.8 39.7 561.5 39.7 557.7C39.7 553.9 41.1 548.0 43.7 545.7z" fill="#c97666" stroke="#5d3560" stroke-width="0.8"/><path d="M76.7 555.1L48.7 547.1M76.7 555.1L58.9 545.3M76.7 555.1L68.0 560.7M76.7 555.1L56.7 565.8M76.7 555.1L48.7 566.4M76.7 555.1L45.3 557.3" stroke="#e0a08c" stroke-width="0.7" opacity="0.55" fill="none"/><path d="M44.9 570.1C47.6 568.1 51.3 568.1 56.1 568.8C60.9 569.5 71.7 571.5 73.5 574.2C75.3 576.8 69.5 580.8 66.8 584.9C64.1 588.9 60.6 595.1 57.4 598.3C54.3 601.4 50.8 604.5 48.1 603.6C45.4 602.7 42.8 596.7 41.4 592.9C40.0 589.1 38.9 584.6 39.5 580.8C40.1 577.1 42.1 572.1 44.9 570.1z" fill="#c97666" stroke="#5d3560" stroke-width="0.8"/><path d="M73.5 574.2L49.2 570.7M73.5 574.2L58.7 569.6M73.5 574.2L67.8 583.3M73.5 574.2L59.9 594.6M73.5 574.2L51.9 599.2M73.5 574.2L46.2 590.1M73.5 574.2L44.6 579.8" stroke="#e0a08c" stroke-width="0.7" opacity="0.55" fill="none"/><path d="M56.4 603.0C57.6 599.0 62.2 593.4 65.8 590.1C69.5 586.9 75.6 582.6 78.4 583.4C81.2 584.3 81.9 590.4 82.7 595.5C83.5 600.6 83.8 609.9 83.2 614.2C82.6 618.6 81.9 620.6 79.2 621.7C76.5 622.9 70.5 622.2 67.2 620.9C63.8 619.7 60.9 617.2 59.1 614.2C57.3 611.2 55.3 607.0 56.4 603.0z" fill="#c97666" stroke="#5d3560" stroke-width="0.8"/><path d="M78.4 583.4L59.7 600.1M78.4 583.4L67.7 589.1M78.4 583.4L82.0 593.7M78.4 583.4L82.5 609.6M78.4 583.4L79.1 616.0M78.4 583.4L68.8 615.3M78.4 583.4L62.0 609.6" stroke="#e0a08c" stroke-width="0.7" opacity="0.55" fill="none"/><path d="M87.4 590.4C89.4 587.3 93.0 587.9 96.0 587.7C99.0 587.5 102.6 586.8 105.4 589.0C108.1 591.3 112.1 597.3 112.6 601.1C113.0 604.9 110.8 608.2 108.0 611.8C105.3 615.4 99.7 621.2 96.0 622.5C92.3 623.8 87.8 622.5 85.8 619.8C83.8 617.2 83.7 611.4 83.9 606.4C84.2 601.5 85.4 593.5 87.4 590.4z" fill="#c97666" stroke="#5d3560" stroke-width="0.8"/><path d="M96.0 587.7L110.1 599.1M96.0 587.7L106.2 608.2M96.0 587.7L96.0 617.3M96.0 587.7L87.3 615.0M96.0 587.7L85.7 603.6" stroke="#e0a08c" stroke-width="0.7" opacity="0.55" fill="none"/><path d="M74.3 512.9L72.0 512.3M76.3 511.9L74.3 510.8M78.8 510.8L76.4 507.6M81.8 509.7L79.7 507.4M84.8 508.7L83.6 507.3M87.7 508.1L86.7 504.0M90.6 507.7L90.4 506.5M93.8 507.4L94.1 504.6M96.9 507.3L99.1 505.2M99.7 507.5L102.1 506.0M101.9 508.1L104.2 505.8M103.4 509.2L104.4 507.9M104.6 510.6L106.6 509.0M105.3 512.4L108.4 511.3M105.7 514.3L107.9 512.2M105.6 516.1L109.5 516.3M105.1 518.0L107.8 517.0M104.0 520.1L107.1 520.6M102.6 522.2L107.0 522.4M101.1 524.3L104.3 525.5M99.7 526.3L103.3 528.2M98.5 528.5L99.8 531.3M97.3 530.8L99.7 532.8M96.1 533.0L96.7 534.1M94.8 534.8L97.0 535.9M93.6 535.7L94.7 537.7M92.3 535.6L93.6 538.1M91.1 534.7L92.2 536.6M89.8 533.4L89.4 537.5M88.4 531.8L88.9 533.8M86.9 530.3L87.2 532.6M85.0 528.8L84.3 532.2M82.9 527.1L81.6 528.9M80.8 525.4L77.9 527.8M78.7 523.7L75.5 524.5M77.0 522.3L74.5 523.7M75.5 521.2L73.5 521.9M74.1 520.2L71.5 520.7M73.0 519.4L70.5 519.7M72.1 518.6L70.5 518.5M71.6 517.7L69.8 517.8M71.5 516.8L69.3 516.8M71.6 515.8L69.4 515.7M72.1 514.9L70.3 514.2M72.9 513.9L70.3 512.9M107.8 513.8L107.7 510.3M109.3 512.5L109.0 508.7M111.1 511.6L110.9 508.3M113.1 511.2L113.6 508.5M115.0 511.2L114.5 508.8M116.6 511.7L117.4 507.8M118.1 512.8L118.4 510.2M119.5 514.5L119.9 511.5M120.8 516.6L122.0 514.1M121.9 518.8L124.2 517.2M122.8 521.1L124.5 520.4M123.5 523.3L124.9 521.1M124.2 525.8L126.7 525.8M124.6 528.3L127.9 528.4M124.8 530.8L126.7 531.4M124.7 533.1L129.0 533.9M124.2 535.5L126.4 536.6M123.6 537.9L125.2 540.6M122.6 540.2L124.2 541.5M121.5 542.0L123.3 546.0M120.1 543.3L121.0 546.7M118.4 543.7L119.0 547.3M116.4 543.5L116.9 545.8M114.2 542.9L114.0 546.9M112.0 542.2L111.9 545.4M109.9 541.7L108.6 543.4M107.8 541.5L105.9 544.2M105.5 541.5L104.1 543.5M103.4 541.3L100.9 543.3M100.6 539.8L98.7 541.4M100.3 538.1L97.8 538.7M100.7 535.8L99.0 537.6M101.5 533.2L100.2 534.3M102.4 530.5L99.4 531.6M103.2 527.8L100.4 526.7M104.0 524.9L102.3 524.7M104.7 521.8L102.1 520.7M105.6 518.7L102.7 516.5M106.6 515.9L105.0 514.1M63.9 517.4L62.7 515.7M65.9 517.3L66.4 515.8M67.9 517.7L69.6 513.7M69.9 518.5L70.5 516.4M71.7 519.5L72.5 518.2M73.3 520.8L74.9 518.1M74.8 522.5L76.2 520.9M76.1 524.6L77.0 523.6M77.3 527.0L80.0 525.8M78.3 529.4L81.3 528.7M79.2 531.6L81.6 531.9M80.0 533.8L83.5 534.6M80.7 536.1L83.1 537.4M81.2 538.3L83.1 539.1M81.3 540.2L83.5 542.2M77.9 541.9L79.7 542.5M75.7 541.4L77.3 544.0M73.2 540.9L75.3 542.8M70.6 540.4L70.9 544.0M67.6 540.1L67.4 544.0M64.2 539.8L63.0 542.5M60.6 539.4L59.1 541.8M57.3 538.9L54.7 541.6M54.6 538.3L51.6 540.3M52.4 537.5L49.9 538.8M50.6 536.5L47.8 536.5M49.2 535.5L45.7 535.5M48.3 534.3L46.3 534.8M47.9 532.9L44.3 532.5M48.1 531.2L45.3 530.7M48.9 529.3L46.1 528.7M50.1 527.2L47.8 527.6M51.6 525.3L50.0 524.4M53.2 523.5L51.7 522.8M55.0 521.9L53.5 519.2M57.2 520.4L54.9 517.7M59.5 519.0L59.2 516.3M61.8 517.9L60.6 515.2M43.7 545.7L41.6 544.5M45.6 544.5L43.4 540.8M48.0 543.8L47.4 540.7M50.6 543.4L50.4 540.5M53.3 543.4L52.0 539.8M55.8 543.5L54.9 540.3M58.3 544.0L57.9 541.5M60.8 544.9L60.9 544.0M63.3 546.0L64.6 543.9M65.6 547.2L66.8 545.8M67.8 548.4L71.1 545.9M70.1 549.6L72.0 548.6M66.5 561.7L69.0 564.1M64.0 563.1L65.7 564.8M61.2 564.4L62.0 566.7M58.3 565.7L58.8 567.0M55.6 566.8L54.7 569.7M53.1 567.6L51.7 569.9M50.9 568.3L49.6 570.0M48.8 568.9L47.2 571.9M46.9 569.2L45.2 572.1M45.2 569.1L44.1 572.4M43.7 568.4L41.8 570.8M42.5 567.1L39.7 567.7M41.4 565.1L39.7 565.5M40.5 562.7L37.5 562.6M39.9 560.1L37.6 561.9M39.7 557.7L36.2 557.8M39.9 555.2L36.4 555.7M40.4 552.5L36.4 551.3M41.2 549.9L38.1 549.0M42.3 547.5L40.2 545.5M44.9 570.1L43.3 568.1M46.6 569.2L46.3 565.7M48.6 568.6L47.5 567.6M50.9 568.4L50.7 566.4M53.4 568.5L52.8 565.5M56.1 568.8L56.3 565.0M59.6 569.4L60.1 566.5M63.8 570.2L66.1 567.4M70.8 580.1L74.2 579.1M68.7 582.5L71.2 581.5M66.8 584.9L69.9 585.7M65.1 587.5L68.6 587.3M63.3 590.4L65.8 591.4M61.3 593.3L62.1 595.0M59.4 596.0L61.0 599.3M57.4 598.3L59.2 601.7M55.5 600.1L56.5 602.8M53.6 601.7L53.6 603.4M51.6 603.0L51.2 606.5M49.8 603.7L48.8 606.9M48.1 603.6L46.4 607.1M46.5 602.5L45.9 606.1M45.0 600.5L43.7 602.6M43.6 598.0L41.0 601.2M42.4 595.4L39.6 596.6M41.4 592.9L39.6 595.2M40.6 590.6L37.5 592.1M39.9 588.1L36.6 588.6M39.5 585.6L36.6 586.7M39.3 583.2L37.4 582.4M39.5 580.8L37.7 580.8M40.0 578.5L36.9 577.5M40.8 576.0L37.4 574.9M42.0 573.7L38.6 571.6M43.3 571.7L41.6 569.3M56.4 603.0L53.7 602.9M57.5 600.4L55.6 600.1M59.2 597.7L57.7 596.8M61.3 594.9L60.0 592.4M63.5 592.3L61.9 589.7M65.8 590.1L65.3 588.7M68.3 588.1L68.3 585.2M71.0 586.1L71.8 583.9M73.8 584.5L73.3 581.9M76.4 583.5L76.8 580.8M80.9 586.6L81.6 583.7M81.6 589.3L83.0 587.4M82.2 592.4L84.9 588.7M82.7 595.5L85.6 593.1M83.1 599.0L85.3 598.2M83.4 603.1L85.6 602.9M83.5 607.2L87.0 607.3M83.5 611.1L86.7 611.8M83.2 614.2L85.4 615.0M82.8 616.6L84.3 619.3M82.3 618.4L84.8 619.8M81.6 619.9L82.6 622.4M80.6 620.9L81.1 623.1M79.2 621.7L79.6 624.7M77.2 622.2L78.1 623.7M74.8 622.3L75.8 624.3M72.1 622.1L72.7 625.0M69.4 621.6L69.3 623.8M67.2 620.9L67.1 624.2M65.2 620.0L64.6 623.4M63.4 618.9L62.4 621.3M61.8 617.5L61.0 619.9M60.3 616.0L57.9 617.5M59.1 614.2L55.8 615.4M58.0 612.3L56.0 614.7M57.1 610.1L54.0 612.1M56.4 607.8L52.7 609.0M56.1 605.4L51.6 605.3M87.4 590.4L86.5 588.8M88.8 588.9L87.8 586.0M97.8 587.5L97.2 584.2M99.8 587.4L100.2 585.4M101.7 587.5L102.5 585.3M103.6 588.0L104.2 585.8M105.4 589.0L106.8 586.7M107.1 590.8L109.6 589.2M109.0 593.1L110.2 590.6M110.6 595.8L112.7 595.1M111.9 598.6L114.5 598.4M112.6 601.1L117.2 600.1M112.6 603.3L115.4 603.7M112.0 605.5L114.6 605.5M111.0 607.6L114.4 607.9M109.6 609.7L112.3 610.6M108.0 611.8L108.9 612.6M106.1 614.2L108.1 616.5M103.7 616.7L104.7 620.0M101.0 619.2L102.0 621.0M98.4 621.2L98.6 624.2M96.0 622.5L95.0 625.9M93.7 623.0L92.5 626.4M91.4 622.9L89.5 625.1M89.2 622.3L88.2 624.6M87.3 621.3L84.8 623.4M85.8 619.8L83.8 622.4M84.8 617.9L82.9 619.7M84.2 615.4L80.9 617.2M83.9 612.5L80.9 614.4M83.8 609.5L80.5 609.8M83.9 606.4L82.4 606.2M84.2 603.2L80.8 603.3M84.7 599.6L81.1 598.9M85.4 596.0L82.6 595.1M86.3 592.8L84.4 590.8" stroke="#6b3346" stroke-width="0.45" fill="none"/><g mask="url(#mKV)"><path d="M148.2 571.3C144.3 571.3 130.4 571.4 124.5 571.3C118.7 571.2 115.0 570.9 113.2 570.8" fill="none" stroke="#4a5bbf" stroke-width="5.4" stroke-linecap="round" stroke-linejoin="round" mask="url(#mKV2)"/><path d="M115.0 570.8C113.5 570.6 108.7 570.3 105.6 569.9C102.4 569.4 97.7 568.5 96.1 568.2" fill="none" stroke="#4a5bbf" stroke-width="3.0" stroke-linecap="round" stroke-linejoin="round"/><path d="M107.9 570.1C106.4 568.6 101.0 564.6 98.5 561.1C95.9 557.6 94.4 553.4 92.5 549.2C90.6 545.1 88.9 540.2 87.1 536.2C85.3 532.3 83.8 529.3 81.9 525.5C79.9 521.8 76.3 515.7 75.2 513.7" fill="none" stroke="#4a5bbf" stroke-width="1.7" stroke-linecap="round" stroke-linejoin="round"/><path d="M96.1 568.2C94.1 567.7 88.0 566.9 84.2 565.4C80.5 563.8 77.5 561.8 73.6 558.7C69.6 555.6 64.3 549.8 60.5 546.9C56.8 543.9 52.6 541.9 51.1 540.9" fill="none" stroke="#4a5bbf" stroke-width="1.4" stroke-linecap="round" stroke-linejoin="round"/><path d="M98.5 569.4C96.9 571.0 91.4 575.1 89.0 578.9C86.6 582.6 85.2 587.0 84.2 591.9C83.3 596.8 83.5 603.9 83.1 608.5C82.7 613.0 82.1 617.4 81.9 619.1" fill="none" stroke="#4a5bbf" stroke-width="1.6" stroke-linecap="round" stroke-linejoin="round"/><path d="M92.5 549.2C93.9 547.9 98.9 544.9 100.8 540.9C102.8 537.0 103.4 529.9 104.4 525.5C105.4 521.2 106.4 516.7 106.8 514.9" fill="none" stroke="#4a5bbf" stroke-width="1.2" stroke-linecap="round" stroke-linejoin="round"/><path d="M84.2 565.4C82.3 566.0 77.1 568.7 72.4 569.4C67.7 570.1 60.5 569.4 55.8 569.4C51.1 569.4 45.9 569.4 44.0 569.4" fill="none" stroke="#4a5bbf" stroke-width="1.4" stroke-linecap="round" stroke-linejoin="round"/><path d="M89.0 578.9C87.0 579.7 81.5 581.0 77.1 583.6C72.8 586.2 66.5 590.9 62.9 594.3C59.4 597.6 57.0 602.2 55.8 603.7" fill="none" stroke="#4a5bbf" stroke-width="1.4" stroke-linecap="round" stroke-linejoin="round"/><path d="M96.1 537.4C97.7 537.6 101.6 537.6 105.6 538.6C109.5 539.6 117.4 542.5 119.8 543.3" fill="none" stroke="#4a5bbf" stroke-width="1.2" stroke-linecap="round" stroke-linejoin="round"/><path d="M157.7 561.1C154.1 561.1 141.7 561.2 136.4 561.1C131.0 561.0 127.5 560.5 125.7 560.4" fill="none" stroke="#b2272b" stroke-width="5.2" stroke-linecap="round" stroke-linejoin="round"/><path d="M126.9 560.4C125.7 560.2 121.8 559.9 119.8 559.4C117.8 559.0 115.8 557.9 115.0 557.5" fill="none" stroke="#b2272b" stroke-width="3.4" stroke-linecap="round" stroke-linejoin="round"/><path d="M119.8 560.1C117.8 558.8 111.7 555.3 107.9 552.1C104.2 548.9 100.1 544.2 97.3 540.9C94.4 537.7 92.7 534.4 90.9 532.7C89.0 530.9 86.9 530.7 86.1 530.3" fill="none" stroke="#b2272b" stroke-width="2.6" stroke-linecap="round" stroke-linejoin="round"/><path d="M117.4 559.2C115.0 559.5 107.9 561.4 103.2 561.1C98.5 560.8 93.5 559.0 89.0 557.5C84.4 556.0 79.1 553.5 75.9 552.1C72.8 550.7 71.0 549.7 70.0 549.2" fill="none" stroke="#b2272b" stroke-width="2.6" stroke-linecap="round" stroke-linejoin="round"/><path d="M115.0 561.1C113.1 562.3 107.1 566.4 103.2 568.2C99.2 570.0 95.5 571.6 91.4 571.8C87.2 572.0 82.1 569.2 78.3 569.4C74.6 569.6 70.4 572.3 68.8 572.9" fill="none" stroke="#b2272b" stroke-width="2.2" stroke-linecap="round" stroke-linejoin="round"/><path d="M103.2 568.2C101.6 570.4 96.4 577.7 93.7 581.2C91.0 584.8 88.7 587.4 87.1 589.5C85.5 591.7 84.7 593.5 84.2 594.3" fill="none" stroke="#b2272b" stroke-width="1.8" stroke-linecap="round" stroke-linejoin="round"/><path d="M75.9 552.1C73.8 550.2 66.7 543.2 62.9 540.9C59.2 538.7 56.4 539.6 53.4 538.6C50.5 537.6 46.5 535.6 45.1 535.0" fill="none" stroke="#b2272b" stroke-width="1.1" stroke-linecap="round" stroke-linejoin="round"/><path d="M70.0 549.2C68.4 548.6 64.1 546.7 60.5 545.7C57.0 544.7 52.3 542.7 48.7 543.3C45.1 543.9 41.4 547.7 39.2 549.2C37.0 550.8 36.3 552.2 35.7 552.8" fill="none" stroke="#b2272b" stroke-width="1.0" stroke-linecap="round" stroke-linejoin="round"/><path d="M78.3 569.4C75.8 569.2 67.9 568.4 62.9 568.2C58.0 568.0 52.3 567.8 48.7 568.2C45.1 568.6 42.8 570.2 41.6 570.6" fill="none" stroke="#b2272b" stroke-width="1.0" stroke-linecap="round" stroke-linejoin="round"/><path d="M68.8 572.9C67.5 574.9 62.3 580.8 60.5 584.8C58.8 588.7 57.6 592.7 58.2 596.6C58.8 600.6 61.3 605.3 64.1 608.5C66.9 611.6 73.0 614.4 74.8 615.6" fill="none" stroke="#b2272b" stroke-width="1.1" stroke-linecap="round" stroke-linejoin="round"/><path d="M60.5 584.8C59.0 584.0 53.8 580.0 51.1 580.0C48.3 580.0 45.1 584.0 44.0 584.8" fill="none" stroke="#b2272b" stroke-width="0.8" stroke-linecap="round" stroke-linejoin="round"/><path d="M62.9 580.0C63.5 582.4 65.3 589.5 66.5 594.3C67.7 599.0 68.8 605.3 70.0 608.5C71.2 611.6 73.0 612.4 73.6 613.2" fill="none" stroke="#b2272b" stroke-width="0.9" stroke-linecap="round" stroke-linejoin="round"/><path d="M53.4 538.6C54.2 537.2 56.0 532.5 58.2 530.3C60.3 528.1 64.1 525.2 66.5 525.5C68.8 525.9 71.4 531.5 72.4 532.7" fill="none" stroke="#b2272b" stroke-width="0.8" stroke-linecap="round" stroke-linejoin="round"/><path d="M48.7 543.3C48.5 545.9 46.7 554.6 47.5 558.7C48.3 562.9 52.4 566.6 53.4 568.2" fill="none" stroke="#b2272b" stroke-width="0.8" stroke-linecap="round" stroke-linejoin="round"/><path d="M97.3 540.9C98.3 539.6 101.8 536.0 103.2 532.7C104.6 529.3 105.2 522.8 105.6 520.8" fill="none" stroke="#b2272b" stroke-width="0.9" stroke-linecap="round" stroke-linejoin="round"/><path d="M87.1 589.5C88.6 589.3 92.6 587.6 96.1 588.3C99.6 589.1 105.0 592.1 107.9 594.3C110.9 596.4 112.9 600.2 113.9 601.4" fill="none" stroke="#b2272b" stroke-width="0.9" stroke-linecap="round" stroke-linejoin="round"/><path d="M60.5 545.7C59.8 546.7 58.0 549.8 55.8 551.6C53.6 553.4 48.9 555.6 47.5 556.4" fill="none" stroke="#b2272b" stroke-width="0.7" stroke-linecap="round" stroke-linejoin="round"/></g><ellipse cx="80.0" cy="539.3" rx="2.6" ry="1.8" fill="#7a3a36"/><ellipse cx="74.8" cy="553.5" rx="2.6" ry="1.8" fill="#7a3a36"/><ellipse cx="71.4" cy="564.6" rx="2.6" ry="1.8" fill="#7a3a36"/><ellipse cx="73.6" cy="581.2" rx="2.6" ry="1.8" fill="#7a3a36"/></g></g>
<g id="kidD"><g transform="translate(437.54 32.17) scale(0.9645 0.96)"><path d="M106.8 568.2C108.5 569.2 114.3 571.6 117.4 574.1C120.6 576.7 123.7 579.5 125.7 583.6C127.8 587.7 129.1 592.5 129.7 599.0C130.4 605.5 129.9 615.6 129.7 622.7C129.6 629.8 128.9 638.5 128.8 641.7" fill="none" stroke="#d9b29d" stroke-width="10.6" mask="url(#mKU)"/><path d="M106.8 568.2C108.5 569.2 114.3 571.6 117.4 574.1C120.6 576.7 123.7 579.5 125.7 583.6C127.8 587.7 129.1 592.5 129.7 599.0C130.4 605.5 129.9 615.6 129.7 622.7C129.6 629.8 128.9 638.5 128.8 641.7" fill="none" stroke="#f0d8c5" stroke-width="8.6" mask="url(#mKU)"/><path d="M89.0 499.5C94.1 499.3 100.4 499.9 105.6 501.8C110.7 503.8 116.2 507.4 119.8 511.3C123.3 515.3 125.5 520.8 126.9 525.5C128.3 530.3 128.7 535.8 128.1 539.8C127.5 543.7 125.3 546.7 123.3 549.2C121.4 551.8 118.3 553.5 116.2 555.2C114.1 556.8 111.8 557.0 110.8 559.2C109.7 561.4 109.5 565.1 109.8 568.2C110.2 571.3 111.4 574.9 112.7 577.7C113.9 580.4 116.2 581.6 117.4 584.8C118.6 587.9 119.8 592.3 119.8 596.6C119.8 601.0 119.4 606.1 117.4 610.9C115.4 615.6 112.3 621.3 107.9 625.1C103.6 628.8 97.3 631.8 91.4 633.4C85.4 634.9 78.3 635.5 72.4 634.5C66.5 633.6 60.3 630.6 55.8 627.4C51.3 624.3 48.1 620.3 45.1 615.6C42.2 610.9 39.6 604.9 38.0 599.0C36.5 593.1 35.9 586.4 35.7 580.0C35.4 573.7 35.6 567.4 36.4 561.1C37.2 554.8 38.3 548.1 40.4 542.1C42.5 536.2 45.3 530.5 48.7 525.5C52.1 520.6 56.2 516.3 60.5 512.5C64.9 508.8 70.0 505.2 74.8 503.0C79.5 500.9 83.8 499.7 89.0 499.5z" fill="#f0dac8" stroke="#c9a48f" stroke-width="1"/><path d="M47.5 613.2C48.9 614.8 51.7 619.9 55.8 622.7C60.0 625.5 66.5 628.8 72.4 629.8C78.3 630.8 85.4 630.2 91.4 628.6C97.3 627.0 103.5 624.1 107.9 620.3C112.4 616.6 116.2 608.5 117.9 606.1" fill="none" stroke="#c9a48f" stroke-width="0.7" opacity="0.7"/><ellipse cx="89.5" cy="540.2" rx="7.1" ry="6.0" fill="#f0dac8"/><ellipse cx="100.4" cy="550.4" rx="8.1" ry="6.8" fill="#f0dac8"/><ellipse cx="85.4" cy="558.7" rx="6.2" ry="5.2" fill="#f0dac8"/><ellipse cx="96.1" cy="572.9" rx="9.0" ry="7.7" fill="#f0dac8"/><ellipse cx="108.4" cy="566.3" rx="8.1" ry="6.8" fill="#f0dac8"/><ellipse cx="87.1" cy="581.9" rx="6.2" ry="5.2" fill="#f0dac8"/><ellipse cx="77.6" cy="569.4" rx="4.3" ry="3.6" fill="#f0dac8"/><ellipse cx="105.6" cy="578.9" rx="5.2" ry="4.4" fill="#f0dac8"/><path d="M74.3 512.9C77.0 511.3 83.1 508.9 87.7 508.1C92.3 507.3 98.9 506.8 101.9 508.1C104.9 509.4 106.0 513.1 105.6 516.1C105.3 519.2 101.7 523.0 99.7 526.3C97.7 529.6 95.7 535.0 93.6 535.7C91.4 536.3 89.6 532.5 86.9 530.3C84.1 528.1 79.5 524.4 77.0 522.3C74.4 520.2 72.1 519.3 71.6 517.7C71.2 516.2 71.6 514.5 74.3 512.9z" fill="#e6c9b3" stroke="#b6847a" stroke-width="1.3"/><path d="M93.6 535.7L77.2 516.3M93.6 535.7L88.6 512.2M93.6 535.7L100.6 512.2M93.6 535.7L103.8 519.1M93.6 535.7L79.5 524.3M93.6 535.7L74.9 520.4" stroke="#f3e2d2" stroke-width="0.7" opacity="0.55" fill="none"/><path d="M107.8 513.8C110.0 511.2 114.1 510.5 116.6 511.7C119.1 512.9 121.4 517.5 122.8 521.1C124.1 524.6 125.1 529.4 124.7 533.1C124.2 536.8 122.6 541.9 120.1 543.3C117.7 544.7 113.2 542.3 109.9 541.7C106.7 541.1 101.7 542.1 100.6 539.8C99.4 537.5 102.0 532.1 103.2 527.8C104.4 523.4 105.6 516.5 107.8 513.8z" fill="#e6c9b3" stroke="#b6847a" stroke-width="1.3"/><path d="M100.6 539.8L106.7 517.7M100.6 539.8L114.2 515.9M100.6 539.8L119.4 523.9M100.6 539.8L121.0 534.1M100.6 539.8L117.2 542.8M100.6 539.8L102.8 529.6" stroke="#f3e2d2" stroke-width="0.7" opacity="0.55" fill="none"/><path d="M63.9 517.4C67.3 516.9 70.8 518.5 73.3 520.8C75.8 523.2 77.9 528.1 79.2 531.6C80.4 535.0 82.2 540.0 80.8 541.5C79.4 542.9 75.0 540.9 70.6 540.4C66.2 539.9 58.3 539.5 54.6 538.3C50.8 537.0 48.1 535.4 47.9 532.9C47.6 530.4 50.5 526.1 53.2 523.5C55.9 520.9 60.6 517.8 63.9 517.4z" fill="#e6c9b3" stroke="#b6847a" stroke-width="1.3"/><path d="M80.8 541.5L66.5 521.0M80.8 541.5L74.4 523.9M80.8 541.5L58.5 538.7M80.8 541.5L52.8 534.2M80.8 541.5L57.4 526.2" stroke="#f3e2d2" stroke-width="0.7" opacity="0.55" fill="none"/><path d="M43.7 545.7C46.4 543.3 51.8 543.1 55.8 543.5C59.8 544.0 64.4 546.4 67.8 548.4C71.3 550.3 76.9 552.8 76.7 555.1C76.5 557.3 70.4 559.7 66.5 561.7C62.6 563.8 56.9 566.5 53.1 567.6C49.3 568.8 46.0 570.1 43.7 568.4C41.5 566.8 39.7 561.5 39.7 557.7C39.7 553.9 41.1 548.0 43.7 545.7z" fill="#e6c9b3" stroke="#b6847a" stroke-width="1.3"/><path d="M76.7 555.1L48.7 547.1M76.7 555.1L58.9 545.3M76.7 555.1L68.0 560.7M76.7 555.1L56.7 565.8M76.7 555.1L48.7 566.4M76.7 555.1L45.3 557.3" stroke="#f3e2d2" stroke-width="0.7" opacity="0.55" fill="none"/><path d="M44.9 570.1C47.6 568.1 51.3 568.1 56.1 568.8C60.9 569.5 71.7 571.5 73.5 574.2C75.3 576.8 69.5 580.8 66.8 584.9C64.1 588.9 60.6 595.1 57.4 598.3C54.3 601.4 50.8 604.5 48.1 603.6C45.4 602.7 42.8 596.7 41.4 592.9C40.0 589.1 38.9 584.6 39.5 580.8C40.1 577.1 42.1 572.1 44.9 570.1z" fill="#e6c9b3" stroke="#b6847a" stroke-width="1.3"/><path d="M73.5 574.2L49.2 570.7M73.5 574.2L58.7 569.6M73.5 574.2L67.8 583.3M73.5 574.2L59.9 594.6M73.5 574.2L51.9 599.2M73.5 574.2L46.2 590.1M73.5 574.2L44.6 579.8" stroke="#f3e2d2" stroke-width="0.7" opacity="0.55" fill="none"/><path d="M56.4 603.0C57.6 599.0 62.2 593.4 65.8 590.1C69.5 586.9 75.6 582.6 78.4 583.4C81.2 584.3 81.9 590.4 82.7 595.5C83.5 600.6 83.8 609.9 83.2 614.2C82.6 618.6 81.9 620.6 79.2 621.7C76.5 622.9 70.5 622.2 67.2 620.9C63.8 619.7 60.9 617.2 59.1 614.2C57.3 611.2 55.3 607.0 56.4 603.0z" fill="#e6c9b3" stroke="#b6847a" stroke-width="1.3"/><path d="M78.4 583.4L59.7 600.1M78.4 583.4L67.7 589.1M78.4 583.4L82.0 593.7M78.4 583.4L82.5 609.6M78.4 583.4L79.1 616.0M78.4 583.4L68.8 615.3M78.4 583.4L62.0 609.6" stroke="#f3e2d2" stroke-width="0.7" opacity="0.55" fill="none"/><path d="M87.4 590.4C89.4 587.3 93.0 587.9 96.0 587.7C99.0 587.5 102.6 586.8 105.4 589.0C108.1 591.3 112.1 597.3 112.6 601.1C113.0 604.9 110.8 608.2 108.0 611.8C105.3 615.4 99.7 621.2 96.0 622.5C92.3 623.8 87.8 622.5 85.8 619.8C83.8 617.2 83.7 611.4 83.9 606.4C84.2 601.5 85.4 593.5 87.4 590.4z" fill="#e6c9b3" stroke="#b6847a" stroke-width="1.3"/><path d="M96.0 587.7L110.1 599.1M96.0 587.7L106.2 608.2M96.0 587.7L96.0 617.3M96.0 587.7L87.3 615.0M96.0 587.7L85.7 603.6" stroke="#f3e2d2" stroke-width="0.7" opacity="0.55" fill="none"/><path d="M74.3 512.9L72.0 512.3M76.3 511.9L74.3 510.8M78.8 510.8L76.4 507.6M81.8 509.7L79.7 507.4M84.8 508.7L83.6 507.3M87.7 508.1L86.7 504.0M90.6 507.7L90.4 506.5M93.8 507.4L94.1 504.6M96.9 507.3L99.1 505.2M99.7 507.5L102.1 506.0M101.9 508.1L104.2 505.8M103.4 509.2L104.4 507.9M104.6 510.6L106.6 509.0M105.3 512.4L108.4 511.3M105.7 514.3L107.9 512.2M105.6 516.1L109.5 516.3M105.1 518.0L107.8 517.0M104.0 520.1L107.1 520.6M102.6 522.2L107.0 522.4M101.1 524.3L104.3 525.5M99.7 526.3L103.3 528.2M98.5 528.5L99.8 531.3M97.3 530.8L99.7 532.8M96.1 533.0L96.7 534.1M94.8 534.8L97.0 535.9M93.6 535.7L94.7 537.7M92.3 535.6L93.6 538.1M91.1 534.7L92.2 536.6M89.8 533.4L89.4 537.5M88.4 531.8L88.9 533.8M86.9 530.3L87.2 532.6M85.0 528.8L84.3 532.2M82.9 527.1L81.6 528.9M80.8 525.4L77.9 527.8M78.7 523.7L75.5 524.5M77.0 522.3L74.5 523.7M75.5 521.2L73.5 521.9M74.1 520.2L71.5 520.7M73.0 519.4L70.5 519.7M72.1 518.6L70.5 518.5M71.6 517.7L69.8 517.8M71.5 516.8L69.3 516.8M71.6 515.8L69.4 515.7M72.1 514.9L70.3 514.2M72.9 513.9L70.3 512.9M107.8 513.8L107.7 510.3M109.3 512.5L109.0 508.7M111.1 511.6L110.9 508.3M113.1 511.2L113.6 508.5M115.0 511.2L114.5 508.8M116.6 511.7L117.4 507.8M118.1 512.8L118.4 510.2M119.5 514.5L119.9 511.5M120.8 516.6L122.0 514.1M121.9 518.8L124.2 517.2M122.8 521.1L124.5 520.4M123.5 523.3L124.9 521.1M124.2 525.8L126.7 525.8M124.6 528.3L127.9 528.4M124.8 530.8L126.7 531.4M124.7 533.1L129.0 533.9M124.2 535.5L126.4 536.6M123.6 537.9L125.2 540.6M122.6 540.2L124.2 541.5M121.5 542.0L123.3 546.0M120.1 543.3L121.0 546.7M118.4 543.7L119.0 547.3M116.4 543.5L116.9 545.8M114.2 542.9L114.0 546.9M112.0 542.2L111.9 545.4M109.9 541.7L108.6 543.4M107.8 541.5L105.9 544.2M105.5 541.5L104.1 543.5M103.4 541.3L100.9 543.3M100.6 539.8L98.7 541.4M100.3 538.1L97.8 538.7M100.7 535.8L99.0 537.6M101.5 533.2L100.2 534.3M102.4 530.5L99.4 531.6M103.2 527.8L100.4 526.7M104.0 524.9L102.3 524.7M104.7 521.8L102.1 520.7M105.6 518.7L102.7 516.5M106.6 515.9L105.0 514.1M63.9 517.4L62.7 515.7M65.9 517.3L66.4 515.8M67.9 517.7L69.6 513.7M69.9 518.5L70.5 516.4M71.7 519.5L72.5 518.2M73.3 520.8L74.9 518.1M74.8 522.5L76.2 520.9M76.1 524.6L77.0 523.6M77.3 527.0L80.0 525.8M78.3 529.4L81.3 528.7M79.2 531.6L81.6 531.9M80.0 533.8L83.5 534.6M80.7 536.1L83.1 537.4M81.2 538.3L83.1 539.1M81.3 540.2L83.5 542.2M77.9 541.9L79.7 542.5M75.7 541.4L77.3 544.0M73.2 540.9L75.3 542.8M70.6 540.4L70.9 544.0M67.6 540.1L67.4 544.0M64.2 539.8L63.0 542.5M60.6 539.4L59.1 541.8M57.3 538.9L54.7 541.6M54.6 538.3L51.6 540.3M52.4 537.5L49.9 538.8M50.6 536.5L47.8 536.5M49.2 535.5L45.7 535.5M48.3 534.3L46.3 534.8M47.9 532.9L44.3 532.5M48.1 531.2L45.3 530.7M48.9 529.3L46.1 528.7M50.1 527.2L47.8 527.6M51.6 525.3L50.0 524.4M53.2 523.5L51.7 522.8M55.0 521.9L53.5 519.2M57.2 520.4L54.9 517.7M59.5 519.0L59.2 516.3M61.8 517.9L60.6 515.2M43.7 545.7L41.6 544.5M45.6 544.5L43.4 540.8M48.0 543.8L47.4 540.7M50.6 543.4L50.4 540.5M53.3 543.4L52.0 539.8M55.8 543.5L54.9 540.3M58.3 544.0L57.9 541.5M60.8 544.9L60.9 544.0M63.3 546.0L64.6 543.9M65.6 547.2L66.8 545.8M67.8 548.4L71.1 545.9M70.1 549.6L72.0 548.6M66.5 561.7L69.0 564.1M64.0 563.1L65.7 564.8M61.2 564.4L62.0 566.7M58.3 565.7L58.8 567.0M55.6 566.8L54.7 569.7M53.1 567.6L51.7 569.9M50.9 568.3L49.6 570.0M48.8 568.9L47.2 571.9M46.9 569.2L45.2 572.1M45.2 569.1L44.1 572.4M43.7 568.4L41.8 570.8M42.5 567.1L39.7 567.7M41.4 565.1L39.7 565.5M40.5 562.7L37.5 562.6M39.9 560.1L37.6 561.9M39.7 557.7L36.2 557.8M39.9 555.2L36.4 555.7M40.4 552.5L36.4 551.3M41.2 549.9L38.1 549.0M42.3 547.5L40.2 545.5M44.9 570.1L43.3 568.1M46.6 569.2L46.3 565.7M48.6 568.6L47.5 567.6M50.9 568.4L50.7 566.4M53.4 568.5L52.8 565.5M56.1 568.8L56.3 565.0M59.6 569.4L60.1 566.5M63.8 570.2L66.1 567.4M70.8 580.1L74.2 579.1M68.7 582.5L71.2 581.5M66.8 584.9L69.9 585.7M65.1 587.5L68.6 587.3M63.3 590.4L65.8 591.4M61.3 593.3L62.1 595.0M59.4 596.0L61.0 599.3M57.4 598.3L59.2 601.7M55.5 600.1L56.5 602.8M53.6 601.7L53.6 603.4M51.6 603.0L51.2 606.5M49.8 603.7L48.8 606.9M48.1 603.6L46.4 607.1M46.5 602.5L45.9 606.1M45.0 600.5L43.7 602.6M43.6 598.0L41.0 601.2M42.4 595.4L39.6 596.6M41.4 592.9L39.6 595.2M40.6 590.6L37.5 592.1M39.9 588.1L36.6 588.6M39.5 585.6L36.6 586.7M39.3 583.2L37.4 582.4M39.5 580.8L37.7 580.8M40.0 578.5L36.9 577.5M40.8 576.0L37.4 574.9M42.0 573.7L38.6 571.6M43.3 571.7L41.6 569.3M56.4 603.0L53.7 602.9M57.5 600.4L55.6 600.1M59.2 597.7L57.7 596.8M61.3 594.9L60.0 592.4M63.5 592.3L61.9 589.7M65.8 590.1L65.3 588.7M68.3 588.1L68.3 585.2M71.0 586.1L71.8 583.9M73.8 584.5L73.3 581.9M76.4 583.5L76.8 580.8M80.9 586.6L81.6 583.7M81.6 589.3L83.0 587.4M82.2 592.4L84.9 588.7M82.7 595.5L85.6 593.1M83.1 599.0L85.3 598.2M83.4 603.1L85.6 602.9M83.5 607.2L87.0 607.3M83.5 611.1L86.7 611.8M83.2 614.2L85.4 615.0M82.8 616.6L84.3 619.3M82.3 618.4L84.8 619.8M81.6 619.9L82.6 622.4M80.6 620.9L81.1 623.1M79.2 621.7L79.6 624.7M77.2 622.2L78.1 623.7M74.8 622.3L75.8 624.3M72.1 622.1L72.7 625.0M69.4 621.6L69.3 623.8M67.2 620.9L67.1 624.2M65.2 620.0L64.6 623.4M63.4 618.9L62.4 621.3M61.8 617.5L61.0 619.9M60.3 616.0L57.9 617.5M59.1 614.2L55.8 615.4M58.0 612.3L56.0 614.7M57.1 610.1L54.0 612.1M56.4 607.8L52.7 609.0M56.1 605.4L51.6 605.3M87.4 590.4L86.5 588.8M88.8 588.9L87.8 586.0M97.8 587.5L97.2 584.2M99.8 587.4L100.2 585.4M101.7 587.5L102.5 585.3M103.6 588.0L104.2 585.8M105.4 589.0L106.8 586.7M107.1 590.8L109.6 589.2M109.0 593.1L110.2 590.6M110.6 595.8L112.7 595.1M111.9 598.6L114.5 598.4M112.6 601.1L117.2 600.1M112.6 603.3L115.4 603.7M112.0 605.5L114.6 605.5M111.0 607.6L114.4 607.9M109.6 609.7L112.3 610.6M108.0 611.8L108.9 612.6M106.1 614.2L108.1 616.5M103.7 616.7L104.7 620.0M101.0 619.2L102.0 621.0M98.4 621.2L98.6 624.2M96.0 622.5L95.0 625.9M93.7 623.0L92.5 626.4M91.4 622.9L89.5 625.1M89.2 622.3L88.2 624.6M87.3 621.3L84.8 623.4M85.8 619.8L83.8 622.4M84.8 617.9L82.9 619.7M84.2 615.4L80.9 617.2M83.9 612.5L80.9 614.4M83.8 609.5L80.5 609.8M83.9 606.4L82.4 606.2M84.2 603.2L80.8 603.3M84.7 599.6L81.1 598.9M85.4 596.0L82.6 595.1M86.3 592.8L84.4 590.8" stroke="#9c7a7a" stroke-width="0.45" fill="none"/><g mask="url(#mKV)"><path d="M148.2 571.3C144.3 571.3 130.4 571.4 124.5 571.3C118.7 571.2 115.0 570.9 113.2 570.8" fill="none" stroke="#dcc3e3" stroke-width="7.29" stroke-linecap="round" stroke-linejoin="round" mask="url(#mKV2)"/><path d="M115.0 570.8C113.5 570.6 108.7 570.3 105.6 569.9C102.4 569.4 97.7 568.5 96.1 568.2" fill="none" stroke="#dcc3e3" stroke-width="4.05" stroke-linecap="round" stroke-linejoin="round"/><path d="M107.9 570.1C106.4 568.6 101.0 564.6 98.5 561.1C95.9 557.6 94.4 553.4 92.5 549.2C90.6 545.1 88.9 540.2 87.1 536.2C85.3 532.3 83.8 529.3 81.9 525.5C79.9 521.8 76.3 515.7 75.2 513.7" fill="none" stroke="#dcc3e3" stroke-width="2.29" stroke-linecap="round" stroke-linejoin="round"/><path d="M96.1 568.2C94.1 567.7 88.0 566.9 84.2 565.4C80.5 563.8 77.5 561.8 73.6 558.7C69.6 555.6 64.3 549.8 60.5 546.9C56.8 543.9 52.6 541.9 51.1 540.9" fill="none" stroke="#dcc3e3" stroke-width="1.89" stroke-linecap="round" stroke-linejoin="round"/><path d="M98.5 569.4C96.9 571.0 91.4 575.1 89.0 578.9C86.6 582.6 85.2 587.0 84.2 591.9C83.3 596.8 83.5 603.9 83.1 608.5C82.7 613.0 82.1 617.4 81.9 619.1" fill="none" stroke="#dcc3e3" stroke-width="2.16" stroke-linecap="round" stroke-linejoin="round"/><path d="M92.5 549.2C93.9 547.9 98.9 544.9 100.8 540.9C102.8 537.0 103.4 529.9 104.4 525.5C105.4 521.2 106.4 516.7 106.8 514.9" fill="none" stroke="#dcc3e3" stroke-width="1.62" stroke-linecap="round" stroke-linejoin="round"/><path d="M84.2 565.4C82.3 566.0 77.1 568.7 72.4 569.4C67.7 570.1 60.5 569.4 55.8 569.4C51.1 569.4 45.9 569.4 44.0 569.4" fill="none" stroke="#dcc3e3" stroke-width="1.89" stroke-linecap="round" stroke-linejoin="round"/><path d="M89.0 578.9C87.0 579.7 81.5 581.0 77.1 583.6C72.8 586.2 66.5 590.9 62.9 594.3C59.4 597.6 57.0 602.2 55.8 603.7" fill="none" stroke="#dcc3e3" stroke-width="1.89" stroke-linecap="round" stroke-linejoin="round"/><path d="M96.1 537.4C97.7 537.6 101.6 537.6 105.6 538.6C109.5 539.6 117.4 542.5 119.8 543.3" fill="none" stroke="#dcc3e3" stroke-width="1.62" stroke-linecap="round" stroke-linejoin="round"/><path d="M157.7 561.1C154.1 561.1 141.7 561.2 136.4 561.1C131.0 561.0 127.5 560.5 125.7 560.4" fill="none" stroke="#dfa998" stroke-width="7.02" stroke-linecap="round" stroke-linejoin="round"/><path d="M126.9 560.4C125.7 560.2 121.8 559.9 119.8 559.4C117.8 559.0 115.8 557.9 115.0 557.5" fill="none" stroke="#dfa998" stroke-width="4.59" stroke-linecap="round" stroke-linejoin="round"/><path d="M119.8 560.1C117.8 558.8 111.7 555.3 107.9 552.1C104.2 548.9 100.1 544.2 97.3 540.9C94.4 537.7 92.7 534.4 90.9 532.7C89.0 530.9 86.9 530.7 86.1 530.3" fill="none" stroke="#dfa998" stroke-width="3.51" stroke-linecap="round" stroke-linejoin="round"/><path d="M117.4 559.2C115.0 559.5 107.9 561.4 103.2 561.1C98.5 560.8 93.5 559.0 89.0 557.5C84.4 556.0 79.1 553.5 75.9 552.1C72.8 550.7 71.0 549.7 70.0 549.2" fill="none" stroke="#dfa998" stroke-width="3.51" stroke-linecap="round" stroke-linejoin="round"/><path d="M115.0 561.1C113.1 562.3 107.1 566.4 103.2 568.2C99.2 570.0 95.5 571.6 91.4 571.8C87.2 572.0 82.1 569.2 78.3 569.4C74.6 569.6 70.4 572.3 68.8 572.9" fill="none" stroke="#dfa998" stroke-width="2.97" stroke-linecap="round" stroke-linejoin="round"/><path d="M103.2 568.2C101.6 570.4 96.4 577.7 93.7 581.2C91.0 584.8 88.7 587.4 87.1 589.5C85.5 591.7 84.7 593.5 84.2 594.3" fill="none" stroke="#dfa998" stroke-width="2.43" stroke-linecap="round" stroke-linejoin="round"/><path d="M75.9 552.1C73.8 550.2 66.7 543.2 62.9 540.9C59.2 538.7 56.4 539.6 53.4 538.6C50.5 537.6 46.5 535.6 45.1 535.0" fill="none" stroke="#dfa998" stroke-width="1.49" stroke-linecap="round" stroke-linejoin="round"/><path d="M70.0 549.2C68.4 548.6 64.1 546.7 60.5 545.7C57.0 544.7 52.3 542.7 48.7 543.3C45.1 543.9 41.4 547.7 39.2 549.2C37.0 550.8 36.3 552.2 35.7 552.8" fill="none" stroke="#dfa998" stroke-width="1.35" stroke-linecap="round" stroke-linejoin="round"/><path d="M78.3 569.4C75.8 569.2 67.9 568.4 62.9 568.2C58.0 568.0 52.3 567.8 48.7 568.2C45.1 568.6 42.8 570.2 41.6 570.6" fill="none" stroke="#dfa998" stroke-width="1.35" stroke-linecap="round" stroke-linejoin="round"/><path d="M68.8 572.9C67.5 574.9 62.3 580.8 60.5 584.8C58.8 588.7 57.6 592.7 58.2 596.6C58.8 600.6 61.3 605.3 64.1 608.5C66.9 611.6 73.0 614.4 74.8 615.6" fill="none" stroke="#dfa998" stroke-width="1.49" stroke-linecap="round" stroke-linejoin="round"/><path d="M60.5 584.8C59.0 584.0 53.8 580.0 51.1 580.0C48.3 580.0 45.1 584.0 44.0 584.8" fill="none" stroke="#dfa998" stroke-width="1.08" stroke-linecap="round" stroke-linejoin="round"/><path d="M62.9 580.0C63.5 582.4 65.3 589.5 66.5 594.3C67.7 599.0 68.8 605.3 70.0 608.5C71.2 611.6 73.0 612.4 73.6 613.2" fill="none" stroke="#dfa998" stroke-width="1.22" stroke-linecap="round" stroke-linejoin="round"/><path d="M53.4 538.6C54.2 537.2 56.0 532.5 58.2 530.3C60.3 528.1 64.1 525.2 66.5 525.5C68.8 525.9 71.4 531.5 72.4 532.7" fill="none" stroke="#dfa998" stroke-width="1.08" stroke-linecap="round" stroke-linejoin="round"/><path d="M48.7 543.3C48.5 545.9 46.7 554.6 47.5 558.7C48.3 562.9 52.4 566.6 53.4 568.2" fill="none" stroke="#dfa998" stroke-width="1.08" stroke-linecap="round" stroke-linejoin="round"/><path d="M97.3 540.9C98.3 539.6 101.8 536.0 103.2 532.7C104.6 529.3 105.2 522.8 105.6 520.8" fill="none" stroke="#dfa998" stroke-width="1.22" stroke-linecap="round" stroke-linejoin="round"/><path d="M87.1 589.5C88.6 589.3 92.6 587.6 96.1 588.3C99.6 589.1 105.0 592.1 107.9 594.3C110.9 596.4 112.9 600.2 113.9 601.4" fill="none" stroke="#dfa998" stroke-width="1.22" stroke-linecap="round" stroke-linejoin="round"/><path d="M60.5 545.7C59.8 546.7 58.0 549.8 55.8 551.6C53.6 553.4 48.9 555.6 47.5 556.4" fill="none" stroke="#dfa998" stroke-width="0.94" stroke-linecap="round" stroke-linejoin="round"/></g><ellipse cx="80.0" cy="539.3" rx="2.6" ry="1.8" fill="#c59a8c"/><ellipse cx="74.8" cy="553.5" rx="2.6" ry="1.8" fill="#c59a8c"/><ellipse cx="71.4" cy="564.6" rx="2.6" ry="1.8" fill="#c59a8c"/><ellipse cx="73.6" cy="581.2" rx="2.6" ry="1.8" fill="#c59a8c"/><path d="M87.8 518.4L85.7 518.8L84.7 519.6L85.7 516.1M89.3 516.4l-2.9 2.0M72.4 527.9L70.5 525.8L74.4 525.6L77.1 525.4M73.9 525.9l0.8 -2.1M60.5 535.0L61.6 538.0L61.8 539.9L63.2 536.4M62.0 533.0l1.5 0.5M53.4 558.7L51.8 555.0L54.8 554.8L56.5 557.8M54.9 556.7l1.3 2.5M54.6 580.0L53.8 582.5L53.3 585.9L56.4 582.7M56.1 578.0l-2.2 -1.7M72.4 584.8L76.1 584.3L77.1 582.7L77.2 581.8M73.9 582.8l-0.9 0.5M73.6 606.1L74.3 609.3L75.7 612.8L78.6 616.7M75.1 604.1l1.0 -2.0M91.4 612.0L94.2 615.8L97.5 616.3L99.2 614.0M92.9 610.0l2.0 0.4M106.8 613.2L105.0 609.7L107.9 613.6L104.6 616.1M108.3 611.2l-0.5 -2.1M103.2 582.4L101.6 584.6L104.5 580.9L105.4 577.3M104.7 580.4l1.3 -1.0M128.1 601.4L131.1 605.2L131.2 609.2L129.6 605.8M129.6 599.4l0.6 -2.8M93.7 530.3L91.3 529.5L92.2 526.8L88.5 529.7M95.2 528.3l-1.1 2.8M81.9 551.6L85.0 550.6L84.7 550.8L85.9 551.6M83.4 549.6l0.4 0.7M89.0 561.1L92.5 561.1L92.0 562.9L89.9 561.3M90.5 559.1l2.9 0.1M96.1 580.0L96.5 576.1L95.8 576.8L92.0 577.7M97.6 578.0l0.8 -2.6" stroke="#1a1a1a" stroke-width="0.6" fill="none" stroke-linejoin="round"/><path d="M93.7 531.5C94.1 533.0 96.3 537.8 96.1 540.9C95.9 544.1 95.1 549.6 92.5 550.4C90.0 551.2 83.5 543.9 80.7 545.7C77.9 547.5 78.9 557.7 75.9 561.1C73.0 564.4 65.1 565.0 62.9 565.8" fill="none" stroke="#111" stroke-width="0.7" stroke-linecap="round" stroke-linejoin="round"/><path d="M96.1 540.9C96.5 543.1 99.6 552.6 98.5 554.0C97.3 555.4 90.9 548.5 89.0 549.2C87.1 550.0 87.4 557.1 87.1 558.7" fill="none" stroke="#111" stroke-width="0.7" stroke-linecap="round" stroke-linejoin="round"/><path d="M78.3 590.7C79.5 590.5 82.9 591.7 85.4 589.5C88.0 587.4 91.9 577.3 93.7 577.7C95.5 578.1 94.5 590.9 96.1 591.9C97.7 592.9 102.0 585.0 103.2 583.6" fill="none" stroke="#111" stroke-width="0.7" stroke-linecap="round" stroke-linejoin="round"/><path d="M83.1 561.1C82.3 562.3 78.1 566.4 78.3 568.2C78.5 570.0 83.3 571.2 84.2 571.8" fill="none" stroke="#111" stroke-width="0.6" stroke-linecap="round" stroke-linejoin="round"/><path d="M53.4 568.2C54.6 567.7 58.2 567.1 60.5 565.4C62.9 563.6 65.5 559.4 67.7 557.5C69.8 555.6 72.6 554.6 73.6 554.0" fill="none" stroke="#111" stroke-width="0.7" stroke-linecap="round" stroke-linejoin="round"/><path d="M75.9 595.5C77.1 594.9 81.1 593.7 83.1 591.9C85.0 590.1 86.6 586.8 87.8 584.8C89.0 582.8 89.8 580.8 90.2 580.0" fill="none" stroke="#111" stroke-width="0.7" stroke-linecap="round" stroke-linejoin="round"/><path d="M41.6 583.6C42.6 583.5 46.9 582.5 47.5 582.9C48.1 583.3 45.5 585.5 45.1 586.0" fill="none" stroke="#111" stroke-width="0.6" stroke-linecap="round" stroke-linejoin="round"/><path d="M60.5 525.5C60.9 526.3 61.9 529.9 62.9 530.3C63.9 530.7 65.9 528.3 66.5 527.9" fill="none" stroke="#111" stroke-width="0.6" stroke-linecap="round" stroke-linejoin="round"/><path d="M80.7 512.5C80.3 513.1 77.9 515.2 78.3 516.1C78.7 517.0 82.3 517.6 83.1 518.0" fill="none" stroke="#111" stroke-width="0.6" stroke-linecap="round" stroke-linejoin="round"/><path d="M60.5 609.7C61.5 609.9 64.9 611.7 66.5 611.3C68.0 610.9 69.4 608.0 70.0 607.3" fill="none" stroke="#111" stroke-width="0.6" stroke-linecap="round" stroke-linejoin="round"/><path d="M85.4 615.6C86.2 615.2 89.8 614.4 90.2 613.2C90.6 612.0 88.2 609.3 87.8 608.5" fill="none" stroke="#111" stroke-width="0.6" stroke-linecap="round" stroke-linejoin="round"/><path d="M98.5 619.1C99.2 618.8 102.2 618.0 103.2 616.8C104.2 615.6 104.2 612.8 104.4 612.0" fill="none" stroke="#111" stroke-width="0.6" stroke-linecap="round" stroke-linejoin="round"/><path d="M91.4 594.3C92.5 593.9 96.3 591.7 98.5 591.9C100.6 592.1 102.6 595.1 104.4 595.5C106.2 595.8 108.3 594.5 109.1 594.3" fill="none" stroke="#111" stroke-width="0.6" stroke-linecap="round" stroke-linejoin="round"/><path d="M47.5 535.0C47.7 535.8 47.9 538.8 48.7 539.8C49.5 540.8 51.7 540.8 52.3 540.9" fill="none" stroke="#111" stroke-width="0.6" stroke-linecap="round" stroke-linejoin="round"/><path d="M40.4 558.7C41.2 559.1 44.7 560.1 45.1 561.1C45.5 562.1 43.2 564.1 42.8 564.6" fill="none" stroke="#111" stroke-width="0.6" stroke-linecap="round" stroke-linejoin="round"/></g></g>

<g id="watH"><ellipse cx="265.5" cy="566.6" rx="55" ry="52" fill="#d9c9a8" opacity="0.75"/><path d="M236.8 529.8C236.8 533.3 234.2 537.6 231.6 540.3C229.0 543.0 224.6 546.0 221.1 546.0C217.6 546.0 213.3 542.9 210.7 540.2C208.1 537.5 205.8 533.6 205.5 529.8C205.2 526.0 206.1 519.8 208.7 517.4C211.3 515.1 217.3 515.4 221.1 515.6C224.9 515.9 229.1 516.8 231.7 519.2C234.3 521.5 236.8 526.3 236.8 529.8z" fill="#d9c9a8" opacity="0.6" stroke="#c9b99a" stroke-width="0.5"/><path d="M291.0 514.3C291.0 518.0 289.8 523.2 287.3 525.7C284.8 528.1 279.8 528.9 275.9 529.1C272.0 529.2 266.2 529.0 263.7 526.5C261.1 524.1 260.7 518.3 260.9 514.3C261.0 510.3 261.9 505.7 264.4 502.8C266.9 499.8 272.1 496.5 275.9 496.6C279.7 496.6 284.5 500.3 287.0 503.2C289.5 506.2 290.9 510.6 291.0 514.3z" fill="#d9c9a8" opacity="0.6" stroke="#c9b99a" stroke-width="0.5"/><path d="M330.4 526.1C330.3 529.9 325.1 534.1 321.8 537.2C318.6 540.3 314.6 544.5 310.7 544.7C306.8 544.9 301.5 541.6 298.3 538.5C295.0 535.4 291.2 530.2 291.2 526.1C291.2 522.0 295.3 517.1 298.5 513.9C301.8 510.7 306.8 506.6 310.7 506.7C314.6 506.8 318.9 511.4 322.2 514.6C325.4 517.9 330.4 522.3 330.4 526.1z" fill="#d9c9a8" opacity="0.6" stroke="#c9b99a" stroke-width="0.5"/><path d="M269.7 534.7C269.8 539.3 268.2 545.7 265.1 548.6C262.0 551.6 255.7 552.6 251.2 552.5C246.7 552.4 241.1 551.0 237.8 548.1C234.5 545.1 231.2 539.1 231.3 534.7C231.4 530.3 235.1 525.1 238.4 521.9C241.7 518.7 246.8 515.8 251.2 515.7C255.6 515.6 261.5 518.1 264.6 521.3C267.7 524.4 269.6 530.1 269.7 534.7z" fill="#d9c9a8" opacity="0.6" stroke="#c9b99a" stroke-width="0.5"/><path d="M305.3 542.2C305.1 546.7 300.0 551.5 296.4 554.8C292.8 558.1 288.2 561.8 283.8 562.0C279.4 562.2 273.6 559.3 270.0 556.0C266.4 552.7 262.0 546.7 262.1 542.2C262.1 537.7 266.7 532.0 270.4 528.8C274.0 525.5 279.2 523.0 283.8 522.9C288.4 522.8 294.3 524.9 297.9 528.1C301.5 531.3 305.5 537.7 305.3 542.2z" fill="#d9c9a8" opacity="0.6" stroke="#c9b99a" stroke-width="0.5"/><path d="M327.7 556.6C328.0 560.4 328.2 566.3 325.9 568.6C323.6 571.0 317.8 570.8 313.9 570.7C310.0 570.6 305.2 570.4 302.4 568.1C299.6 565.7 297.3 560.4 297.3 556.6C297.3 552.8 299.6 547.5 302.4 545.1C305.2 542.7 310.2 541.8 313.9 542.0C317.6 542.1 322.1 543.7 324.4 546.1C326.7 548.6 327.5 552.8 327.7 556.6z" fill="#d9c9a8" opacity="0.6" stroke="#c9b99a" stroke-width="0.5"/><path d="M245.9 560.9C246.1 565.0 242.1 570.8 238.8 573.8C235.5 576.8 230.2 578.8 225.9 578.8C221.6 578.8 216.3 576.7 213.1 573.7C209.9 570.7 207.0 565.4 206.7 560.9C206.5 556.4 208.5 549.6 211.7 546.7C214.9 543.7 221.5 542.9 225.9 543.2C230.3 543.6 234.5 546.1 237.8 549.0C241.1 551.9 245.7 556.8 245.9 560.9z" fill="#d9c9a8" opacity="0.6" stroke="#c9b99a" stroke-width="0.5"/><path d="M275.6 565.2C275.6 569.8 275.2 576.1 272.4 578.9C269.6 581.7 263.2 582.0 258.7 582.0C254.2 581.9 248.8 581.4 245.2 578.7C241.7 575.9 237.5 569.6 237.6 565.2C237.7 560.8 242.4 556.0 246.0 552.5C249.5 548.9 254.3 544.3 258.7 544.1C263.1 543.9 269.7 547.8 272.5 551.4C275.4 554.9 275.6 560.6 275.6 565.2z" fill="#d9c9a8" opacity="0.6" stroke="#c9b99a" stroke-width="0.5"/><path d="M311.4 574.9C311.3 579.0 307.8 583.9 304.6 587.1C301.5 590.3 296.9 593.7 292.4 594.1C287.9 594.5 280.6 592.7 277.8 589.5C275.1 586.3 275.6 579.5 275.8 574.9C276.1 570.3 276.6 564.9 279.4 561.9C282.2 558.9 288.2 556.9 292.4 557.0C296.6 557.0 301.7 559.4 304.9 562.4C308.0 565.4 311.4 570.8 311.4 574.9z" fill="#d9c9a8" opacity="0.6" stroke="#c9b99a" stroke-width="0.5"/><path d="M335.1 585.6C335.5 589.1 335.2 594.6 332.8 597.4C330.4 600.2 324.5 602.7 321.0 602.3C317.5 601.9 314.3 597.9 311.5 595.1C308.8 592.3 304.9 589.1 304.6 585.6C304.3 582.1 307.0 577.0 309.8 574.4C312.5 571.7 317.6 569.5 321.0 569.8C324.4 570.1 328.1 573.5 330.4 576.2C332.8 578.8 334.7 582.1 335.1 585.6z" fill="#d9c9a8" opacity="0.6" stroke="#c9b99a" stroke-width="0.5"/><path d="M224.8 585.8C224.7 589.5 223.7 594.3 221.3 596.7C218.9 599.1 214.1 600.0 210.4 600.1C206.7 600.2 201.4 599.7 198.9 597.3C196.4 594.9 195.2 589.4 195.4 585.8C195.6 582.2 197.6 578.3 200.1 575.5C202.6 572.8 206.8 569.4 210.4 569.2C214.0 569.0 219.4 571.6 221.8 574.4C224.2 577.1 224.9 582.1 224.8 585.8z" fill="#d9c9a8" opacity="0.6" stroke="#c9b99a" stroke-width="0.5"/><path d="M256.5 592.0C256.6 595.9 254.5 601.0 251.8 604.0C249.0 606.9 243.7 610.0 239.8 609.9C235.9 609.8 231.2 606.3 228.5 603.3C225.9 600.3 224.0 595.9 223.8 592.0C223.7 588.1 224.8 582.4 227.5 579.7C230.1 576.9 235.8 575.2 239.8 575.4C243.8 575.5 248.4 577.8 251.2 580.6C254.0 583.4 256.4 588.1 256.5 592.0z" fill="#d9c9a8" opacity="0.6" stroke="#c9b99a" stroke-width="0.5"/><path d="M285.6 595.9C285.5 599.4 281.4 603.2 278.6 606.1C275.7 609.0 271.8 613.2 268.4 613.3C265.0 613.3 260.6 609.1 258.1 606.2C255.5 603.3 253.2 599.6 252.9 595.9C252.6 592.2 253.7 586.3 256.3 583.8C258.9 581.3 264.5 580.7 268.4 580.8C272.3 581.0 276.6 582.3 279.5 584.8C282.3 587.4 285.8 592.4 285.6 595.9z" fill="#d9c9a8" opacity="0.6" stroke="#c9b99a" stroke-width="0.5"/><path d="M315.1 608.1C315.1 612.2 312.3 617.2 309.2 620.6C306.1 624.0 301.0 628.4 296.7 628.5C292.4 628.6 286.4 624.6 283.6 621.2C280.8 617.8 280.1 612.6 279.9 608.1C279.8 603.6 280.0 596.9 282.8 594.2C285.6 591.4 292.3 591.1 296.7 591.4C301.1 591.7 305.9 593.1 308.9 595.9C312.0 598.7 315.0 604.0 315.1 608.1z" fill="#d9c9a8" opacity="0.6" stroke="#c9b99a" stroke-width="0.5"/><path d="M265.1 618.9C265.1 622.6 263.6 627.5 261.1 629.9C258.6 632.4 253.9 633.5 250.1 633.7C246.3 633.8 240.6 633.1 238.3 630.7C236.1 628.2 236.8 622.9 236.7 618.9C236.7 614.9 235.9 609.6 238.2 607.0C240.4 604.3 246.2 603.0 250.1 603.0C254.0 603.1 259.1 604.8 261.6 607.4C264.1 610.1 265.2 615.2 265.1 618.9z" fill="#d9c9a8" opacity="0.6" stroke="#c9b99a" stroke-width="0.5"/><path d="M211.8 539.3C209.7 537.4 207.9 534.3 207.6 531.5C207.2 528.6 207.9 524.6 209.6 522.1C211.3 519.5 214.7 517.2 217.7 516.3C220.6 515.5 224.6 515.6 227.3 516.8C229.9 518.0 232.2 521.0 233.5 523.7C234.7 526.4 235.6 530.2 234.8 533.0C234.0 535.9 231.3 539.2 228.8 540.8C226.3 542.4 222.6 542.9 219.8 542.7C216.9 542.4 213.8 541.2 211.8 539.3z" fill="url(#adi)" stroke="#9c6f3a" stroke-width="1.0"/><ellipse cx="215.8" cy="523.5" rx="4.6" ry="1.7" transform="rotate(-35 215.8 523.5)" fill="#fbeec0" opacity="0.85"/><ellipse cx="230.3" cy="537.0" rx="2.2" ry="1.4" transform="rotate(130 230.3 537.0)" fill="#8a5a2a" opacity="0.75"/><path d="M289.3 519.8C288.2 522.5 285.1 524.8 282.3 526.3C279.5 527.9 275.8 529.5 272.7 529.0C269.7 528.5 265.8 525.9 263.9 523.4C262.1 520.8 261.5 516.8 261.7 513.6C261.9 510.5 263.0 506.6 265.0 504.5C267.1 502.4 271.0 501.1 274.0 500.8C277.0 500.6 280.7 501.3 283.2 502.9C285.7 504.4 288.1 507.4 289.1 510.2C290.1 513.0 290.4 517.1 289.3 519.8z" fill="url(#adi)" stroke="#9c6f3a" stroke-width="1.0"/><ellipse cx="270.5" cy="507.8" rx="4.7" ry="1.7" transform="rotate(-35 270.5 507.8)" fill="#fbeec0" opacity="0.85"/><ellipse cx="282.0" cy="504.3" rx="2.3" ry="1.4" transform="rotate(389 282.0 504.3)" fill="#8a5a2a" opacity="0.75"/><path d="M310.1 541.0C307.1 541.1 303.0 540.1 300.8 537.9C298.6 535.8 297.5 531.6 297.1 528.1C296.7 524.7 296.7 520.4 298.2 517.5C299.8 514.6 303.3 511.9 306.3 510.9C309.3 510.0 313.2 510.5 316.1 511.8C319.0 513.1 322.2 515.7 323.7 518.6C325.1 521.6 325.7 526.3 324.9 529.4C324.1 532.6 321.4 535.8 318.9 537.7C316.4 539.7 313.1 541.0 310.1 541.0z" fill="url(#adi)" stroke="#9c6f3a" stroke-width="1.0"/><ellipse cx="304.7" cy="519.0" rx="5.2" ry="1.9" transform="rotate(-35 304.7 519.0)" fill="#fbeec0" opacity="0.85"/><ellipse cx="313.6" cy="513.8" rx="2.5" ry="1.6" transform="rotate(372 313.6 513.8)" fill="#8a5a2a" opacity="0.75"/><path d="M245.4 550.8C242.4 549.8 239.8 546.1 238.2 543.0C236.7 539.9 235.6 535.8 236.2 532.3C236.8 528.9 239.1 524.6 241.7 522.4C244.2 520.3 248.5 519.4 251.6 519.4C254.7 519.5 258.0 521.0 260.5 523.0C262.9 525.0 265.6 528.3 266.1 531.4C266.6 534.6 264.9 538.9 263.2 541.8C261.5 544.8 258.8 547.7 255.8 549.2C252.9 550.7 248.3 551.8 245.4 550.8z" fill="url(#adi)" stroke="#9c6f3a" stroke-width="1.0"/><ellipse cx="245.1" cy="527.5" rx="5.3" ry="1.9" transform="rotate(-35 245.1 527.5)" fill="#fbeec0" opacity="0.85"/><ellipse cx="246.6" cy="546.8" rx="2.6" ry="1.6" transform="rotate(200 246.6 546.8)" fill="#8a5a2a" opacity="0.75"/><path d="M272.8 557.2C269.9 555.3 267.3 550.7 266.6 547.0C265.9 543.3 266.7 538.2 268.6 534.9C270.5 531.7 274.4 528.9 277.8 527.4C281.2 525.9 285.4 525.3 288.9 526.1C292.3 526.8 296.4 529.1 298.4 532.0C300.4 534.9 301.7 540.0 301.0 543.5C300.3 547.1 297.0 550.8 294.2 553.3C291.4 555.8 287.9 557.7 284.3 558.4C280.8 559.0 275.8 559.1 272.8 557.2z" fill="url(#adi)" stroke="#9c6f3a" stroke-width="1.0"/><ellipse cx="277.2" cy="534.4" rx="5.8" ry="2.1" transform="rotate(-35 277.2 534.4)" fill="#fbeec0" opacity="0.85"/><ellipse cx="279.6" cy="555.6" rx="2.8" ry="1.7" transform="rotate(196 279.6 555.6)" fill="#8a5a2a" opacity="0.75"/><path d="M324.0 566.9C322.1 568.7 318.4 569.3 315.5 569.4C312.6 569.5 309.0 568.9 306.5 567.3C304.1 565.6 301.4 562.2 300.6 559.4C299.9 556.6 301.0 553.1 302.2 550.6C303.3 548.0 305.3 545.0 307.7 544.0C310.1 543.0 314.0 543.5 316.7 544.5C319.4 545.5 322.1 547.7 323.8 550.1C325.5 552.4 326.6 555.6 326.7 558.5C326.7 561.3 325.9 565.1 324.0 566.9z" fill="url(#adi)" stroke="#9c6f3a" stroke-width="1.0"/><ellipse cx="308.7" cy="550.4" rx="4.5" ry="1.6" transform="rotate(-35 308.7 550.4)" fill="#fbeec0" opacity="0.85"/><ellipse cx="324.1" cy="551.1" rx="2.2" ry="1.4" transform="rotate(420 324.1 551.1)" fill="#8a5a2a" opacity="0.75"/><path d="M216.2 574.3C213.5 572.5 210.6 568.7 210.1 565.5C209.6 562.2 211.7 558.2 213.3 555.0C214.9 551.7 216.9 547.6 219.8 545.9C222.8 544.3 227.8 544.0 230.9 545.0C233.9 546.1 236.3 549.4 238.1 552.3C239.9 555.1 242.0 558.7 241.7 562.0C241.5 565.4 239.1 570.0 236.6 572.2C234.0 574.5 229.8 575.5 226.4 575.8C223.0 576.1 218.9 576.0 216.2 574.3z" fill="url(#adi)" stroke="#9c6f3a" stroke-width="1.0"/><ellipse cx="219.8" cy="553.7" rx="5.3" ry="1.9" transform="rotate(-35 219.8 553.7)" fill="#fbeec0" opacity="0.85"/><ellipse cx="239.5" cy="558.9" rx="2.6" ry="1.6" transform="rotate(441 239.5 558.9)" fill="#8a5a2a" opacity="0.75"/><path d="M267.1 579.1C264.2 580.9 260.3 582.1 256.9 581.6C253.4 581.1 248.8 579.1 246.4 576.3C244.1 573.5 242.6 568.5 242.5 564.9C242.4 561.2 243.9 557.0 246.0 554.4C248.1 551.8 251.9 549.7 255.1 549.3C258.3 548.9 262.2 550.1 265.4 551.8C268.6 553.4 272.7 556.2 274.3 559.5C275.8 562.7 275.6 568.1 274.4 571.3C273.3 574.6 270.1 577.4 267.1 579.1z" fill="url(#adi)" stroke="#9c6f3a" stroke-width="1.0"/><ellipse cx="252.3" cy="557.6" rx="5.6" ry="2.0" transform="rotate(-35 252.3 557.6)" fill="#fbeec0" opacity="0.85"/><ellipse cx="259.5" cy="578.7" rx="2.7" ry="1.7" transform="rotate(177 259.5 578.7)" fill="#8a5a2a" opacity="0.75"/><path d="M297.4 589.8C294.4 591.0 290.1 591.9 287.0 590.7C283.8 589.6 280.0 586.1 278.4 582.8C276.8 579.6 276.8 574.8 277.5 571.3C278.2 567.9 280.3 564.2 282.8 562.2C285.3 560.2 289.2 558.9 292.4 559.2C295.5 559.4 299.2 561.2 301.7 563.5C304.1 565.8 306.3 569.6 306.9 572.9C307.5 576.2 306.8 580.6 305.2 583.4C303.6 586.2 300.5 588.6 297.4 589.8z" fill="url(#adi)" stroke="#9c6f3a" stroke-width="1.0"/><ellipse cx="286.1" cy="567.4" rx="5.5" ry="2.0" transform="rotate(-35 286.1 567.4)" fill="#fbeec0" opacity="0.85"/><ellipse cx="297.6" cy="587.2" rx="2.7" ry="1.7" transform="rotate(158 297.6 587.2)" fill="#8a5a2a" opacity="0.75"/><path d="M307.9 585.7C308.0 582.8 308.9 579.5 310.7 577.3C312.5 575.2 315.8 573.1 318.6 572.7C321.4 572.3 324.8 573.5 327.3 574.9C329.8 576.3 332.5 578.5 333.7 581.1C334.8 583.6 335.5 587.6 334.5 590.3C333.5 592.9 330.5 595.6 327.9 597.0C325.2 598.3 321.6 598.9 318.7 598.5C315.8 598.1 312.1 596.5 310.3 594.4C308.5 592.2 307.9 588.5 307.9 585.7z" fill="url(#adi)" stroke="#9c6f3a" stroke-width="1.0"/><ellipse cx="315.9" cy="579.5" rx="4.4" ry="1.6" transform="rotate(-35 315.9 579.5)" fill="#fbeec0" opacity="0.85"/><ellipse cx="331.4" cy="590.3" rx="2.2" ry="1.3" transform="rotate(116 331.4 590.3)" fill="#8a5a2a" opacity="0.75"/><path d="M196.1 587.0C195.9 584.4 197.8 581.1 199.6 578.9C201.4 576.6 204.2 574.0 206.9 573.3C209.6 572.7 213.4 573.8 216.0 575.0C218.6 576.2 221.5 578.2 222.6 580.5C223.8 582.9 223.7 586.3 223.0 588.8C222.2 591.4 220.4 594.5 218.1 595.9C215.8 597.4 212.0 597.6 209.2 597.4C206.3 597.1 203.1 596.2 200.9 594.5C198.7 592.7 196.4 589.6 196.1 587.0z" fill="url(#adi)" stroke="#9c6f3a" stroke-width="1.0"/><ellipse cx="205.3" cy="579.7" rx="4.4" ry="1.6" transform="rotate(-35 205.3 579.7)" fill="#fbeec0" opacity="0.85"/><ellipse cx="199.1" cy="588.1" rx="2.2" ry="1.3" transform="rotate(257 199.1 588.1)" fill="#8a5a2a" opacity="0.75"/><path d="M255.2 594.1C254.8 596.9 252.0 599.7 249.5 601.8C247.1 603.8 243.7 606.3 240.6 606.4C237.5 606.6 233.4 604.6 230.9 602.7C228.4 600.7 226.3 597.6 225.5 594.7C224.8 591.8 224.9 587.9 226.4 585.4C227.8 583.0 231.3 580.9 234.3 579.9C237.2 579.0 241.0 578.8 244.0 579.6C246.9 580.5 250.2 582.5 252.1 584.9C254.0 587.4 255.6 591.3 255.2 594.1z" fill="url(#adi)" stroke="#9c6f3a" stroke-width="1.0"/><ellipse cx="234.1" cy="585.3" rx="4.9" ry="1.8" transform="rotate(-35 234.1 585.3)" fill="#fbeec0" opacity="0.85"/><ellipse cx="251.0" cy="586.3" rx="2.4" ry="1.5" transform="rotate(421 251.0 586.3)" fill="#8a5a2a" opacity="0.75"/><path d="M267.7 609.8C264.8 609.7 261.0 608.4 258.8 606.4C256.6 604.3 254.9 600.7 254.5 597.7C254.1 594.7 254.9 590.8 256.5 588.2C258.1 585.5 261.2 582.8 264.1 581.9C267.0 580.9 271.3 581.3 273.9 582.6C276.6 583.9 278.8 587.1 280.1 589.8C281.3 592.5 281.9 596.0 281.3 598.8C280.7 601.7 278.9 605.1 276.7 606.9C274.4 608.7 270.7 609.8 267.7 609.8z" fill="url(#adi)" stroke="#9c6f3a" stroke-width="1.0"/><ellipse cx="263.1" cy="589.6" rx="4.6" ry="1.7" transform="rotate(-35 263.1 589.6)" fill="#fbeec0" opacity="0.85"/><ellipse cx="259.1" cy="602.9" rx="2.2" ry="1.4" transform="rotate(231 259.1 602.9)" fill="#8a5a2a" opacity="0.75"/><path d="M293.2 623.2C289.9 622.6 285.5 621.4 283.3 618.7C281.2 616.1 280.0 610.9 280.4 607.4C280.9 603.9 283.6 600.4 286.0 597.7C288.4 595.1 291.7 592.1 294.9 591.6C298.1 591.1 302.1 592.8 305.1 594.6C308.1 596.5 311.6 599.4 312.7 602.8C313.8 606.1 313.5 611.4 311.9 614.7C310.4 617.9 306.7 620.9 303.6 622.3C300.5 623.8 296.6 623.8 293.2 623.2z" fill="url(#adi)" stroke="#9c6f3a" stroke-width="1.0"/><ellipse cx="290.4" cy="600.6" rx="5.5" ry="2.0" transform="rotate(-35 290.4 600.6)" fill="#fbeec0" opacity="0.85"/><ellipse cx="297.0" cy="594.8" rx="2.7" ry="1.7" transform="rotate(361 297.0 594.8)" fill="#8a5a2a" opacity="0.75"/><path d="M238.1 623.9C237.1 621.4 237.2 618.0 238.0 615.2C238.8 612.5 240.4 609.0 242.7 607.5C245.0 606.0 248.9 605.8 251.8 606.2C254.7 606.5 258.4 607.6 260.2 609.7C262.1 611.7 262.7 615.3 262.9 618.2C263.1 621.2 263.1 625.1 261.5 627.5C259.8 629.8 256.0 631.7 253.1 632.2C250.2 632.7 246.5 631.8 244.0 630.4C241.6 629.0 239.1 626.4 238.1 623.9z" fill="url(#adi)" stroke="#9c6f3a" stroke-width="1.0"/><ellipse cx="245.0" cy="612.8" rx="4.4" ry="1.6" transform="rotate(-35 245.0 612.8)" fill="#fbeec0" opacity="0.85"/><ellipse cx="241.7" cy="626.3" rx="2.2" ry="1.3" transform="rotate(227 241.7 626.3)" fill="#8a5a2a" opacity="0.75"/><g opacity="1"><circle cx="272.7" cy="533.6" r="6.2" fill="#a6d0e0" stroke="#6aa5c2" stroke-width="0.5"/><circle cx="272.7" cy="533.6" r="4.1" fill="#79b3ce"/></g><g opacity="1"><circle cx="245.8" cy="574.9" r="6.2" fill="#a6d0e0" stroke="#6aa5c2" stroke-width="0.5"/><circle cx="245.8" cy="574.9" r="4.1" fill="#79b3ce"/></g><g opacity="1"><circle cx="313.4" cy="570.6" r="6.0" fill="#a6d0e0" stroke="#6aa5c2" stroke-width="0.5"/><circle cx="313.4" cy="570.6" r="4.0" fill="#79b3ce"/></g><g opacity="0.7"><circle cx="208.2" cy="568.0" r="5.0" fill="#a6d0e0" stroke="#6aa5c2" stroke-width="0.5"/><circle cx="208.2" cy="568.0" r="3.3" fill="#79b3ce"/></g><g opacity="0.7"><circle cx="279.1" cy="616.3" r="4.8" fill="#a6d0e0" stroke="#6aa5c2" stroke-width="0.5"/><circle cx="279.1" cy="616.3" r="3.2" fill="#79b3ce"/></g><g opacity="1"><circle cx="244.7" cy="553.4" r="6.0" fill="#a2d6b6" stroke="#5aa87c" stroke-width="0.5"/><circle cx="244.7" cy="553.4" r="4.0" fill="#68b78a"/></g><g opacity="1"><circle cx="280.2" cy="558.3" r="6.2" fill="#a2d6b6" stroke="#5aa87c" stroke-width="0.5"/><circle cx="280.2" cy="558.3" r="4.1" fill="#68b78a"/></g><g opacity="0.7"><circle cx="209.3" cy="544.8" r="4.8" fill="#a2d6b6" stroke="#5aa87c" stroke-width="0.5"/><circle cx="209.3" cy="544.8" r="3.2" fill="#68b78a"/></g><g opacity="0.7"><circle cx="231.9" cy="611.6" r="4.6" fill="#a2d6b6" stroke="#5aa87c" stroke-width="0.5"/><circle cx="231.9" cy="611.6" r="3.0" fill="#68b78a"/></g><g opacity="1"><circle cx="258.3" cy="516.0" r="5.5" fill="#ee9bca" stroke="#cf62a4" stroke-width="0.5"/><circle cx="256.8" cy="515.7" r="2.0" fill="#da68ab"/><circle cx="259.9" cy="517.2" r="1.8" fill="#da68ab"/><circle cx="259.0" cy="513.9" r="1.4" fill="#da68ab"/></g><g opacity="1"><circle cx="287.7" cy="593.3" r="5.0" fill="#ee9bca" stroke="#cf62a4" stroke-width="0.5"/><circle cx="286.3" cy="593.0" r="1.8" fill="#da68ab"/><circle cx="289.2" cy="594.4" r="1.6" fill="#da68ab"/><circle cx="288.3" cy="591.4" r="1.3" fill="#da68ab"/></g><g opacity="0.55"><path d="M247.0 516.0L244.7 517.1L245.6 519.3L243.7 519.3L244.3 521.2L242.3 520.3L241.8 522.9L240.4 520.7L239.7 522.0L239.0 520.5L236.4 521.0L237.0 518.9L235.4 518.6L236.3 517.2L234.1 516.6L236.4 515.6L234.3 513.9L237.0 514.0L237.4 511.9L239.0 512.5L238.6 510.6L240.1 512.3L242.3 510.8L242.7 512.9L244.0 511.6L243.7 513.7L245.5 513.5L244.5 515.2z" fill="#bdb9ea" stroke="#9d98da" stroke-width="0.35"/><circle cx="240.5" cy="516.5" r="4.4" fill="url(#cPu)"/></g><g opacity="1"><path d="M297.7 523.5L295.0 524.2L296.3 524.9L294.5 525.3L294.6 528.3L292.5 526.9L292.0 528.8L290.8 527.2L289.3 529.1L288.9 526.7L287.2 527.4L287.5 525.5L285.4 525.6L286.7 523.9L284.1 522.6L286.7 521.8L285.5 519.7L287.8 519.9L287.1 518.3L289.0 519.0L289.1 517.5L290.5 518.6L292.2 517.0L292.7 519.0L295.0 517.5L294.2 520.1L296.6 520.2L295.1 522.0z" fill="#bdb9ea" stroke="#9d98da" stroke-width="0.35"/><circle cx="290.9" cy="522.9" r="4.5" fill="url(#cPu)"/></g><g opacity="1"><path d="M243.0 538.6L240.8 539.8L242.5 541.8L239.9 541.8L240.0 544.0L238.1 543.3L238.5 545.9L236.7 543.7L235.1 545.3L234.4 543.3L231.5 543.8L232.3 541.5L229.9 541.5L231.6 539.7L229.9 538.8L231.7 537.8L229.7 535.7L232.6 536.0L231.8 533.4L234.2 534.8L235.0 532.9L236.4 534.3L238.1 532.3L238.5 534.9L239.9 534.0L239.7 535.9L242.5 536.5L240.8 538.3z" fill="#bdb9ea" stroke="#9d98da" stroke-width="0.35"/><circle cx="236.2" cy="539.0" r="4.9" fill="url(#cPu)"/></g><g opacity="1"><path d="M279.2 578.4L277.5 579.5L278.7 581.4L276.5 581.6L277.4 583.7L275.2 582.9L273.7 586.1L272.3 583.5L270.9 585.1L270.4 582.9L268.5 583.9L268.9 581.7L267.1 581.9L268.1 580.1L265.1 579.1L267.9 577.9L266.2 575.0L269.1 575.4L268.9 573.3L270.9 574.2L270.8 571.8L272.5 573.9L274.7 571.5L275.0 574.4L277.1 574.0L276.7 576.0L279.3 575.7L277.4 577.7z" fill="#bdb9ea" stroke="#9d98da" stroke-width="0.35"/><circle cx="272.7" cy="578.7" r="5.1" fill="url(#cPu)"/></g><g opacity="1"><path d="M234.9 582.1L232.3 583.1L234.3 585.6L231.2 585.1L232.0 588.1L229.5 586.4L229.8 588.5L228.1 586.7L225.4 588.8L225.1 586.1L223.2 586.6L223.6 584.6L221.6 584.8L222.9 583.0L220.5 581.8L222.9 580.8L221.4 579.6L223.5 579.3L222.6 576.2L225.3 577.6L226.5 575.4L227.9 577.1L229.4 575.6L230.0 577.7L231.8 576.9L231.5 579.0L234.0 578.0L232.2 580.4z" fill="#bdb9ea" stroke="#9d98da" stroke-width="0.35"/><circle cx="227.6" cy="581.9" r="5.1" fill="url(#cPu)"/></g><g opacity="1"><path d="M314.2 587.3L311.5 588.2L312.8 589.7L310.7 589.8L311.9 591.9L309.4 590.9L308.6 593.9L307.0 591.6L305.6 593.9L305.1 591.2L302.8 592.7L303.5 590.0L300.9 589.5L302.4 587.7L300.0 586.8L302.4 585.8L300.6 584.3L303.2 584.2L303.3 581.6L305.2 582.6L305.9 579.9L307.3 582.2L308.9 580.6L309.3 582.8L311.0 580.9L310.4 583.7L313.2 584.4L311.6 586.1z" fill="#bdb9ea" stroke="#9d98da" stroke-width="0.35"/><circle cx="307.0" cy="586.9" r="4.9" fill="url(#cPu)"/></g><g opacity="1"><path d="M273.4 611.8L271.8 612.9L272.6 614.8L270.8 614.9L271.3 617.0L269.2 616.1L269.3 618.3L267.7 616.5L266.4 618.4L265.7 616.3L263.9 617.0L264.0 615.1L261.0 615.1L262.9 613.1L261.1 612.5L262.8 611.3L260.9 608.7L263.8 609.1L263.4 606.9L265.4 607.9L266.5 606.1L267.7 607.5L269.1 606.0L269.6 608.1L270.7 607.0L270.6 608.9L273.5 608.7L271.7 610.8z" fill="#bdb9ea" stroke="#9d98da" stroke-width="0.35"/><circle cx="267.3" cy="612.0" r="4.7" fill="url(#cPu)"/></g><g opacity="0.6"><path d="M229.3 600.5L227.4 601.3L228.8 602.6L226.9 602.6L227.3 604.0L225.9 603.5L224.8 605.1L224.0 604.0L223.2 605.2L222.8 603.6L221.5 604.4L221.8 602.8L220.0 603.2L221.3 601.7L219.9 601.2L221.2 600.3L220.2 599.3L221.6 599.1L221.1 597.0L222.9 598.0L223.3 596.7L224.2 597.6L225.2 595.8L225.5 597.9L226.9 596.9L226.6 598.6L228.5 598.6L227.4 600.0z" fill="#bdb9ea" stroke="#9d98da" stroke-width="0.35"/><circle cx="224.3" cy="600.8" r="3.3" fill="url(#cPu)"/></g><path d="M231.3 533.9C233.1 533.5 237.8 531.2 242.2 531.4C246.6 531.7 253.3 535.9 257.7 535.5C262.1 535.1 266.0 531.6 268.6 529.3C271.2 526.9 272.5 522.8 273.3 521.5M268.6 529.3C269.4 531.1 270.9 536.8 273.3 540.2C275.6 543.5 278.4 549.0 282.6 549.5C286.7 550.0 293.5 543.3 298.1 543.3C302.8 543.3 308.5 548.4 310.6 549.5M236.0 543.3C237.8 544.8 243.0 550.8 246.8 552.6C250.7 554.4 254.9 553.4 259.3 554.1C263.7 554.9 270.9 556.7 273.3 557.3M246.8 552.6C246.1 555.2 242.2 563.5 242.2 568.1C242.2 572.8 244.8 577.5 246.8 580.6C248.9 583.7 253.3 585.7 254.6 586.8M273.3 557.3C274.8 559.1 282.6 564.8 282.6 568.1C282.6 571.5 274.8 575.9 273.3 577.5M282.6 568.1C285.2 567.6 293.5 564.0 298.1 565.0C302.8 566.1 307.5 571.2 310.6 574.4C313.7 577.5 315.7 582.1 316.8 583.7M254.6 586.8C253.6 588.9 248.7 595.1 248.4 599.2C248.1 603.4 251.5 608.3 253.1 611.7C254.6 615.0 256.9 618.1 257.7 619.4M273.3 577.5C275.3 579.0 281.6 584.2 285.7 586.8C289.8 589.4 293.5 591.4 298.1 593.0C302.8 594.6 310.6 593.5 313.7 596.1C316.8 598.7 316.3 606.5 316.8 608.5M253.1 596.1C254.9 595.3 260.6 592.0 263.9 591.4C267.3 590.9 271.7 592.7 273.3 593.0M270.2 524.6C272.2 524.9 279.0 524.6 282.6 526.2C286.2 527.7 289.6 531.1 291.9 533.9C294.2 536.8 295.8 541.7 296.6 543.3M226.6 543.3C225.6 544.8 220.4 550.0 220.4 552.6C220.4 555.2 224.0 558.0 226.6 558.8C229.2 559.6 234.4 557.5 236.0 557.3M285.7 586.8C285.2 588.9 282.1 596.1 282.6 599.2C283.1 602.3 287.8 604.4 288.8 605.4M259.3 554.1C259.0 552.3 256.9 545.9 257.7 543.3C258.5 540.7 262.9 539.4 263.9 538.6M217.3 537.0C218.9 537.6 224.0 538.3 226.6 540.2C229.2 542.0 231.8 546.6 232.8 547.9M298.1 543.3C299.2 542.2 303.6 539.4 304.4 537.0C305.1 534.7 303.1 530.6 302.8 529.3M287.3 558.8C288.3 560.1 290.9 565.0 293.5 566.6C296.1 568.1 301.2 567.9 302.8 568.1M240.2 537.1C240.2 536.0 239.8 532.8 240.6 531.0C241.4 529.2 243.0 527.4 244.8 526.3C246.5 525.2 249.0 524.5 251.1 524.5C253.3 524.5 256.5 526.0 257.5 526.2M244.8 526.3C245.5 526.5 248.4 525.8 249.2 527.2C249.9 528.6 249.3 533.3 249.3 534.6M296.3 548.5C295.2 549.4 292.0 553.1 289.3 554.1C286.5 555.2 282.7 555.4 279.8 554.6C277.0 553.9 273.8 551.9 272.1 549.7C270.4 547.5 269.9 542.9 269.5 541.5M279.8 554.6C279.7 553.7 278.5 550.5 279.1 549.0C279.8 547.5 283.0 546.2 283.8 545.6M312.3 547.7C313.2 547.8 315.9 547.6 317.4 548.2C318.9 548.7 320.5 549.7 321.5 550.8C322.6 551.9 323.4 553.5 323.7 554.9C324.0 556.4 323.4 558.7 323.4 559.5M321.5 550.8C320.7 551.2 317.0 552.4 316.5 553.1C316.1 553.9 318.4 555.0 318.7 555.4M228.0 548.7C229.2 549.2 233.4 550.3 235.3 551.9C237.2 553.5 238.8 556.0 239.3 558.3C239.8 560.6 239.6 563.5 238.6 565.6C237.6 567.8 234.2 570.3 233.4 571.3M239.3 558.3C238.1 558.3 233.3 557.8 232.0 558.3C230.6 558.8 231.1 560.9 231.0 561.5M247.7 570.5C247.5 569.6 246.2 567.0 246.2 565.3C246.2 563.5 246.7 561.6 247.6 560.0C248.5 558.5 250.0 557.0 251.6 556.0C253.2 555.0 256.2 554.4 257.2 554.1M247.6 560.0C248.1 560.2 249.0 560.7 250.6 561.0C252.2 561.3 256.1 561.7 257.2 561.8M301.0 568.2C301.5 569.5 304.0 573.4 303.7 575.8C303.5 578.2 301.7 581.3 299.6 582.9C297.4 584.4 293.7 585.4 291.0 585.1C288.3 584.8 284.6 581.7 283.3 581.1M299.6 582.9C299.0 582.3 297.4 580.6 296.1 579.6C294.8 578.6 292.4 577.3 291.7 576.8M249.9 585.9C250.3 586.8 251.7 589.3 251.9 591.0C252.1 592.7 251.7 594.7 251.0 596.3C250.2 597.9 248.9 599.5 247.4 600.6C245.9 601.6 242.9 602.4 242.0 602.8M251.0 596.3C249.9 596.1 245.5 595.8 244.6 595.0C243.7 594.2 245.4 592.1 245.5 591.5M279.6 596.4C279.3 597.2 278.9 599.7 278.0 601.0C277.1 602.4 275.7 603.7 274.3 604.5C272.8 605.3 270.9 605.8 269.2 605.9C267.4 606.0 264.8 605.3 263.9 605.1M274.3 604.5C273.5 603.6 270.2 599.5 269.5 599.0C268.8 598.4 270.0 600.7 270.1 601.0M284.7 614.0C284.4 612.8 282.8 609.1 283.0 606.8C283.3 604.4 284.6 601.8 286.3 600.0C288.1 598.2 290.8 596.7 293.4 596.1C295.9 595.5 300.2 596.5 301.6 596.6M286.3 600.0C286.7 600.6 287.6 602.6 288.5 603.6C289.3 604.7 291.1 605.9 291.6 606.3M260.6 616.4C260.6 617.1 261.1 619.5 260.8 620.9C260.4 622.4 259.6 623.9 258.6 625.1C257.5 626.2 256.0 627.3 254.5 627.9C253.0 628.5 250.3 628.5 249.5 628.7M258.6 625.1C258.1 624.4 256.9 621.1 255.7 620.9C254.5 620.6 252.0 623.2 251.2 623.7" fill="none" stroke="#d4545a" stroke-width="0.85" stroke-linecap="round"/></g>
<g id="watD"><ellipse cx="768.6" cy="580.8" rx="72" ry="66" fill="#84aaad" opacity="1"/><path d="M735.6 538.0C735.6 542.3 732.4 547.6 729.2 551.0C725.9 554.3 720.5 558.1 716.2 558.1C711.9 558.1 706.5 554.2 703.3 550.9C700.0 547.5 697.2 542.7 696.8 538.0C696.4 533.3 697.6 525.6 700.9 522.7C704.1 519.8 711.4 520.1 716.2 520.5C720.9 520.8 726.1 521.9 729.3 524.8C732.6 527.8 735.6 533.6 735.6 538.0z" fill="#84aaad" opacity="0.97" stroke="#6d959c" stroke-width="0.5"/><path d="M772.4 541.9C772.5 547.0 770.8 554.1 767.3 557.5C763.9 560.9 757.1 561.9 751.7 562.1C746.3 562.3 738.4 562.1 734.9 558.7C731.5 555.3 730.9 547.3 731.1 541.9C731.3 536.5 732.5 530.1 735.9 526.1C739.4 522.0 746.5 517.5 751.7 517.6C756.9 517.7 763.5 522.6 766.9 526.7C770.4 530.7 772.3 536.7 772.4 541.9z" fill="#84aaad" opacity="0.97" stroke="#6d959c" stroke-width="0.5"/><path d="M804.0 519.8C803.9 524.1 798.0 529.0 794.2 532.5C790.5 536.1 786.0 540.8 781.5 541.0C777.1 541.3 771.1 537.5 767.4 534.0C763.7 530.5 759.3 524.5 759.3 519.8C759.4 515.2 763.9 509.6 767.6 505.9C771.4 502.2 777.1 497.6 781.5 497.7C786.0 497.8 790.9 503.1 794.6 506.8C798.3 510.5 804.0 515.5 804.0 519.8z" fill="#84aaad" opacity="0.97" stroke="#6d959c" stroke-width="0.5"/><path d="M844.7 532.8C844.8 538.1 843.0 545.6 839.3 549.1C835.7 552.6 828.4 553.8 823.0 553.7C817.7 553.6 811.3 551.9 807.4 548.5C803.5 545.0 799.6 537.9 799.8 532.8C799.9 527.7 804.2 521.5 808.1 517.8C812.0 514.1 817.9 510.7 823.0 510.5C828.2 510.4 835.2 513.4 838.8 517.1C842.4 520.8 844.6 527.5 844.7 532.8z" fill="#84aaad" opacity="0.97" stroke="#6d959c" stroke-width="0.5"/><path d="M819.7 553.6C819.4 559.3 812.9 565.6 808.2 569.9C803.6 574.2 797.6 578.9 791.9 579.2C786.2 579.4 778.8 575.6 774.1 571.4C769.4 567.1 763.8 559.4 763.8 553.6C763.9 547.7 769.9 540.3 774.5 536.2C779.2 532.0 786.0 528.7 791.9 528.6C797.9 528.4 805.5 531.2 810.1 535.3C814.8 539.5 820.0 547.8 819.7 553.6z" fill="#84aaad" opacity="0.97" stroke="#6d959c" stroke-width="0.5"/><path d="M843.8 569.1C844.1 574.0 844.4 581.8 841.4 584.9C838.4 587.9 830.8 587.7 825.6 587.5C820.5 587.4 814.2 587.2 810.6 584.2C807.0 581.1 803.9 574.1 803.9 569.1C803.9 564.1 807.0 557.3 810.6 554.1C814.2 550.9 820.8 549.7 825.6 550.0C830.4 550.2 836.3 552.2 839.4 555.4C842.4 558.6 843.4 564.2 843.8 569.1z" fill="#84aaad" opacity="0.97" stroke="#6d959c" stroke-width="0.5"/><path d="M747.1 573.0C747.3 578.2 742.4 585.5 738.2 589.3C734.0 593.0 727.3 595.6 721.9 595.6C716.5 595.5 709.8 592.9 705.7 589.1C701.7 585.4 698.0 578.7 697.7 573.0C697.4 567.3 699.9 558.8 703.9 555.1C708.0 551.4 716.4 550.3 721.9 550.7C727.4 551.2 732.7 554.3 736.9 558.0C741.1 561.7 746.9 567.8 747.1 573.0z" fill="#84aaad" opacity="0.97" stroke="#6d959c" stroke-width="0.5"/><path d="M779.6 579.5C779.5 584.6 779.1 591.6 776.0 594.7C772.9 597.8 765.8 598.2 760.8 598.1C755.8 598.1 749.8 597.6 745.8 594.4C741.9 591.3 737.2 584.3 737.3 579.5C737.4 574.6 742.7 569.3 746.6 565.3C750.6 561.4 755.9 556.2 760.8 556.0C765.7 555.8 773.1 560.2 776.2 564.1C779.3 568.0 779.6 574.4 779.6 579.5z" fill="#84aaad" opacity="0.97" stroke="#6d959c" stroke-width="0.5"/><path d="M820.9 589.9C820.8 594.8 816.6 600.6 812.9 604.4C809.1 608.2 803.7 612.2 798.4 612.7C793.1 613.1 784.4 610.9 781.1 607.1C777.9 603.3 778.5 595.3 778.8 589.9C779.1 584.4 779.7 578.0 783.0 574.5C786.3 570.9 793.4 568.5 798.4 568.6C803.4 568.7 809.5 571.5 813.2 575.1C816.9 578.6 820.9 585.0 820.9 589.9z" fill="#84aaad" opacity="0.97" stroke="#6d959c" stroke-width="0.5"/><path d="M852.9 600.2C853.4 604.8 852.9 611.8 849.9 615.4C846.9 619.0 839.3 622.3 834.7 621.8C830.2 621.3 826.1 616.0 822.5 612.4C819.0 608.8 814.0 604.7 813.6 600.2C813.3 595.8 816.7 589.2 820.3 585.8C823.8 582.4 830.3 579.6 834.7 580.0C839.2 580.3 843.8 584.7 846.9 588.1C849.9 591.5 852.4 595.7 852.9 600.2z" fill="#84aaad" opacity="0.97" stroke="#6d959c" stroke-width="0.5"/><path d="M720.4 604.1C720.3 608.8 719.0 614.7 716.0 617.7C713.0 620.6 707.1 621.8 702.4 621.9C697.8 622.0 691.3 621.4 688.1 618.4C685.0 615.5 683.5 608.6 683.8 604.1C684.0 599.6 686.6 594.8 689.7 591.4C692.8 587.9 697.9 583.8 702.4 583.5C706.9 583.3 713.7 586.5 716.7 589.9C719.6 593.3 720.5 599.5 720.4 604.1z" fill="#84aaad" opacity="0.97" stroke="#6d959c" stroke-width="0.5"/><path d="M759.8 609.3C759.9 614.2 757.4 620.7 753.8 624.4C750.3 628.2 743.6 632.1 738.7 632.0C733.8 631.8 727.8 627.4 724.5 623.6C721.1 619.8 718.8 614.3 718.6 609.3C718.3 604.3 719.8 597.2 723.1 593.7C726.5 590.2 733.7 588.1 738.7 588.3C743.7 588.5 749.6 591.4 753.1 594.9C756.7 598.4 759.7 604.4 759.8 609.3z" fill="#84aaad" opacity="0.97" stroke="#6d959c" stroke-width="0.5"/><path d="M793.9 614.5C793.7 618.9 788.7 623.6 785.1 627.2C781.6 630.8 776.7 636.1 772.5 636.2C768.2 636.2 762.8 631.0 759.6 627.4C756.4 623.8 753.5 619.2 753.2 614.5C752.8 609.9 754.2 602.6 757.4 599.4C760.6 596.3 767.7 595.5 772.5 595.7C777.3 595.9 782.7 597.6 786.2 600.7C789.8 603.9 794.1 610.1 793.9 614.5z" fill="#84aaad" opacity="0.97" stroke="#6d959c" stroke-width="0.5"/><path d="M829.2 628.8C829.3 634.0 825.7 640.2 821.9 644.5C818.0 648.7 811.5 654.3 806.2 654.4C800.8 654.5 793.2 649.5 789.7 645.2C786.2 641.0 785.3 634.4 785.2 628.8C785.0 623.1 785.2 614.8 788.7 611.3C792.2 607.8 800.7 607.5 806.2 607.8C811.7 608.2 817.7 610.0 821.5 613.5C825.4 616.9 829.2 623.6 829.2 628.8z" fill="#84aaad" opacity="0.97" stroke="#6d959c" stroke-width="0.5"/><path d="M769.1 641.8C769.0 646.4 767.2 652.4 764.1 655.5C761.0 658.5 755.1 660.0 750.4 660.1C745.7 660.3 738.5 659.5 735.8 656.4C733.0 653.3 733.8 646.7 733.8 641.8C733.8 636.8 732.8 630.2 735.6 626.9C738.3 623.6 745.6 621.9 750.4 622.0C755.3 622.1 761.6 624.2 764.7 627.5C767.8 630.8 769.2 637.1 769.1 641.8z" fill="#84aaad" opacity="0.97" stroke="#6d959c" stroke-width="0.5"/><path d="M706.0 549.4C703.6 547.3 701.7 543.9 701.1 540.6C700.5 537.4 700.8 532.6 702.6 529.8C704.3 527.0 708.5 525.0 711.9 523.7C715.2 522.5 719.8 521.2 722.8 522.3C725.8 523.3 728.6 527.2 729.9 530.3C731.2 533.3 731.3 537.3 730.5 540.6C729.8 543.9 728.1 548.0 725.6 550.1C723.0 552.2 718.6 553.3 715.3 553.2C712.0 553.1 708.4 551.5 706.0 549.4z" fill="url(#adi)" stroke="#9c6f3a" stroke-width="1.0"/><ellipse cx="710.0" cy="530.6" rx="5.4" ry="2.0" transform="rotate(-35 710.0 530.6)" fill="#fbeec0" opacity="0.85"/><ellipse cx="729.7" cy="541.5" rx="2.6" ry="1.6" transform="rotate(106 729.7 541.5)" fill="#8a5a2a" opacity="0.75"/><path d="M752.5 559.3C749.0 559.4 744.5 558.5 741.8 556.2C739.1 553.9 737.2 549.4 736.4 545.6C735.6 541.8 735.7 537.2 737.1 533.6C738.5 530.0 741.6 525.8 744.9 524.2C748.2 522.5 753.3 522.4 756.8 523.7C760.3 525.0 763.8 528.5 765.8 532.0C767.9 535.4 769.5 540.5 769.1 544.4C768.6 548.3 765.9 553.0 763.1 555.4C760.4 557.9 756.1 559.1 752.5 559.3z" fill="url(#adi)" stroke="#9c6f3a" stroke-width="1.0"/><ellipse cx="744.7" cy="533.5" rx="6.1" ry="2.2" transform="rotate(-35 744.7 533.5)" fill="#fbeec0" opacity="0.85"/><ellipse cx="743.5" cy="554.6" rx="3.0" ry="1.9" transform="rotate(211 743.5 554.6)" fill="#8a5a2a" opacity="0.75"/><path d="M765.9 527.7C764.2 524.7 763.9 519.5 764.8 516.0C765.8 512.5 768.7 508.7 771.7 506.7C774.6 504.6 778.9 503.7 782.5 503.8C786.2 504.0 790.6 505.0 793.4 507.3C796.2 509.6 799.0 514.0 799.4 517.6C799.7 521.2 797.6 525.7 795.4 528.8C793.3 532.0 789.9 535.7 786.6 536.6C783.2 537.5 778.7 535.7 775.3 534.2C771.8 532.7 767.6 530.8 765.9 527.7z" fill="url(#adi)" stroke="#9c6f3a" stroke-width="1.0"/><ellipse cx="775.1" cy="512.2" rx="5.6" ry="2.0" transform="rotate(-35 775.1 512.2)" fill="#fbeec0" opacity="0.85"/><ellipse cx="773.4" cy="508.7" rx="2.7" ry="1.7" transform="rotate(326 773.4 508.7)" fill="#8a5a2a" opacity="0.75"/><path d="M836.1 543.2C833.9 546.1 830.7 549.7 827.2 550.4C823.7 551.2 818.4 549.8 815.1 547.8C811.9 545.8 809.3 541.9 807.8 538.4C806.2 534.9 804.9 530.2 805.8 526.7C806.7 523.3 810.2 519.7 813.4 517.8C816.6 515.9 821.4 514.5 825.2 515.2C828.9 515.8 833.2 518.7 835.9 521.6C838.5 524.6 840.8 529.2 840.9 532.8C840.9 536.4 838.4 540.2 836.1 543.2z" fill="url(#adi)" stroke="#9c6f3a" stroke-width="1.0"/><ellipse cx="816.3" cy="524.8" rx="5.8" ry="2.1" transform="rotate(-35 816.3 524.8)" fill="#fbeec0" opacity="0.85"/><ellipse cx="828.1" cy="519.4" rx="2.8" ry="1.8" transform="rotate(379 828.1 519.4)" fill="#8a5a2a" opacity="0.75"/><path d="M811.6 560.7C809.7 564.9 805.8 568.5 801.9 570.9C798.0 573.2 792.4 575.4 788.2 574.7C783.9 573.9 779.4 570.0 776.5 566.4C773.6 562.9 770.8 557.9 770.7 553.5C770.7 549.1 773.1 543.8 776.0 540.2C778.9 536.6 783.8 532.8 788.1 532.1C792.5 531.4 797.9 533.8 802.0 536.1C806.2 538.4 811.6 541.8 813.2 545.9C814.8 550.0 813.5 556.6 811.6 560.7z" fill="url(#adi)" stroke="#9c6f3a" stroke-width="1.0"/><ellipse cx="783.8" cy="544.0" rx="7.0" ry="2.5" transform="rotate(-35 783.8 544.0)" fill="#fbeec0" opacity="0.85"/><ellipse cx="792.5" cy="570.5" rx="3.4" ry="2.1" transform="rotate(178 792.5 570.5)" fill="#8a5a2a" opacity="0.75"/><path d="M812.4 579.3C810.1 576.7 808.3 572.3 808.5 568.7C808.7 565.2 811.0 560.9 813.6 558.2C816.1 555.6 820.2 553.5 823.8 552.9C827.5 552.3 832.4 552.6 835.3 554.4C838.2 556.3 839.9 560.5 841.0 564.0C842.1 567.6 843.2 572.2 841.9 575.5C840.5 578.7 836.3 582.1 833.0 583.6C829.7 585.0 825.4 585.0 821.9 584.3C818.5 583.6 814.6 581.9 812.4 579.3z" fill="url(#adi)" stroke="#9c6f3a" stroke-width="1.0"/><ellipse cx="819.2" cy="561.5" rx="5.6" ry="2.0" transform="rotate(-35 819.2 561.5)" fill="#fbeec0" opacity="0.85"/><ellipse cx="815.6" cy="559.3" rx="2.7" ry="1.7" transform="rotate(316 815.6 559.3)" fill="#8a5a2a" opacity="0.75"/><path d="M734.7 585.3C732.0 588.0 728.1 590.6 724.2 591.2C720.3 591.8 714.9 591.2 711.4 589.0C707.9 586.9 704.4 582.3 703.1 578.3C701.8 574.3 702.0 568.7 703.6 564.8C705.2 560.9 709.0 556.5 712.7 555.0C716.4 553.4 721.9 554.4 725.8 555.6C729.8 556.9 733.9 559.3 736.3 562.5C738.8 565.6 741.0 570.7 740.7 574.5C740.5 578.3 737.5 582.5 734.7 585.3z" fill="url(#adi)" stroke="#9c6f3a" stroke-width="1.0"/><ellipse cx="714.6" cy="564.4" rx="6.3" ry="2.3" transform="rotate(-35 714.6 564.4)" fill="#fbeec0" opacity="0.85"/><ellipse cx="731.5" cy="585.3" rx="3.1" ry="1.9" transform="rotate(144 731.5 585.3)" fill="#8a5a2a" opacity="0.75"/><path d="M758.0 597.0C754.5 596.4 750.5 594.4 748.1 591.6C745.7 588.7 743.6 583.8 743.7 580.1C743.9 576.3 746.4 571.8 748.8 569.0C751.2 566.2 754.7 563.9 758.0 563.0C761.4 562.1 766.1 561.9 769.0 563.5C772.0 565.2 774.5 569.5 775.7 573.1C776.9 576.7 777.5 581.5 776.5 585.2C775.4 588.9 772.4 593.3 769.4 595.2C766.3 597.2 761.6 597.6 758.0 597.0z" fill="url(#adi)" stroke="#9c6f3a" stroke-width="1.0"/><ellipse cx="754.1" cy="571.5" rx="5.8" ry="2.1" transform="rotate(-35 754.1 571.5)" fill="#fbeec0" opacity="0.85"/><ellipse cx="746.3" cy="575.1" rx="2.8" ry="1.8" transform="rotate(288 746.3 575.1)" fill="#8a5a2a" opacity="0.75"/><path d="M807.0 605.6C803.6 607.5 798.7 609.3 795.2 608.4C791.6 607.6 788.1 603.5 785.6 600.3C783.0 597.1 779.9 592.7 779.8 589.0C779.8 585.3 782.7 580.8 785.2 577.9C787.8 575.0 791.6 572.2 795.3 571.5C799.1 570.8 804.5 571.6 807.8 573.7C811.0 575.9 813.3 580.7 814.6 584.6C815.9 588.5 816.8 593.6 815.6 597.1C814.3 600.6 810.4 603.7 807.0 605.6z" fill="url(#adi)" stroke="#9c6f3a" stroke-width="1.0"/><ellipse cx="791.4" cy="581.5" rx="6.1" ry="2.2" transform="rotate(-35 791.4 581.5)" fill="#fbeec0" opacity="0.85"/><ellipse cx="788.9" cy="577.9" rx="3.0" ry="1.9" transform="rotate(324 788.9 577.9)" fill="#8a5a2a" opacity="0.75"/><path d="M843.6 614.1C840.5 615.8 836.3 615.7 832.7 615.4C829.1 615.0 824.2 614.4 821.9 612.0C819.6 609.6 818.9 604.6 818.9 600.9C818.8 597.3 819.4 592.7 821.5 590.1C823.6 587.4 827.9 585.7 831.4 585.0C834.8 584.3 839.0 584.6 842.1 586.0C845.3 587.5 848.8 590.6 850.3 593.8C851.8 597.1 852.4 602.1 851.2 605.5C850.1 608.9 846.6 612.5 843.6 614.1z" fill="url(#adi)" stroke="#9c6f3a" stroke-width="1.0"/><ellipse cx="828.5" cy="592.9" rx="5.4" ry="2.0" transform="rotate(-35 828.5 592.9)" fill="#fbeec0" opacity="0.85"/><ellipse cx="848.8" cy="599.8" rx="2.6" ry="1.6" transform="rotate(448 848.8 599.8)" fill="#8a5a2a" opacity="0.75"/><path d="M716.4 610.9C715.3 613.7 712.5 616.8 709.5 618.1C706.5 619.4 701.9 619.6 698.6 618.6C695.4 617.5 691.9 614.6 690.1 611.9C688.2 609.2 687.3 605.2 687.6 602.3C687.9 599.3 689.7 596.1 691.9 594.0C694.1 591.9 697.7 590.0 700.8 589.9C703.8 589.8 707.8 591.4 710.5 593.3C713.1 595.1 715.6 598.2 716.6 601.2C717.6 604.1 717.6 608.0 716.4 610.9z" fill="url(#adi)" stroke="#9c6f3a" stroke-width="1.0"/><ellipse cx="696.4" cy="597.0" rx="5.2" ry="1.9" transform="rotate(-35 696.4 597.0)" fill="#fbeec0" opacity="0.85"/><ellipse cx="704.9" cy="616.6" rx="2.5" ry="1.6" transform="rotate(170 704.9 616.6)" fill="#8a5a2a" opacity="0.75"/><path d="M734.2 626.6C730.7 625.7 726.5 623.2 724.7 620.1C723.0 617.1 723.2 612.2 723.6 608.3C723.9 604.3 724.5 599.3 726.8 596.5C729.1 593.7 734.0 591.9 737.6 591.5C741.2 591.1 745.6 592.2 748.6 594.4C751.5 596.5 754.6 600.5 755.4 604.1C756.1 607.8 754.7 612.6 753.1 616.2C751.5 619.8 748.8 624.0 745.6 625.8C742.5 627.5 737.7 627.5 734.2 626.6z" fill="url(#adi)" stroke="#9c6f3a" stroke-width="1.0"/><ellipse cx="732.0" cy="601.4" rx="5.8" ry="2.1" transform="rotate(-35 732.0 601.4)" fill="#fbeec0" opacity="0.85"/><ellipse cx="732.0" cy="596.6" rx="2.8" ry="1.8" transform="rotate(334 732.0 596.6)" fill="#8a5a2a" opacity="0.75"/><path d="M779.6 628.9C776.3 630.6 771.9 632.2 768.5 631.4C765.0 630.7 760.9 627.4 759.1 624.4C757.2 621.4 757.0 617.0 757.3 613.5C757.5 609.9 758.3 605.5 760.6 603.1C762.8 600.7 767.3 599.3 770.7 599.1C774.1 598.9 777.8 600.0 780.8 601.8C783.8 603.6 787.5 606.5 788.7 609.8C790.0 613.0 789.9 618.4 788.4 621.5C786.9 624.7 782.9 627.3 779.6 628.9z" fill="url(#adi)" stroke="#9c6f3a" stroke-width="1.0"/><ellipse cx="766.3" cy="607.2" rx="5.4" ry="2.0" transform="rotate(-35 766.3 607.2)" fill="#fbeec0" opacity="0.85"/><ellipse cx="759.5" cy="609.5" rx="2.6" ry="1.6" transform="rotate(292 759.5 609.5)" fill="#8a5a2a" opacity="0.75"/><path d="M788.4 634.5C787.3 631.0 787.4 626.1 789.1 622.7C790.7 619.3 794.5 616.0 798.1 614.1C801.7 612.2 806.8 610.7 810.7 611.2C814.7 611.7 819.5 614.3 821.9 617.3C824.3 620.2 825.4 625.1 825.1 629.0C824.8 632.8 822.8 637.3 820.0 640.3C817.2 643.2 812.4 646.1 808.4 646.7C804.3 647.2 799.2 645.8 795.8 643.7C792.5 641.7 789.6 638.0 788.4 634.5z" fill="url(#adi)" stroke="#9c6f3a" stroke-width="1.0"/><ellipse cx="798.7" cy="620.0" rx="6.5" ry="2.4" transform="rotate(-35 798.7 620.0)" fill="#fbeec0" opacity="0.85"/><ellipse cx="812.9" cy="614.4" rx="3.1" ry="2.0" transform="rotate(384 812.9 614.4)" fill="#8a5a2a" opacity="0.75"/><path d="M757.3 656.0C754.4 657.2 750.4 657.4 747.4 656.4C744.3 655.4 741.1 652.9 739.1 650.2C737.1 647.5 735.5 643.4 735.6 640.1C735.7 636.9 737.4 632.9 739.6 630.6C741.7 628.4 745.4 627.0 748.5 626.8C751.5 626.7 755.2 628.1 757.8 630.0C760.3 631.9 762.7 635.0 763.9 638.1C765.1 641.3 766.0 646.0 764.9 649.0C763.8 651.9 760.2 654.8 757.3 656.0z" fill="url(#adi)" stroke="#9c6f3a" stroke-width="1.0"/><ellipse cx="744.4" cy="634.6" rx="5.2" ry="1.9" transform="rotate(-35 744.4 634.6)" fill="#fbeec0" opacity="0.85"/><ellipse cx="737.9" cy="636.8" rx="2.5" ry="1.6" transform="rotate(293 737.9 636.8)" fill="#8a5a2a" opacity="0.75"/><g opacity="1"><circle cx="774.5" cy="547.1" r="7.0" fill="#a6d0e0" stroke="#6aa5c2" stroke-width="0.5"/><circle cx="774.5" cy="547.1" r="4.6" fill="#79b3ce"/></g><g opacity="1"><circle cx="743.4" cy="593.8" r="7.3" fill="#a6d0e0" stroke="#6aa5c2" stroke-width="0.5"/><circle cx="743.4" cy="593.8" r="4.8" fill="#79b3ce"/></g><g opacity="1"><circle cx="821.2" cy="589.9" r="6.7" fill="#a6d0e0" stroke="#6aa5c2" stroke-width="0.5"/><circle cx="821.2" cy="589.9" r="4.5" fill="#79b3ce"/></g><g opacity="0.75"><circle cx="686.9" cy="588.1" r="5.7" fill="#a6d0e0" stroke="#6aa5c2" stroke-width="0.5"/><circle cx="686.9" cy="588.1" r="3.8" fill="#79b3ce"/></g><g opacity="0.75"><circle cx="780.8" cy="641.8" r="5.2" fill="#a6d0e0" stroke="#6aa5c2" stroke-width="0.5"/><circle cx="780.8" cy="641.8" r="3.4" fill="#79b3ce"/></g><g opacity="1"><circle cx="742.6" cy="569.6" r="7.0" fill="#a2d6b6" stroke="#5aa87c" stroke-width="0.5"/><circle cx="742.6" cy="569.6" r="4.6" fill="#68b78a"/></g><g opacity="1"><circle cx="783.4" cy="575.1" r="7.0" fill="#a2d6b6" stroke="#5aa87c" stroke-width="0.5"/><circle cx="783.4" cy="575.1" r="4.6" fill="#68b78a"/></g><g opacity="0.8"><circle cx="688.2" cy="558.7" r="5.2" fill="#a2d6b6" stroke="#5aa87c" stroke-width="0.5"/><circle cx="688.2" cy="558.7" r="3.4" fill="#68b78a"/></g><g opacity="0.8"><circle cx="728.4" cy="635.3" r="5.7" fill="#a2d6b6" stroke="#5aa87c" stroke-width="0.5"/><circle cx="728.4" cy="635.3" r="3.8" fill="#68b78a"/></g><g opacity="1"><circle cx="758.2" cy="527.1" r="6.2" fill="#ee9bca" stroke="#cf62a4" stroke-width="0.5"/><circle cx="756.5" cy="526.8" r="2.2" fill="#da68ab"/><circle cx="760.1" cy="528.5" r="2.0" fill="#da68ab"/><circle cx="758.9" cy="524.7" r="1.6" fill="#da68ab"/></g><g opacity="1"><circle cx="791.1" cy="614.5" r="5.7" fill="#ee9bca" stroke="#cf62a4" stroke-width="0.5"/><circle cx="789.5" cy="614.2" r="2.1" fill="#da68ab"/><circle cx="792.9" cy="615.8" r="1.8" fill="#da68ab"/><circle cx="791.8" cy="612.3" r="1.5" fill="#da68ab"/></g><g opacity="0.6"><path d="M742.5 528.9L740.3 529.5L741.3 530.0L739.9 530.3L740.0 532.8L738.2 531.7L737.9 533.2L736.8 531.9L735.7 533.5L735.3 531.5L733.9 532.1L734.1 530.5L732.4 530.6L733.5 529.2L731.3 528.1L733.5 527.5L732.5 525.7L734.4 525.9L733.8 524.6L735.4 525.2L735.5 524.0L736.6 524.9L738.0 523.6L738.4 525.2L740.3 524.0L739.6 526.1L741.6 526.2L740.4 527.6z" fill="#bdb9ea" stroke="#9d98da" stroke-width="0.35"/><circle cx="736.9" cy="528.4" r="3.7" fill="url(#cPu)"/></g><g opacity="1"><path d="M740.2 552.7L737.9 553.9L739.7 556.0L737.0 556.0L737.0 558.2L735.1 557.5L735.4 560.2L733.5 557.9L731.9 559.7L731.1 557.6L728.1 558.1L728.9 555.7L726.5 555.7L728.2 553.8L726.4 552.9L728.3 551.8L726.3 549.5L729.3 549.9L728.4 547.2L730.9 548.6L731.8 546.6L733.2 548.1L735.0 546.1L735.4 548.7L736.9 547.8L736.7 549.8L739.6 550.4L737.9 552.3z" fill="#bdb9ea" stroke="#9d98da" stroke-width="0.35"/><circle cx="733.0" cy="553.0" r="5.1" fill="url(#cPu)"/></g><g opacity="1"><path d="M801.8 535.0L800.1 536.2L801.3 538.1L799.2 538.4L800.1 540.5L797.8 539.6L796.3 542.9L794.9 540.3L793.5 541.9L792.9 539.7L791.0 540.7L791.4 538.4L789.6 538.6L790.6 536.8L787.6 535.8L790.5 534.6L788.7 531.7L791.7 532.1L791.4 529.9L793.4 530.9L793.4 528.4L795.1 530.5L797.3 528.1L797.6 531.1L799.7 530.6L799.4 532.6L802.0 532.3L800.1 534.4z" fill="#bdb9ea" stroke="#9d98da" stroke-width="0.35"/><circle cx="795.3" cy="535.4" r="5.1" fill="url(#cPu)"/></g><g opacity="1"><path d="M731.2 601.7L728.3 602.8L730.5 605.6L727.1 605.1L728.0 608.3L725.2 606.4L725.6 608.8L723.7 606.8L720.7 609.1L720.5 606.1L718.3 606.7L718.8 604.5L716.6 604.8L718.0 602.8L715.4 601.5L718.0 600.3L716.4 599.0L718.7 598.7L717.7 595.3L720.7 596.9L722.0 594.5L723.5 596.3L725.2 594.7L725.8 596.9L727.7 596.1L727.4 598.3L730.2 597.2L728.2 599.9z" fill="#bdb9ea" stroke="#9d98da" stroke-width="0.35"/><circle cx="723.2" cy="601.5" r="5.5" fill="url(#cPu)"/></g><g opacity="1"><path d="M781.1 598.1L778.1 599.1L779.6 600.8L777.1 600.9L778.5 603.3L775.7 602.2L774.8 605.5L773.0 603.0L771.4 605.6L770.8 602.5L768.2 604.2L769.0 601.1L766.0 600.6L767.8 598.6L765.0 597.6L767.8 596.4L765.8 594.7L768.6 594.6L768.8 591.7L771.0 592.7L771.7 589.8L773.3 592.4L775.1 590.5L775.6 593.0L777.5 590.9L776.8 594.0L780.0 594.8L778.2 596.8z" fill="#bdb9ea" stroke="#9d98da" stroke-width="0.35"/><circle cx="773.0" cy="597.7" r="5.5" fill="url(#cPu)"/></g><g opacity="1"><path d="M819.8 607.3L817.9 608.5L818.9 610.8L816.7 610.9L817.3 613.4L814.9 612.3L815.0 614.8L813.1 612.8L811.7 615.0L810.8 612.5L808.8 613.4L808.8 611.2L805.4 611.2L807.5 608.8L805.4 608.1L807.4 606.7L805.2 603.7L808.6 604.1L808.1 601.6L810.4 602.7L811.8 600.6L813.2 602.2L814.8 600.5L815.3 602.9L816.7 601.7L816.6 603.9L819.9 603.7L817.8 606.1z" fill="#bdb9ea" stroke="#9d98da" stroke-width="0.35"/><circle cx="812.7" cy="607.5" r="5.5" fill="url(#cPu)"/></g><g opacity="1"><path d="M775.8 634.8L772.9 636.1L774.9 638.0L772.1 638.0L772.7 640.2L770.5 639.5L768.9 641.9L767.6 640.1L766.3 642.1L765.8 639.6L763.7 640.9L764.2 638.4L761.4 639.0L763.3 636.7L761.3 635.8L763.2 634.6L761.7 632.9L763.9 632.6L763.2 629.4L765.8 630.9L766.4 628.9L767.9 630.4L769.4 627.6L770.0 630.7L772.1 629.2L771.6 631.9L774.6 631.9L772.8 634.1z" fill="#bdb9ea" stroke="#9d98da" stroke-width="0.35"/><circle cx="768.1" cy="635.3" r="5.1" fill="url(#cPu)"/></g><g opacity="0.7"><path d="M723.5 623.0L722.0 623.8L723.6 625.0L721.5 625.0L722.1 626.5L720.5 625.9L719.4 627.5L718.5 626.4L717.6 627.9L717.3 626.1L716.2 627.0L716.4 625.4L714.4 625.0L715.5 623.7L714.3 622.9L715.6 622.2L714.6 621.3L716.1 621.1L715.5 619.0L717.3 620.1L717.7 618.1L718.8 619.7L719.8 618.1L720.1 620.0L721.4 619.2L721.2 620.8L723.4 621.0L722.0 622.4z" fill="#bdb9ea" stroke="#9d98da" stroke-width="0.35"/><circle cx="718.8" cy="623.1" r="3.5" fill="url(#cPu)"/></g><path d="M741.3 536.7C741.8 538.2 744.1 542.7 743.9 545.8C743.7 548.8 740.0 551.6 740.0 554.9C740.0 558.1 743.3 563.5 743.9 565.2M789.3 526.3C788.5 527.4 786.7 530.6 784.1 532.8C781.5 535.0 775.5 538.2 773.8 539.3M797.1 541.9C796.7 543.6 794.5 548.6 794.5 552.3C794.5 555.9 796.7 562.0 797.1 563.9M778.9 553.6C780.2 553.1 784.6 549.9 786.7 551.0C788.9 552.0 790.4 558.1 791.9 560.0C793.4 562.0 795.2 562.2 795.8 562.6M732.3 601.5C733.6 601.3 737.9 598.5 740.0 600.2C742.2 602.0 744.6 613.0 745.2 611.9C745.9 610.8 744.1 596.8 743.9 593.8M773.8 627.5C775.5 627.1 781.3 626.6 784.1 624.9C786.9 623.2 789.3 616.0 790.6 617.1C791.9 618.2 791.3 628.3 791.9 631.4C792.6 634.4 794.1 634.6 794.5 635.3M821.8 592.5C823.3 592.0 828.5 590.7 830.8 589.9C833.2 589.0 835.2 585.8 836.0 587.3C836.9 588.8 836.0 597.0 836.0 598.9M708.9 544.5C709.6 545.1 711.3 548.1 712.8 548.4C714.3 548.6 717.1 546.2 718.0 545.8M719.3 538.0C719.5 537.6 719.9 535.4 720.6 535.4C721.2 535.4 722.7 537.6 723.2 538.0M720.6 582.1C721.0 583.0 722.1 586.6 723.2 587.3C724.3 587.9 726.4 586.2 727.1 586.0M708.9 591.2C709.3 591.8 710.6 594.6 711.5 595.1C712.4 595.5 713.7 594.0 714.1 593.8M736.1 611.9C736.8 612.8 738.7 616.7 740.0 617.1C741.3 617.5 743.3 614.9 743.9 614.5M815.3 573.0C816.1 573.4 820.0 574.5 820.5 575.6C820.9 576.7 818.3 578.8 817.9 579.5M825.6 562.6C826.3 563.1 828.5 565.2 829.5 565.2C830.6 565.2 831.7 563.1 832.1 562.6M802.3 579.5C802.5 580.1 802.7 582.8 803.6 583.4C804.5 583.9 806.8 583.0 807.5 582.9M750.4 632.7C751.1 633.1 753.2 635.3 754.3 635.3C755.4 635.3 756.5 633.1 756.9 632.7M762.1 543.2C761.9 544.0 760.6 547.7 760.8 548.4C761.0 549.0 763.0 547.3 763.4 547.1M758.2 610.6C758.4 611.3 758.6 614.3 759.5 614.5C760.4 614.7 762.7 612.4 763.4 611.9M753.0 565.2C753.4 565.7 754.7 567.8 755.6 567.8C756.5 567.8 757.8 565.7 758.2 565.2M782.8 593.8C783.3 594.2 784.4 596.4 785.4 596.4C786.5 596.4 788.7 594.2 789.3 593.8M702.4 567.8C702.9 567.6 704.8 566.3 705.0 566.5C705.2 566.7 703.9 568.7 703.7 569.1M825.6 600.2C826.3 600.7 828.5 602.8 829.5 602.8C830.6 602.8 831.7 600.7 832.1 600.2M794.5 601.5C795.2 602.0 797.3 604.1 798.4 604.1C799.5 604.1 800.6 602.0 801.0 601.5M732.3 575.6C732.9 576.0 735.1 578.2 736.1 578.2C737.2 578.2 738.3 576.0 738.7 575.6" fill="none" stroke="#1a1a1a" stroke-width="0.65" stroke-linecap="round" stroke-linejoin="round"/></g>



<g stroke="#1c1c1c" fill="none" stroke-width="1.9">
<rect x="146.7" y="130.3" width="43.9" height="44.1" stroke="#111" stroke-width="2.2"/>
<path d="M167.8 175V221" stroke-width="1.9"/>
<path d="M242 263H225L201.8 301" stroke-width="1.1"/>
<path d="M264.4 297.6H242.5" stroke-width="1.1"/>
<rect x="523.7" y="135" width="24.6" height="24" stroke="#111" stroke-width="2"/>
<path d="M549.5 147.7H675.6" stroke-width="1.9"/>
<path d="M648.2 294.2H669M659 294.2V359.5"/>
<path d="M703.2 377.7H778.1M778.1 368.4V386.6"/>
<path d="M620.5 404.6L559.2 445.1M553.7 437.1L564.7 453.6"/>
<path d="M703.3 404.6L764.3 445.3M770.1 437.1L758.8 453.6"/>
</g>
<g fill="#1c1c1c">
<path d="M162.3 220.3H173.3L167.8 230.3z"/>
<path d="M701 232.1L733 230.9V233.9L701 232.7z" fill="url(#gAh)"/><path d="M732.3 226.6L744.2 232.4L732.3 238.3z"/>
<rect x="820.9" y="245" width="3.1" height="98.5" fill="url(#gAv)"/><path d="M816.2 342.6H828.6L822.4 354.2z"/>
</g>

<g><text x="174.6" y="33.6" font-size="24.8" textLength="36.3" lengthAdjust="spacingAndGlyphs" fill="#0a0a0a" stroke="#0a0a0a" stroke-width="0.15">WT</text>
<text x="569.5" y="33.3" font-size="24.2" textLength="167.5" lengthAdjust="spacingAndGlyphs" fill="#0a0a0a" stroke="#0a0a0a" stroke-width="0.15">NAT1 deficiency</text>
<text x="58" y="77.3" font-size="20.8" textLength="161" lengthAdjust="spacingAndGlyphs" fill="#0a0a0a" stroke="#0a0a0a" stroke-width="0.15">Healthy pancreas</text>
<text x="250.6" y="268.2" font-size="16.7" textLength="112.4" lengthAdjust="spacingAndGlyphs" fill="#0a0a0a" stroke="#0a0a0a" stroke-width="0.15">Endothelial cell</text>
<text x="267.4" y="302.2" font-size="16.7" textLength="60.6" lengthAdjust="spacingAndGlyphs" fill="#0a0a0a" stroke="#0a0a0a" stroke-width="0.15">Pericyte</text>
<text x="25.8" y="476.4" font-size="19.3" textLength="124.4" lengthAdjust="spacingAndGlyphs" fill="#0a0a0a" stroke="#0a0a0a" stroke-width="0.15">Healthy kidney</text>
<text x="207.6" y="476.9" font-size="19.3" textLength="110.2" lengthAdjust="spacingAndGlyphs" fill="#0a0a0a" stroke="#0a0a0a" stroke-width="0.15">Healthy WAT</text>
<text x="470.6" y="64.4" font-size="16.7" textLength="94.4" lengthAdjust="spacingAndGlyphs" fill="#0a0a0a" stroke="#0a0a0a" stroke-width="0.15">Macrophage</text>
<text x="482.2" y="83.5" font-size="16.7" textLength="71.6" lengthAdjust="spacingAndGlyphs" fill="#0a0a0a" stroke="#0a0a0a" stroke-width="0.15">infiltration</text>
<text x="414.5" y="154.5" font-size="16.7" textLength="82.2" lengthAdjust="spacingAndGlyphs" fill="#0a0a0a" stroke="#0a0a0a" stroke-width="0.15">Caspase-3</text>
<text x="419.5" y="172.6" font-size="16.7" textLength="71.3" lengthAdjust="spacingAndGlyphs" fill="#0a0a0a" stroke="#0a0a0a" stroke-width="0.15">activation</text>
<text x="558.4" y="164.4" font-size="14.3" textLength="104" lengthAdjust="spacingAndGlyphs" fill="#0a0a0a" stroke="#0a0a0a" stroke-width="0.15">Cytokine release</text>
<text x="562.4" y="177.6" font-size="12.1" textLength="96" lengthAdjust="spacingAndGlyphs" fill="#0a0a0a" stroke="#0a0a0a" stroke-width="0.15">(TNF-α,IL-6,IL-1β,</text>
<text x="553.5" y="190.8" font-size="12.1" textLength="113.2" lengthAdjust="spacingAndGlyphs" fill="#0a0a0a" stroke="#0a0a0a" stroke-width="0.15">Ccl2,Cxcl1,Cxcl2......)</text>
<text x="420.5" y="237.0" font-size="17.2" textLength="271.6" lengthAdjust="spacingAndGlyphs" fill="#0a0a0a" stroke="#0a0a0a" stroke-width="0.15">Pancreatic endothelial cell damage</text>
<text x="749.7" y="237.0" font-size="17.2" textLength="93.8" lengthAdjust="spacingAndGlyphs" fill="#0a0a0a" stroke="#0a0a0a" stroke-width="0.15">Pericyte loss</text>
<text x="580.5" y="261.8" font-size="19.3" textLength="192" lengthAdjust="spacingAndGlyphs" fill="#0a0a0a" stroke="#0a0a0a" stroke-width="0.15">Early-stage pancreatic</text>
<text x="603.9" y="283.2" font-size="19.3" textLength="146.5" lengthAdjust="spacingAndGlyphs" fill="#0a0a0a" stroke="#0a0a0a" stroke-width="0.15">vascular damage</text>
<text x="448.5" y="342.0" font-size="25.8" textLength="76.3" lengthAdjust="spacingAndGlyphs" fill="#ff0606" stroke="#ff0606" stroke-width="0.15">RIPK1</text>
<text x="432" y="372.6" font-size="25.8" textLength="111.9" lengthAdjust="spacingAndGlyphs" fill="#ff0606" stroke="#ff0606" stroke-width="0.15">activation</text>
<text x="618.7" y="378.3" font-size="18.3" textLength="80.2" lengthAdjust="spacingAndGlyphs" fill="#0a0a0a" stroke="#0a0a0a" stroke-width="0.15">Nec-1s or</text>
<text x="629.3" y="398.7" font-size="18.3" textLength="58.4" lengthAdjust="spacingAndGlyphs" fill="#0a0a0a" stroke="#0a0a0a" stroke-width="0.15">D138N</text>
<text x="796.3" y="374.6" font-size="18.2" textLength="52.1" lengthAdjust="spacingAndGlyphs" fill="#0a0a0a" stroke="#0a0a0a" stroke-width="0.15">insulin</text>
<text x="783.7" y="394.8" font-size="18.2" textLength="83.9" lengthAdjust="spacingAndGlyphs" fill="#0a0a0a" stroke="#0a0a0a" stroke-width="0.15">resistance</text>
<text x="400.9" y="477.6" font-size="19.0" textLength="222" lengthAdjust="spacingAndGlyphs" fill="#0a0a0a" stroke="#0a0a0a" stroke-width="0.15">Late-stage diabetic kidney</text>
<text x="450.4" y="497.9" font-size="19.0" textLength="125.7" lengthAdjust="spacingAndGlyphs" fill="#0a0a0a" stroke="#0a0a0a" stroke-width="0.15">tissue damage</text>
<text x="665.7" y="474.5" font-size="19.0" textLength="208.3" lengthAdjust="spacingAndGlyphs" fill="#0a0a0a" stroke="#0a0a0a" stroke-width="0.15">Late-stage diabetic WAT</text>
<text x="708.6" y="494.6" font-size="19.0" textLength="124.4" lengthAdjust="spacingAndGlyphs" fill="#0a0a0a" stroke="#0a0a0a" stroke-width="0.15">tissue damage</text></g>
</svg>
</body></html>
